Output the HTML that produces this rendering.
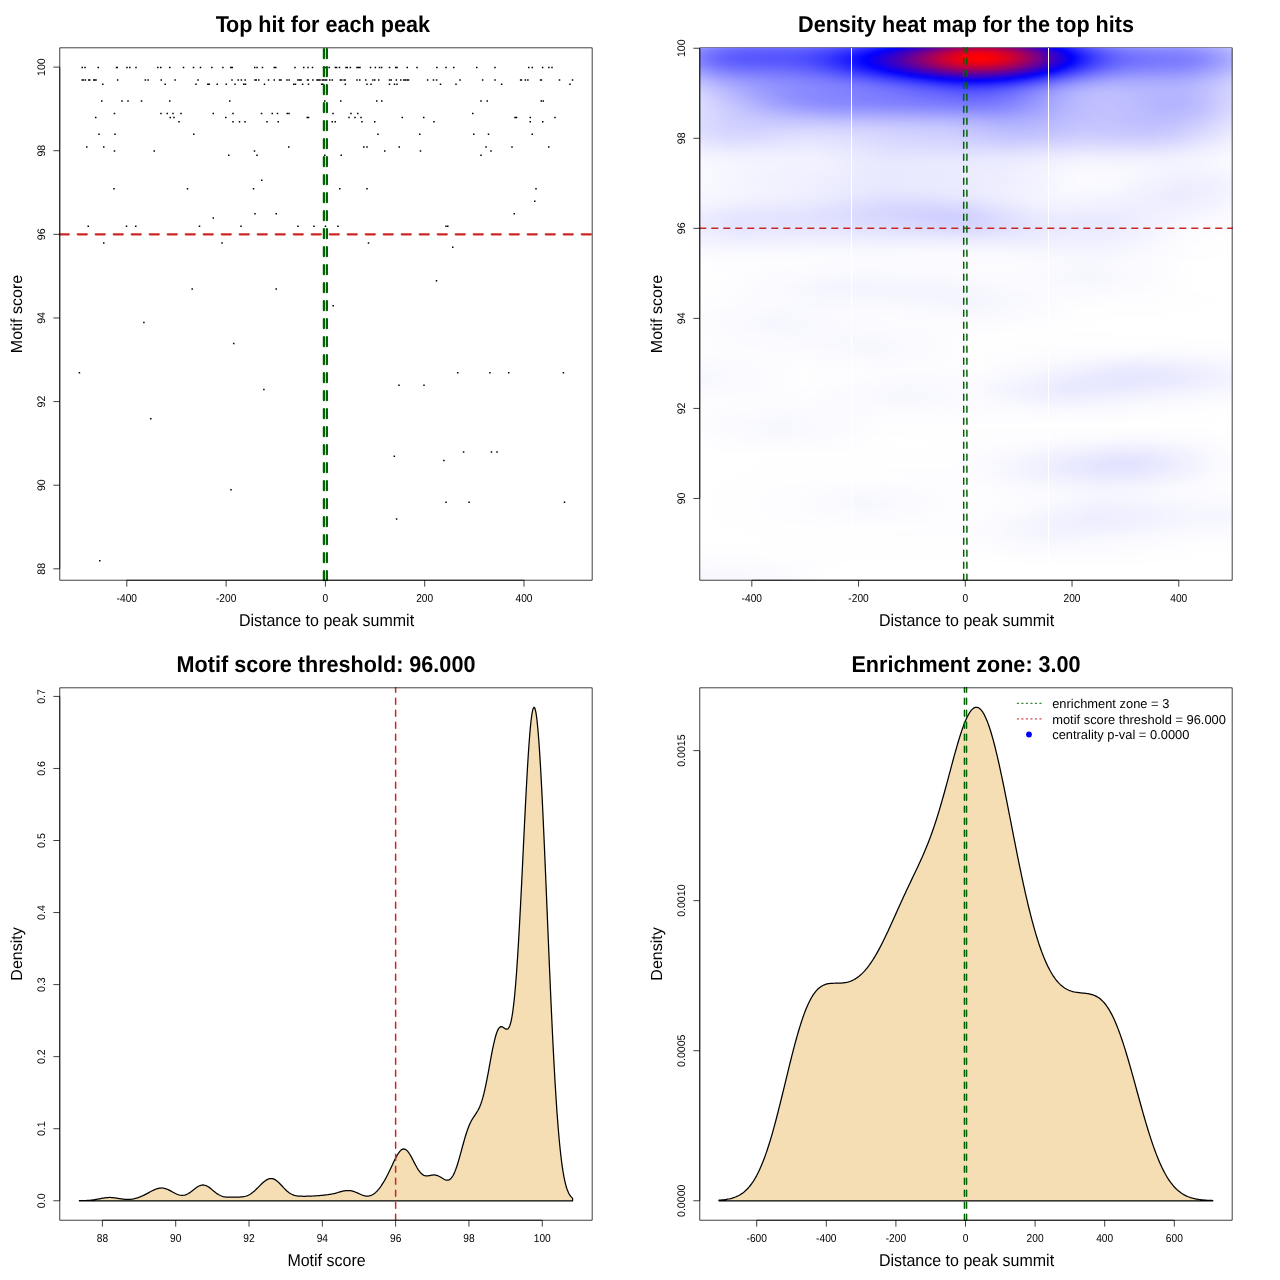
<!DOCTYPE html>
<html><head><meta charset="utf-8"><title>plot</title>
<style>html,body{margin:0;padding:0;background:#fff}svg{display:block}text{font-family:"Liberation Sans",sans-serif;fill:#000;font-kerning:normal;text-rendering:geometricPrecision;opacity:0.999}</style></head><body>
<svg width="1280" height="1280" viewBox="0 0 1280 1280">
<rect width="1280" height="1280" fill="#fff"/>
<!-- panel 1 -->
<g id="p1"><path d="M81.50 66.70h1.5v1.5h-1.5zM84.25 66.70h1.5v1.5h-1.5zM97.50 66.70h1.5v1.5h-1.5zM115.75 66.70h1.5v1.5h-1.5zM116.50 66.70h1.5v1.5h-1.5zM126.25 66.70h1.5v1.5h-1.5zM129.00 66.70h1.5v1.5h-1.5zM135.25 66.70h1.5v1.5h-1.5zM157.12 66.70h1.5v1.5h-1.5zM160.00 66.70h1.5v1.5h-1.5zM169.00 66.70h1.5v1.5h-1.5zM182.75 66.70h1.5v1.5h-1.5zM192.75 66.70h1.5v1.5h-1.5zM199.75 66.70h1.5v1.5h-1.5zM211.12 66.70h1.5v1.5h-1.5zM81.50 79.24h1.5v1.5h-1.5zM82.50 79.24h1.5v1.5h-1.5zM84.62 79.24h1.5v1.5h-1.5zM88.00 79.24h1.5v1.5h-1.5zM89.00 79.24h1.5v1.5h-1.5zM93.00 79.24h1.5v1.5h-1.5zM94.25 79.24h1.5v1.5h-1.5zM95.25 79.24h1.5v1.5h-1.5zM116.88 79.24h1.5v1.5h-1.5zM144.62 79.24h1.5v1.5h-1.5zM147.38 79.24h1.5v1.5h-1.5zM160.50 79.24h1.5v1.5h-1.5zM174.38 79.24h1.5v1.5h-1.5zM197.25 79.24h1.5v1.5h-1.5zM102.00 83.42h1.5v1.5h-1.5zM164.38 83.42h1.5v1.5h-1.5zM195.25 83.42h1.5v1.5h-1.5zM207.12 83.42h1.5v1.5h-1.5zM208.38 83.42h1.5v1.5h-1.5zM222.12 66.70h1.5v1.5h-1.5zM230.00 66.70h1.5v1.5h-1.5zM231.50 66.70h1.5v1.5h-1.5zM254.00 66.70h1.5v1.5h-1.5zM256.25 66.70h1.5v1.5h-1.5zM261.75 66.70h1.5v1.5h-1.5zM273.50 66.70h1.5v1.5h-1.5zM275.00 66.70h1.5v1.5h-1.5zM294.25 66.70h1.5v1.5h-1.5zM303.00 66.70h1.5v1.5h-1.5zM307.25 66.70h1.5v1.5h-1.5zM311.75 66.70h1.5v1.5h-1.5zM322.75 66.70h1.5v1.5h-1.5zM324.62 66.70h1.5v1.5h-1.5zM328.38 66.70h1.5v1.5h-1.5zM334.62 66.70h1.5v1.5h-1.5zM335.88 66.70h1.5v1.5h-1.5zM338.75 66.70h1.5v1.5h-1.5zM345.25 66.70h1.5v1.5h-1.5zM346.50 66.70h1.5v1.5h-1.5zM349.62 66.70h1.5v1.5h-1.5zM356.25 66.70h1.5v1.5h-1.5zM357.75 66.70h1.5v1.5h-1.5zM359.25 66.70h1.5v1.5h-1.5zM369.75 66.70h1.5v1.5h-1.5zM374.62 66.70h1.5v1.5h-1.5zM231.25 79.24h1.5v1.5h-1.5zM237.50 79.24h1.5v1.5h-1.5zM240.62 79.24h1.5v1.5h-1.5zM244.38 79.24h1.5v1.5h-1.5zM254.25 79.24h1.5v1.5h-1.5zM255.50 79.24h1.5v1.5h-1.5zM258.00 79.24h1.5v1.5h-1.5zM267.75 79.24h1.5v1.5h-1.5zM273.50 79.24h1.5v1.5h-1.5zM278.75 79.24h1.5v1.5h-1.5zM280.25 79.24h1.5v1.5h-1.5zM286.25 79.24h1.5v1.5h-1.5zM288.38 79.24h1.5v1.5h-1.5zM297.12 79.24h1.5v1.5h-1.5zM298.75 79.24h1.5v1.5h-1.5zM300.25 79.24h1.5v1.5h-1.5zM306.75 79.24h1.5v1.5h-1.5zM307.50 79.24h1.5v1.5h-1.5zM312.12 79.24h1.5v1.5h-1.5zM316.25 79.24h1.5v1.5h-1.5zM317.75 79.24h1.5v1.5h-1.5zM319.25 79.24h1.5v1.5h-1.5zM321.50 79.24h1.5v1.5h-1.5zM323.00 79.24h1.5v1.5h-1.5zM324.62 79.24h1.5v1.5h-1.5zM325.88 79.24h1.5v1.5h-1.5zM329.00 79.24h1.5v1.5h-1.5zM331.50 79.24h1.5v1.5h-1.5zM339.62 79.24h1.5v1.5h-1.5zM340.88 79.24h1.5v1.5h-1.5zM343.38 79.24h1.5v1.5h-1.5zM344.38 79.24h1.5v1.5h-1.5zM356.25 79.24h1.5v1.5h-1.5zM359.00 79.24h1.5v1.5h-1.5zM365.00 79.24h1.5v1.5h-1.5zM372.12 79.24h1.5v1.5h-1.5zM374.00 79.24h1.5v1.5h-1.5zM216.50 83.42h1.5v1.5h-1.5zM225.50 83.42h1.5v1.5h-1.5zM234.25 83.42h1.5v1.5h-1.5zM243.00 83.42h1.5v1.5h-1.5zM244.75 83.42h1.5v1.5h-1.5zM263.75 83.42h1.5v1.5h-1.5zM293.00 83.42h1.5v1.5h-1.5zM294.75 83.42h1.5v1.5h-1.5zM301.88 83.42h1.5v1.5h-1.5zM307.75 83.42h1.5v1.5h-1.5zM320.88 83.42h1.5v1.5h-1.5zM322.12 83.42h1.5v1.5h-1.5zM344.62 83.42h1.5v1.5h-1.5zM366.25 83.42h1.5v1.5h-1.5zM370.25 83.42h1.5v1.5h-1.5zM378.75 66.70h1.5v1.5h-1.5zM380.88 66.70h1.5v1.5h-1.5zM388.75 66.70h1.5v1.5h-1.5zM395.00 66.70h1.5v1.5h-1.5zM396.25 66.70h1.5v1.5h-1.5zM406.50 66.70h1.5v1.5h-1.5zM416.25 66.70h1.5v1.5h-1.5zM436.12 66.70h1.5v1.5h-1.5zM445.25 66.70h1.5v1.5h-1.5zM453.00 66.70h1.5v1.5h-1.5zM476.00 66.70h1.5v1.5h-1.5zM494.25 66.70h1.5v1.5h-1.5zM528.00 66.70h1.5v1.5h-1.5zM531.50 66.70h1.5v1.5h-1.5zM378.00 79.24h1.5v1.5h-1.5zM388.75 79.24h1.5v1.5h-1.5zM390.50 79.24h1.5v1.5h-1.5zM395.62 79.24h1.5v1.5h-1.5zM400.00 79.24h1.5v1.5h-1.5zM403.00 79.24h1.5v1.5h-1.5zM404.62 79.24h1.5v1.5h-1.5zM406.25 79.24h1.5v1.5h-1.5zM407.75 79.24h1.5v1.5h-1.5zM426.88 79.24h1.5v1.5h-1.5zM432.75 79.24h1.5v1.5h-1.5zM435.88 79.24h1.5v1.5h-1.5zM459.25 79.24h1.5v1.5h-1.5zM481.88 79.24h1.5v1.5h-1.5zM494.25 79.24h1.5v1.5h-1.5zM519.88 79.24h1.5v1.5h-1.5zM520.62 79.24h1.5v1.5h-1.5zM524.62 79.24h1.5v1.5h-1.5zM527.12 79.24h1.5v1.5h-1.5zM388.75 83.42h1.5v1.5h-1.5zM393.75 83.42h1.5v1.5h-1.5zM396.25 83.42h1.5v1.5h-1.5zM439.75 83.42h1.5v1.5h-1.5zM455.25 83.42h1.5v1.5h-1.5zM500.88 83.42h1.5v1.5h-1.5zM541.88 66.70h1.5v1.5h-1.5zM548.12 66.70h1.5v1.5h-1.5zM551.25 66.70h1.5v1.5h-1.5zM539.88 79.24h1.5v1.5h-1.5zM540.62 79.24h1.5v1.5h-1.5zM558.75 79.24h1.5v1.5h-1.5zM571.75 79.24h1.5v1.5h-1.5zM569.25 83.42h1.5v1.5h-1.5zM101.00 100.15h1.5v1.5h-1.5zM121.25 100.15h1.5v1.5h-1.5zM127.25 100.15h1.5v1.5h-1.5zM140.75 100.15h1.5v1.5h-1.5zM169.00 100.15h1.5v1.5h-1.5zM229.00 100.15h1.5v1.5h-1.5zM324.00 100.15h1.5v1.5h-1.5zM340.00 100.15h1.5v1.5h-1.5zM113.75 112.69h1.5v1.5h-1.5zM160.25 112.69h1.5v1.5h-1.5zM166.50 112.69h1.5v1.5h-1.5zM172.25 112.69h1.5v1.5h-1.5zM180.25 112.69h1.5v1.5h-1.5zM212.50 112.69h1.5v1.5h-1.5zM232.25 112.69h1.5v1.5h-1.5zM260.75 112.69h1.5v1.5h-1.5zM271.50 112.69h1.5v1.5h-1.5zM276.75 112.69h1.5v1.5h-1.5zM286.50 112.69h1.5v1.5h-1.5zM288.25 112.69h1.5v1.5h-1.5zM332.25 112.69h1.5v1.5h-1.5zM350.25 112.69h1.5v1.5h-1.5zM357.00 112.69h1.5v1.5h-1.5zM95.00 116.87h1.5v1.5h-1.5zM169.50 116.87h1.5v1.5h-1.5zM173.25 116.87h1.5v1.5h-1.5zM225.00 116.87h1.5v1.5h-1.5zM306.50 116.87h1.5v1.5h-1.5zM307.75 116.87h1.5v1.5h-1.5zM348.25 116.87h1.5v1.5h-1.5zM354.25 116.87h1.5v1.5h-1.5zM360.25 116.87h1.5v1.5h-1.5zM178.25 121.05h1.5v1.5h-1.5zM232.25 121.05h1.5v1.5h-1.5zM238.75 121.05h1.5v1.5h-1.5zM244.25 121.05h1.5v1.5h-1.5zM266.25 121.05h1.5v1.5h-1.5zM277.50 121.05h1.5v1.5h-1.5zM331.50 121.05h1.5v1.5h-1.5zM334.50 121.05h1.5v1.5h-1.5zM361.25 121.05h1.5v1.5h-1.5zM374.00 121.05h1.5v1.5h-1.5zM98.25 133.60h1.5v1.5h-1.5zM114.25 133.60h1.5v1.5h-1.5zM193.00 133.60h1.5v1.5h-1.5zM86.00 146.14h1.5v1.5h-1.5zM103.00 146.14h1.5v1.5h-1.5zM288.00 146.14h1.5v1.5h-1.5zM363.00 146.14h1.5v1.5h-1.5zM366.25 146.14h1.5v1.5h-1.5zM113.75 150.32h1.5v1.5h-1.5zM153.50 150.32h1.5v1.5h-1.5zM253.75 150.32h1.5v1.5h-1.5zM228.00 154.50h1.5v1.5h-1.5zM256.25 154.50h1.5v1.5h-1.5zM324.00 154.50h1.5v1.5h-1.5zM340.50 154.50h1.5v1.5h-1.5zM261.00 179.59h1.5v1.5h-1.5zM113.25 187.95h1.5v1.5h-1.5zM186.75 187.95h1.5v1.5h-1.5zM252.75 187.95h1.5v1.5h-1.5zM339.00 187.95h1.5v1.5h-1.5zM366.25 187.95h1.5v1.5h-1.5zM254.25 213.03h1.5v1.5h-1.5zM275.50 213.03h1.5v1.5h-1.5zM212.50 217.22h1.5v1.5h-1.5zM87.50 225.58h1.5v1.5h-1.5zM125.75 225.58h1.5v1.5h-1.5zM135.00 225.58h1.5v1.5h-1.5zM198.75 225.58h1.5v1.5h-1.5zM240.25 225.58h1.5v1.5h-1.5zM297.25 225.58h1.5v1.5h-1.5zM313.25 225.58h1.5v1.5h-1.5zM324.75 225.58h1.5v1.5h-1.5zM337.25 225.58h1.5v1.5h-1.5zM103.00 242.30h1.5v1.5h-1.5zM221.25 242.30h1.5v1.5h-1.5zM367.75 242.30h1.5v1.5h-1.5zM376.00 100.15h1.5v1.5h-1.5zM381.00 100.15h1.5v1.5h-1.5zM480.25 100.15h1.5v1.5h-1.5zM486.50 100.15h1.5v1.5h-1.5zM540.50 100.15h1.5v1.5h-1.5zM542.50 100.15h1.5v1.5h-1.5zM472.00 112.69h1.5v1.5h-1.5zM401.50 116.87h1.5v1.5h-1.5zM423.00 116.87h1.5v1.5h-1.5zM514.25 116.87h1.5v1.5h-1.5zM515.75 116.87h1.5v1.5h-1.5zM529.50 116.87h1.5v1.5h-1.5zM554.25 116.87h1.5v1.5h-1.5zM433.25 121.05h1.5v1.5h-1.5zM529.50 121.05h1.5v1.5h-1.5zM542.00 121.05h1.5v1.5h-1.5zM377.25 133.60h1.5v1.5h-1.5zM419.00 133.60h1.5v1.5h-1.5zM473.00 133.60h1.5v1.5h-1.5zM487.75 133.60h1.5v1.5h-1.5zM531.50 133.60h1.5v1.5h-1.5zM398.50 146.14h1.5v1.5h-1.5zM485.25 146.14h1.5v1.5h-1.5zM511.25 146.14h1.5v1.5h-1.5zM548.00 146.14h1.5v1.5h-1.5zM384.00 150.32h1.5v1.5h-1.5zM419.75 150.32h1.5v1.5h-1.5zM490.25 150.32h1.5v1.5h-1.5zM480.25 154.50h1.5v1.5h-1.5zM535.25 187.95h1.5v1.5h-1.5zM534.00 200.49h1.5v1.5h-1.5zM513.50 213.03h1.5v1.5h-1.5zM445.25 225.58h1.5v1.5h-1.5zM447.00 225.58h1.5v1.5h-1.5zM452.00 246.48h1.5v1.5h-1.5zM191.45 288.29h1.5v1.5h-1.5zM275.45 288.29h1.5v1.5h-1.5zM332.45 305.02h1.5v1.5h-1.5zM143.15 321.74h1.5v1.5h-1.5zM232.95 342.65h1.5v1.5h-1.5zM78.65 371.91h1.5v1.5h-1.5zM263.15 388.64h1.5v1.5h-1.5zM150.05 417.90h1.5v1.5h-1.5zM230.25 488.98h1.5v1.5h-1.5zM99.05 560.06h1.5v1.5h-1.5zM435.75 279.93h1.5v1.5h-1.5zM456.95 371.91h1.5v1.5h-1.5zM489.15 371.91h1.5v1.5h-1.5zM507.95 371.91h1.5v1.5h-1.5zM562.65 371.91h1.5v1.5h-1.5zM398.25 384.46h1.5v1.5h-1.5zM423.25 384.46h1.5v1.5h-1.5zM462.85 451.35h1.5v1.5h-1.5zM490.75 451.35h1.5v1.5h-1.5zM496.25 451.35h1.5v1.5h-1.5zM393.55 455.53h1.5v1.5h-1.5zM443.15 459.71h1.5v1.5h-1.5zM445.25 501.52h1.5v1.5h-1.5zM468.35 501.52h1.5v1.5h-1.5zM563.75 501.52h1.5v1.5h-1.5zM395.85 518.25h1.5v1.5h-1.5z" fill="#000"/><line x1="59.76" y1="234.34" x2="592.19" y2="234.34" stroke="#cd2626" stroke-width="2.25" stroke-dasharray="9 9" stroke-linecap="round"/><line x1="323.91" y1="580.24" x2="323.91" y2="47.81" stroke="#006400" stroke-width="2.25" stroke-dasharray="9 9" stroke-linecap="round"/><line x1="326.89" y1="580.24" x2="326.89" y2="47.81" stroke="#006400" stroke-width="2.25" stroke-dasharray="9 9" stroke-linecap="round"/><rect x="59.76" y="47.81" width="532.4300000000001" height="532.4300000000001" fill="none" stroke="#000" stroke-width="0.75" stroke-linejoin="round"/><line x1="126.80" y1="580.24" x2="524.00" y2="580.24" stroke="#000" stroke-width="0.75"/><line x1="126.80" y1="580.24" x2="126.80" y2="586.64" stroke="#000" stroke-width="0.75"/><text transform="translate(126.80,601.9) scale(1.02,1.14)" font-size="10" text-anchor="middle">-400</text><line x1="226.10" y1="580.24" x2="226.10" y2="586.64" stroke="#000" stroke-width="0.75"/><text transform="translate(226.10,601.9) scale(1.02,1.14)" font-size="10" text-anchor="middle">-200</text><line x1="325.40" y1="580.24" x2="325.40" y2="586.64" stroke="#000" stroke-width="0.75"/><text transform="translate(325.40,601.9) scale(1.02,1.14)" font-size="10" text-anchor="middle">0</text><line x1="424.70" y1="580.24" x2="424.70" y2="586.64" stroke="#000" stroke-width="0.75"/><text transform="translate(424.70,601.9) scale(1.02,1.14)" font-size="10" text-anchor="middle">200</text><line x1="524.00" y1="580.24" x2="524.00" y2="586.64" stroke="#000" stroke-width="0.75"/><text transform="translate(524.00,601.9) scale(1.02,1.14)" font-size="10" text-anchor="middle">400</text><line x1="59.76" y1="568.82" x2="59.76" y2="67.10" stroke="#000" stroke-width="0.75"/><line x1="53.36" y1="568.82" x2="59.76" y2="568.82" stroke="#000" stroke-width="0.75"/><text transform="translate(45.26,568.82) rotate(-90) scale(1.06,1.1)" font-size="10" text-anchor="middle">88</text><line x1="53.36" y1="485.20" x2="59.76" y2="485.20" stroke="#000" stroke-width="0.75"/><text transform="translate(45.26,485.20) rotate(-90) scale(1.06,1.1)" font-size="10" text-anchor="middle">90</text><line x1="53.36" y1="401.58" x2="59.76" y2="401.58" stroke="#000" stroke-width="0.75"/><text transform="translate(45.26,401.58) rotate(-90) scale(1.06,1.1)" font-size="10" text-anchor="middle">92</text><line x1="53.36" y1="317.96" x2="59.76" y2="317.96" stroke="#000" stroke-width="0.75"/><text transform="translate(45.26,317.96) rotate(-90) scale(1.06,1.1)" font-size="10" text-anchor="middle">94</text><line x1="53.36" y1="234.34" x2="59.76" y2="234.34" stroke="#000" stroke-width="0.75"/><text transform="translate(45.26,234.34) rotate(-90) scale(1.06,1.1)" font-size="10" text-anchor="middle">96</text><line x1="53.36" y1="150.72" x2="59.76" y2="150.72" stroke="#000" stroke-width="0.75"/><text transform="translate(45.26,150.72) rotate(-90) scale(1.06,1.1)" font-size="10" text-anchor="middle">98</text><line x1="53.36" y1="67.10" x2="59.76" y2="67.10" stroke="#000" stroke-width="0.75"/><text transform="translate(45.26,67.10) rotate(-90) scale(1.06,1.1)" font-size="10" text-anchor="middle">100</text><text transform="translate(322.8,32.0) scale(1,1.06)" font-size="21.6" font-weight="bold" text-anchor="middle">T<tspan dx="-1.3">op hit for each peak</tspan></text><text transform="translate(326.5,626.1) scale(1,1.06)" font-size="16" text-anchor="middle">Distance to peak summit</text><text transform="translate(22.10,314.0) rotate(-90)" font-size="16" text-anchor="middle">Motif score</text></g>
<!-- panel 2 -->
<g id="p2"><line x1="699.76" y1="47.81" x2="1232.19" y2="47.81" stroke="#000" stroke-width="0.75"/><defs><linearGradient id="h0" gradientUnits="userSpaceOnUse" x1="699.76" x2="1232.19" y1="0" y2="0"><stop offset="0.0000" stop-color="#9f9fff"/><stop offset="0.0338" stop-color="#8c8cff"/><stop offset="0.0639" stop-color="#8181ff"/><stop offset="0.0977" stop-color="#7c7cff"/><stop offset="0.1842" stop-color="#7979ff"/><stop offset="0.2256" stop-color="#7272ff"/><stop offset="0.2669" stop-color="#6464ff"/><stop offset="0.3045" stop-color="#5151ff"/><stop offset="0.3383" stop-color="#3939ff"/><stop offset="0.3684" stop-color="#1f1fff"/><stop offset="0.3947" stop-color="#0202ff"/><stop offset="0.3985" stop-color="#0300fc"/><stop offset="0.4662" stop-color="#5900a6"/><stop offset="0.4887" stop-color="#71008e"/><stop offset="0.5075" stop-color="#7e0081"/><stop offset="0.5226" stop-color="#83007c"/><stop offset="0.5376" stop-color="#84007b"/><stop offset="0.5526" stop-color="#7f0080"/><stop offset="0.5714" stop-color="#72008d"/><stop offset="0.5902" stop-color="#5e00a1"/><stop offset="0.6128" stop-color="#4000bf"/><stop offset="0.6504" stop-color="#0500fa"/><stop offset="0.6541" stop-color="#0101ff"/><stop offset="0.6880" stop-color="#3434ff"/><stop offset="0.7143" stop-color="#5656ff"/><stop offset="0.7406" stop-color="#7272ff"/><stop offset="0.7669" stop-color="#8686ff"/><stop offset="0.7932" stop-color="#9393ff"/><stop offset="0.8233" stop-color="#9b9bff"/><stop offset="0.9098" stop-color="#a2a2ff"/><stop offset="0.9436" stop-color="#ababff"/><stop offset="0.9812" stop-color="#bbbbff"/><stop offset="1.0000" stop-color="#c5c5ff"/></linearGradient><linearGradient id="h1" gradientUnits="userSpaceOnUse" x1="699.76" x2="1232.19" y1="0" y2="0"><stop offset="0.0000" stop-color="#9797ff"/><stop offset="0.0301" stop-color="#8585ff"/><stop offset="0.0602" stop-color="#7878ff"/><stop offset="0.0940" stop-color="#7272ff"/><stop offset="0.1805" stop-color="#7070ff"/><stop offset="0.2180" stop-color="#6969ff"/><stop offset="0.2556" stop-color="#5b5bff"/><stop offset="0.2932" stop-color="#4848ff"/><stop offset="0.3271" stop-color="#3030ff"/><stop offset="0.3571" stop-color="#1515ff"/><stop offset="0.3759" stop-color="#0101ff"/><stop offset="0.3835" stop-color="#0800f7"/><stop offset="0.4173" stop-color="#3400cb"/><stop offset="0.4624" stop-color="#73008c"/><stop offset="0.4850" stop-color="#8d0072"/><stop offset="0.5038" stop-color="#9c0063"/><stop offset="0.5188" stop-color="#a3005c"/><stop offset="0.5338" stop-color="#a4005b"/><stop offset="0.5489" stop-color="#a0005f"/><stop offset="0.5639" stop-color="#960069"/><stop offset="0.5827" stop-color="#84007b"/><stop offset="0.6015" stop-color="#6b0094"/><stop offset="0.6316" stop-color="#3b00c4"/><stop offset="0.6654" stop-color="#0200fd"/><stop offset="0.6692" stop-color="#0505ff"/><stop offset="0.6992" stop-color="#3333ff"/><stop offset="0.7256" stop-color="#5555ff"/><stop offset="0.7481" stop-color="#6c6cff"/><stop offset="0.7707" stop-color="#7e7eff"/><stop offset="0.7970" stop-color="#8b8bff"/><stop offset="0.8271" stop-color="#9393ff"/><stop offset="0.9098" stop-color="#9a9aff"/><stop offset="0.9436" stop-color="#a3a3ff"/><stop offset="0.9812" stop-color="#b5b5ff"/><stop offset="1.0000" stop-color="#c0c0ff"/></linearGradient><linearGradient id="h2" gradientUnits="userSpaceOnUse" x1="699.76" x2="1232.19" y1="0" y2="0"><stop offset="0.0000" stop-color="#9090ff"/><stop offset="0.0301" stop-color="#7c7cff"/><stop offset="0.0564" stop-color="#7171ff"/><stop offset="0.0865" stop-color="#6a6aff"/><stop offset="0.1805" stop-color="#6767ff"/><stop offset="0.2180" stop-color="#5f5fff"/><stop offset="0.2519" stop-color="#5151ff"/><stop offset="0.2895" stop-color="#3c3cff"/><stop offset="0.3233" stop-color="#2222ff"/><stop offset="0.3534" stop-color="#0606ff"/><stop offset="0.3571" stop-color="#0202ff"/><stop offset="0.3609" stop-color="#0200fd"/><stop offset="0.3910" stop-color="#2700d8"/><stop offset="0.4323" stop-color="#63009c"/><stop offset="0.4662" stop-color="#93006c"/><stop offset="0.4850" stop-color="#a90056"/><stop offset="0.5038" stop-color="#b90046"/><stop offset="0.5188" stop-color="#bf0040"/><stop offset="0.5338" stop-color="#c0003f"/><stop offset="0.5489" stop-color="#bc0043"/><stop offset="0.5639" stop-color="#b2004d"/><stop offset="0.5827" stop-color="#9e0061"/><stop offset="0.6015" stop-color="#83007c"/><stop offset="0.6278" stop-color="#5700a8"/><stop offset="0.6767" stop-color="#0000ff"/><stop offset="0.7030" stop-color="#2a2aff"/><stop offset="0.7256" stop-color="#4949ff"/><stop offset="0.7481" stop-color="#6161ff"/><stop offset="0.7707" stop-color="#7474ff"/><stop offset="0.7932" stop-color="#8181ff"/><stop offset="0.8195" stop-color="#8989ff"/><stop offset="0.8609" stop-color="#8e8eff"/><stop offset="0.9098" stop-color="#9292ff"/><stop offset="0.9398" stop-color="#9b9bff"/><stop offset="0.9737" stop-color="#ababff"/><stop offset="1.0000" stop-color="#bbbbff"/></linearGradient><linearGradient id="h3" gradientUnits="userSpaceOnUse" x1="699.76" x2="1232.19" y1="0" y2="0"><stop offset="0.0000" stop-color="#8a8aff"/><stop offset="0.0301" stop-color="#7676ff"/><stop offset="0.0564" stop-color="#6a6aff"/><stop offset="0.0865" stop-color="#6363ff"/><stop offset="0.1767" stop-color="#5f5fff"/><stop offset="0.2105" stop-color="#5858ff"/><stop offset="0.2444" stop-color="#4b4bff"/><stop offset="0.2782" stop-color="#3737ff"/><stop offset="0.3120" stop-color="#1e1eff"/><stop offset="0.3421" stop-color="#0101ff"/><stop offset="0.3459" stop-color="#0300fc"/><stop offset="0.3759" stop-color="#2600d9"/><stop offset="0.4060" stop-color="#5000af"/><stop offset="0.4586" stop-color="#a0005f"/><stop offset="0.4812" stop-color="#bd0042"/><stop offset="0.5000" stop-color="#ce0031"/><stop offset="0.5150" stop-color="#d60029"/><stop offset="0.5301" stop-color="#d90026"/><stop offset="0.5451" stop-color="#d5002a"/><stop offset="0.5602" stop-color="#cc0033"/><stop offset="0.5752" stop-color="#bd0042"/><stop offset="0.5940" stop-color="#a3005c"/><stop offset="0.6165" stop-color="#7e0081"/><stop offset="0.6805" stop-color="#0800f7"/><stop offset="0.6842" stop-color="#0100fe"/><stop offset="0.6880" stop-color="#0505ff"/><stop offset="0.7143" stop-color="#2e2eff"/><stop offset="0.7368" stop-color="#4c4cff"/><stop offset="0.7594" stop-color="#6363ff"/><stop offset="0.7820" stop-color="#7373ff"/><stop offset="0.8083" stop-color="#7f7fff"/><stop offset="0.8383" stop-color="#8585ff"/><stop offset="0.9060" stop-color="#8b8bff"/><stop offset="0.9361" stop-color="#9393ff"/><stop offset="0.9699" stop-color="#a4a4ff"/><stop offset="1.0000" stop-color="#b7b7ff"/></linearGradient><linearGradient id="h4" gradientUnits="userSpaceOnUse" x1="699.76" x2="1232.19" y1="0" y2="0"><stop offset="0.0000" stop-color="#8686ff"/><stop offset="0.0263" stop-color="#7373ff"/><stop offset="0.0526" stop-color="#6666ff"/><stop offset="0.0827" stop-color="#5e5eff"/><stop offset="0.1353" stop-color="#5c5cff"/><stop offset="0.1767" stop-color="#5a5aff"/><stop offset="0.2105" stop-color="#5252ff"/><stop offset="0.2444" stop-color="#4343ff"/><stop offset="0.2782" stop-color="#2e2eff"/><stop offset="0.3120" stop-color="#1212ff"/><stop offset="0.3308" stop-color="#0000ff"/><stop offset="0.3609" stop-color="#2200dd"/><stop offset="0.3910" stop-color="#4b00b4"/><stop offset="0.4586" stop-color="#b3004c"/><stop offset="0.4774" stop-color="#cc0033"/><stop offset="0.4962" stop-color="#df0020"/><stop offset="0.5113" stop-color="#e80017"/><stop offset="0.5263" stop-color="#ec0013"/><stop offset="0.5414" stop-color="#e90016"/><stop offset="0.5564" stop-color="#e0001f"/><stop offset="0.5714" stop-color="#d2002d"/><stop offset="0.5902" stop-color="#b90046"/><stop offset="0.6128" stop-color="#94006b"/><stop offset="0.6579" stop-color="#3e00c1"/><stop offset="0.6880" stop-color="#0600f9"/><stop offset="0.6917" stop-color="#0101ff"/><stop offset="0.7143" stop-color="#2525ff"/><stop offset="0.7368" stop-color="#4343ff"/><stop offset="0.7594" stop-color="#5b5bff"/><stop offset="0.7820" stop-color="#6c6cff"/><stop offset="0.8045" stop-color="#7777ff"/><stop offset="0.8346" stop-color="#7f7fff"/><stop offset="0.9060" stop-color="#8686ff"/><stop offset="0.9361" stop-color="#8e8eff"/><stop offset="0.9662" stop-color="#9d9dff"/><stop offset="1.0000" stop-color="#b3b3ff"/></linearGradient><linearGradient id="h5" gradientUnits="userSpaceOnUse" x1="699.76" x2="1232.19" y1="0" y2="0"><stop offset="0.0000" stop-color="#8282ff"/><stop offset="0.0263" stop-color="#6f6fff"/><stop offset="0.0526" stop-color="#6262ff"/><stop offset="0.0789" stop-color="#5b5bff"/><stop offset="0.1241" stop-color="#5959ff"/><stop offset="0.1692" stop-color="#5757ff"/><stop offset="0.2030" stop-color="#4f4fff"/><stop offset="0.2368" stop-color="#4141ff"/><stop offset="0.2707" stop-color="#2c2cff"/><stop offset="0.3045" stop-color="#1010ff"/><stop offset="0.3195" stop-color="#0101ff"/><stop offset="0.3233" stop-color="#0200fd"/><stop offset="0.3534" stop-color="#2400db"/><stop offset="0.3835" stop-color="#4c00b3"/><stop offset="0.4211" stop-color="#870078"/><stop offset="0.4586" stop-color="#c1003e"/><stop offset="0.4774" stop-color="#da0025"/><stop offset="0.4962" stop-color="#ec0013"/><stop offset="0.5113" stop-color="#f5000a"/><stop offset="0.5263" stop-color="#f90006"/><stop offset="0.5414" stop-color="#f60009"/><stop offset="0.5564" stop-color="#ec0013"/><stop offset="0.5714" stop-color="#de0021"/><stop offset="0.5902" stop-color="#c5003a"/><stop offset="0.6128" stop-color="#9f0060"/><stop offset="0.6541" stop-color="#4e00b1"/><stop offset="0.6880" stop-color="#0e00f1"/><stop offset="0.6955" stop-color="#0000ff"/><stop offset="0.7218" stop-color="#2929ff"/><stop offset="0.7444" stop-color="#4646ff"/><stop offset="0.7669" stop-color="#5c5cff"/><stop offset="0.7895" stop-color="#6c6cff"/><stop offset="0.8158" stop-color="#7676ff"/><stop offset="0.8496" stop-color="#7c7cff"/><stop offset="0.9023" stop-color="#8181ff"/><stop offset="0.9323" stop-color="#8989ff"/><stop offset="0.9624" stop-color="#9797ff"/><stop offset="1.0000" stop-color="#b1b1ff"/></linearGradient><linearGradient id="h6" gradientUnits="userSpaceOnUse" x1="699.76" x2="1232.19" y1="0" y2="0"><stop offset="0.0000" stop-color="#8181ff"/><stop offset="0.0263" stop-color="#6d6dff"/><stop offset="0.0526" stop-color="#6060ff"/><stop offset="0.0789" stop-color="#5959ff"/><stop offset="0.1241" stop-color="#5757ff"/><stop offset="0.1692" stop-color="#5555ff"/><stop offset="0.2030" stop-color="#4d4dff"/><stop offset="0.2331" stop-color="#3f3fff"/><stop offset="0.2669" stop-color="#2929ff"/><stop offset="0.3008" stop-color="#0d0dff"/><stop offset="0.3120" stop-color="#0202ff"/><stop offset="0.3158" stop-color="#0100fe"/><stop offset="0.3459" stop-color="#2200dd"/><stop offset="0.3759" stop-color="#4a00b5"/><stop offset="0.4098" stop-color="#7d0082"/><stop offset="0.4549" stop-color="#c4003b"/><stop offset="0.4774" stop-color="#e2001d"/><stop offset="0.4962" stop-color="#f4000b"/><stop offset="0.5113" stop-color="#fc0003"/><stop offset="0.5263" stop-color="#ff0000"/><stop offset="0.5414" stop-color="#fc0003"/><stop offset="0.5564" stop-color="#f2000d"/><stop offset="0.5714" stop-color="#e3001c"/><stop offset="0.5902" stop-color="#ca0035"/><stop offset="0.6128" stop-color="#a4005b"/><stop offset="0.6541" stop-color="#5300ac"/><stop offset="0.6880" stop-color="#1200ed"/><stop offset="0.6955" stop-color="#0500fa"/><stop offset="0.6992" stop-color="#0202ff"/><stop offset="0.7218" stop-color="#2525ff"/><stop offset="0.7444" stop-color="#4343ff"/><stop offset="0.7669" stop-color="#5959ff"/><stop offset="0.7895" stop-color="#6969ff"/><stop offset="0.8158" stop-color="#7373ff"/><stop offset="0.8496" stop-color="#7979ff"/><stop offset="0.9023" stop-color="#7e7eff"/><stop offset="0.9323" stop-color="#8686ff"/><stop offset="0.9624" stop-color="#9595ff"/><stop offset="1.0000" stop-color="#afafff"/></linearGradient><linearGradient id="h7" gradientUnits="userSpaceOnUse" x1="699.76" x2="1232.19" y1="0" y2="0"><stop offset="0.0000" stop-color="#8181ff"/><stop offset="0.0263" stop-color="#6d6dff"/><stop offset="0.0526" stop-color="#6060ff"/><stop offset="0.0789" stop-color="#5959ff"/><stop offset="0.1241" stop-color="#5757ff"/><stop offset="0.1692" stop-color="#5454ff"/><stop offset="0.2030" stop-color="#4c4cff"/><stop offset="0.2331" stop-color="#3e3eff"/><stop offset="0.2669" stop-color="#2727ff"/><stop offset="0.3008" stop-color="#0a0aff"/><stop offset="0.3083" stop-color="#0303ff"/><stop offset="0.3120" stop-color="#0100fe"/><stop offset="0.3459" stop-color="#2600d9"/><stop offset="0.3759" stop-color="#4e00b1"/><stop offset="0.4135" stop-color="#860079"/><stop offset="0.4549" stop-color="#c60039"/><stop offset="0.4737" stop-color="#df0020"/><stop offset="0.4925" stop-color="#f2000d"/><stop offset="0.5075" stop-color="#fb0004"/><stop offset="0.5226" stop-color="#ff0000"/><stop offset="0.5376" stop-color="#fd0002"/><stop offset="0.5526" stop-color="#f5000a"/><stop offset="0.5677" stop-color="#e70018"/><stop offset="0.5865" stop-color="#cf0030"/><stop offset="0.6053" stop-color="#b1004e"/><stop offset="0.6353" stop-color="#790086"/><stop offset="0.6842" stop-color="#1a00e5"/><stop offset="0.6955" stop-color="#0600f9"/><stop offset="0.6992" stop-color="#0101ff"/><stop offset="0.7218" stop-color="#2424ff"/><stop offset="0.7444" stop-color="#4242ff"/><stop offset="0.7669" stop-color="#5858ff"/><stop offset="0.7895" stop-color="#6767ff"/><stop offset="0.8158" stop-color="#7272ff"/><stop offset="0.8496" stop-color="#7878ff"/><stop offset="0.9023" stop-color="#7d7dff"/><stop offset="0.9323" stop-color="#8585ff"/><stop offset="0.9624" stop-color="#9494ff"/><stop offset="1.0000" stop-color="#aeaeff"/></linearGradient><linearGradient id="h8" gradientUnits="userSpaceOnUse" x1="699.76" x2="1232.19" y1="0" y2="0"><stop offset="0.0000" stop-color="#8282ff"/><stop offset="0.0263" stop-color="#6f6fff"/><stop offset="0.0526" stop-color="#6262ff"/><stop offset="0.0827" stop-color="#5b5bff"/><stop offset="0.1654" stop-color="#5656ff"/><stop offset="0.1992" stop-color="#4e4eff"/><stop offset="0.2293" stop-color="#4040ff"/><stop offset="0.2632" stop-color="#2a2aff"/><stop offset="0.2970" stop-color="#0e0eff"/><stop offset="0.3083" stop-color="#0303ff"/><stop offset="0.3120" stop-color="#0100fe"/><stop offset="0.3459" stop-color="#2600d9"/><stop offset="0.3797" stop-color="#5200ad"/><stop offset="0.4286" stop-color="#9c0063"/><stop offset="0.4586" stop-color="#c80037"/><stop offset="0.4774" stop-color="#df0020"/><stop offset="0.4962" stop-color="#ef0010"/><stop offset="0.5113" stop-color="#f60009"/><stop offset="0.5263" stop-color="#f80007"/><stop offset="0.5414" stop-color="#f5000a"/><stop offset="0.5564" stop-color="#eb0014"/><stop offset="0.5714" stop-color="#dc0023"/><stop offset="0.5902" stop-color="#c3003c"/><stop offset="0.6128" stop-color="#9e0061"/><stop offset="0.6541" stop-color="#5000af"/><stop offset="0.6880" stop-color="#1000ef"/><stop offset="0.6955" stop-color="#0300fc"/><stop offset="0.6992" stop-color="#0303ff"/><stop offset="0.7218" stop-color="#2626ff"/><stop offset="0.7444" stop-color="#4343ff"/><stop offset="0.7669" stop-color="#5959ff"/><stop offset="0.7895" stop-color="#6868ff"/><stop offset="0.8158" stop-color="#7272ff"/><stop offset="0.8496" stop-color="#7878ff"/><stop offset="0.9023" stop-color="#7d7dff"/><stop offset="0.9323" stop-color="#8585ff"/><stop offset="0.9624" stop-color="#9595ff"/><stop offset="1.0000" stop-color="#aeaeff"/></linearGradient><linearGradient id="h9" gradientUnits="userSpaceOnUse" x1="699.76" x2="1232.19" y1="0" y2="0"><stop offset="0.0000" stop-color="#8585ff"/><stop offset="0.0263" stop-color="#7272ff"/><stop offset="0.0526" stop-color="#6565ff"/><stop offset="0.0827" stop-color="#5e5eff"/><stop offset="0.1654" stop-color="#5959ff"/><stop offset="0.1992" stop-color="#5151ff"/><stop offset="0.2293" stop-color="#4343ff"/><stop offset="0.2632" stop-color="#2d2dff"/><stop offset="0.3008" stop-color="#0d0dff"/><stop offset="0.3120" stop-color="#0202ff"/><stop offset="0.3158" stop-color="#0200fd"/><stop offset="0.3496" stop-color="#2700d8"/><stop offset="0.3835" stop-color="#5300ac"/><stop offset="0.4511" stop-color="#b5004a"/><stop offset="0.4737" stop-color="#d0002f"/><stop offset="0.4925" stop-color="#e1001e"/><stop offset="0.5075" stop-color="#e90016"/><stop offset="0.5226" stop-color="#ec0013"/><stop offset="0.5376" stop-color="#e90016"/><stop offset="0.5526" stop-color="#e1001e"/><stop offset="0.5677" stop-color="#d4002b"/><stop offset="0.5865" stop-color="#bd0042"/><stop offset="0.6090" stop-color="#9a0065"/><stop offset="0.6429" stop-color="#5d00a2"/><stop offset="0.6842" stop-color="#1100ee"/><stop offset="0.6917" stop-color="#0400fb"/><stop offset="0.6955" stop-color="#0202ff"/><stop offset="0.7180" stop-color="#2525ff"/><stop offset="0.7406" stop-color="#4242ff"/><stop offset="0.7632" stop-color="#5858ff"/><stop offset="0.7857" stop-color="#6868ff"/><stop offset="0.8120" stop-color="#7373ff"/><stop offset="0.8459" stop-color="#7979ff"/><stop offset="0.9023" stop-color="#7f7fff"/><stop offset="0.9323" stop-color="#8787ff"/><stop offset="0.9624" stop-color="#9696ff"/><stop offset="1.0000" stop-color="#afafff"/></linearGradient><linearGradient id="h10" gradientUnits="userSpaceOnUse" x1="699.76" x2="1232.19" y1="0" y2="0"><stop offset="0.0000" stop-color="#8989ff"/><stop offset="0.0263" stop-color="#7676ff"/><stop offset="0.0526" stop-color="#6a6aff"/><stop offset="0.0827" stop-color="#6363ff"/><stop offset="0.1654" stop-color="#5d5dff"/><stop offset="0.1992" stop-color="#5555ff"/><stop offset="0.2293" stop-color="#4747ff"/><stop offset="0.2632" stop-color="#3131ff"/><stop offset="0.3008" stop-color="#1212ff"/><stop offset="0.3195" stop-color="#0000ff"/><stop offset="0.3496" stop-color="#2000df"/><stop offset="0.3835" stop-color="#4a00b5"/><stop offset="0.4511" stop-color="#a70058"/><stop offset="0.4737" stop-color="#c1003e"/><stop offset="0.4925" stop-color="#d0002f"/><stop offset="0.5075" stop-color="#d80027"/><stop offset="0.5226" stop-color="#da0025"/><stop offset="0.5376" stop-color="#d70028"/><stop offset="0.5526" stop-color="#cf0030"/><stop offset="0.5714" stop-color="#be0041"/><stop offset="0.5902" stop-color="#a70058"/><stop offset="0.6128" stop-color="#85007a"/><stop offset="0.6579" stop-color="#3500ca"/><stop offset="0.6880" stop-color="#0100fe"/><stop offset="0.6917" stop-color="#0505ff"/><stop offset="0.7180" stop-color="#2c2cff"/><stop offset="0.7406" stop-color="#4848ff"/><stop offset="0.7632" stop-color="#5d5dff"/><stop offset="0.7857" stop-color="#6c6cff"/><stop offset="0.8120" stop-color="#7676ff"/><stop offset="0.8459" stop-color="#7c7cff"/><stop offset="0.9023" stop-color="#8181ff"/><stop offset="0.9323" stop-color="#8a8aff"/><stop offset="0.9624" stop-color="#9898ff"/><stop offset="1.0000" stop-color="#b1b1ff"/></linearGradient><linearGradient id="h11" gradientUnits="userSpaceOnUse" x1="699.76" x2="1232.19" y1="0" y2="0"><stop offset="0.0000" stop-color="#8e8eff"/><stop offset="0.0301" stop-color="#7a7aff"/><stop offset="0.0564" stop-color="#6f6fff"/><stop offset="0.0865" stop-color="#6868ff"/><stop offset="0.1654" stop-color="#6262ff"/><stop offset="0.1992" stop-color="#5a5aff"/><stop offset="0.2331" stop-color="#4b4bff"/><stop offset="0.2669" stop-color="#3535ff"/><stop offset="0.3083" stop-color="#1313ff"/><stop offset="0.3271" stop-color="#0202ff"/><stop offset="0.3308" stop-color="#0200fd"/><stop offset="0.3684" stop-color="#2b00d4"/><stop offset="0.4135" stop-color="#64009b"/><stop offset="0.4511" stop-color="#94006b"/><stop offset="0.4737" stop-color="#ac0053"/><stop offset="0.4925" stop-color="#bb0044"/><stop offset="0.5113" stop-color="#c2003d"/><stop offset="0.5263" stop-color="#c3003c"/><stop offset="0.5414" stop-color="#bf0040"/><stop offset="0.5602" stop-color="#b3004c"/><stop offset="0.5789" stop-color="#a1005e"/><stop offset="0.6015" stop-color="#83007c"/><stop offset="0.6316" stop-color="#5400ab"/><stop offset="0.6805" stop-color="#0100fe"/><stop offset="0.6842" stop-color="#0505ff"/><stop offset="0.7105" stop-color="#2c2cff"/><stop offset="0.7331" stop-color="#4747ff"/><stop offset="0.7556" stop-color="#5d5dff"/><stop offset="0.7782" stop-color="#6d6dff"/><stop offset="0.8045" stop-color="#7979ff"/><stop offset="0.8383" stop-color="#7f7fff"/><stop offset="0.9023" stop-color="#8585ff"/><stop offset="0.9323" stop-color="#8e8eff"/><stop offset="0.9662" stop-color="#9e9eff"/><stop offset="1.0000" stop-color="#b4b4ff"/></linearGradient><linearGradient id="h12" gradientUnits="userSpaceOnUse" x1="699.76" x2="1232.19" y1="0" y2="0"><stop offset="0.0000" stop-color="#9494ff"/><stop offset="0.0301" stop-color="#8181ff"/><stop offset="0.0564" stop-color="#7575ff"/><stop offset="0.0902" stop-color="#6e6eff"/><stop offset="0.1654" stop-color="#6868ff"/><stop offset="0.1992" stop-color="#6060ff"/><stop offset="0.2331" stop-color="#5151ff"/><stop offset="0.2707" stop-color="#3a3aff"/><stop offset="0.3120" stop-color="#1a1aff"/><stop offset="0.3383" stop-color="#0202ff"/><stop offset="0.3421" stop-color="#0200fd"/><stop offset="0.3797" stop-color="#2a00d5"/><stop offset="0.4511" stop-color="#7f0080"/><stop offset="0.4737" stop-color="#95006a"/><stop offset="0.4925" stop-color="#a2005d"/><stop offset="0.5113" stop-color="#a90056"/><stop offset="0.5301" stop-color="#a80057"/><stop offset="0.5489" stop-color="#a1005e"/><stop offset="0.5677" stop-color="#93006c"/><stop offset="0.5865" stop-color="#80007f"/><stop offset="0.6090" stop-color="#62009d"/><stop offset="0.6504" stop-color="#2200dd"/><stop offset="0.6692" stop-color="#0400fb"/><stop offset="0.6729" stop-color="#0202ff"/><stop offset="0.7030" stop-color="#2d2dff"/><stop offset="0.7293" stop-color="#4d4dff"/><stop offset="0.7519" stop-color="#6363ff"/><stop offset="0.7744" stop-color="#7272ff"/><stop offset="0.8008" stop-color="#7e7eff"/><stop offset="0.8346" stop-color="#8484ff"/><stop offset="0.8985" stop-color="#8989ff"/><stop offset="0.9323" stop-color="#9292ff"/><stop offset="0.9662" stop-color="#a2a2ff"/><stop offset="1.0000" stop-color="#b7b7ff"/></linearGradient><linearGradient id="h13" gradientUnits="userSpaceOnUse" x1="699.76" x2="1232.19" y1="0" y2="0"><stop offset="0.0000" stop-color="#9b9bff"/><stop offset="0.0301" stop-color="#8888ff"/><stop offset="0.0602" stop-color="#7b7bff"/><stop offset="0.0940" stop-color="#7474ff"/><stop offset="0.1692" stop-color="#6d6dff"/><stop offset="0.2068" stop-color="#6464ff"/><stop offset="0.2444" stop-color="#5353ff"/><stop offset="0.2857" stop-color="#3939ff"/><stop offset="0.3308" stop-color="#1616ff"/><stop offset="0.3534" stop-color="#0202ff"/><stop offset="0.3571" stop-color="#0200fd"/><stop offset="0.4023" stop-color="#3100ce"/><stop offset="0.4511" stop-color="#660099"/><stop offset="0.4737" stop-color="#7a0085"/><stop offset="0.4925" stop-color="#860079"/><stop offset="0.5113" stop-color="#8c0073"/><stop offset="0.5301" stop-color="#8c0073"/><stop offset="0.5489" stop-color="#85007a"/><stop offset="0.5677" stop-color="#780087"/><stop offset="0.5902" stop-color="#61009e"/><stop offset="0.6165" stop-color="#4000bf"/><stop offset="0.6579" stop-color="#0300fc"/><stop offset="0.6617" stop-color="#0202ff"/><stop offset="0.6955" stop-color="#3232ff"/><stop offset="0.7218" stop-color="#5151ff"/><stop offset="0.7481" stop-color="#6969ff"/><stop offset="0.7744" stop-color="#7a7aff"/><stop offset="0.8008" stop-color="#8484ff"/><stop offset="0.8346" stop-color="#8a8aff"/><stop offset="0.8985" stop-color="#8f8fff"/><stop offset="0.9323" stop-color="#9797ff"/><stop offset="0.9662" stop-color="#a6a6ff"/><stop offset="1.0000" stop-color="#babaff"/></linearGradient><linearGradient id="h14" gradientUnits="userSpaceOnUse" x1="699.76" x2="1232.19" y1="0" y2="0"><stop offset="0.0000" stop-color="#a1a1ff"/><stop offset="0.0338" stop-color="#8d8dff"/><stop offset="0.0639" stop-color="#8181ff"/><stop offset="0.1015" stop-color="#7a7aff"/><stop offset="0.1729" stop-color="#7373ff"/><stop offset="0.2105" stop-color="#6969ff"/><stop offset="0.2481" stop-color="#5959ff"/><stop offset="0.2932" stop-color="#3f3fff"/><stop offset="0.3383" stop-color="#1e1eff"/><stop offset="0.3722" stop-color="#0101ff"/><stop offset="0.3759" stop-color="#0300fc"/><stop offset="0.4511" stop-color="#4c00b3"/><stop offset="0.4774" stop-color="#61009e"/><stop offset="0.4962" stop-color="#6b0094"/><stop offset="0.5150" stop-color="#6f0090"/><stop offset="0.5338" stop-color="#6d0092"/><stop offset="0.5526" stop-color="#660099"/><stop offset="0.5714" stop-color="#5800a7"/><stop offset="0.5940" stop-color="#4200bd"/><stop offset="0.6241" stop-color="#1d00e2"/><stop offset="0.6429" stop-color="#0400fb"/><stop offset="0.6466" stop-color="#0101ff"/><stop offset="0.6880" stop-color="#3838ff"/><stop offset="0.7143" stop-color="#5656ff"/><stop offset="0.7406" stop-color="#6e6eff"/><stop offset="0.7669" stop-color="#7f7fff"/><stop offset="0.7932" stop-color="#8989ff"/><stop offset="0.8271" stop-color="#8f8fff"/><stop offset="0.8985" stop-color="#9494ff"/><stop offset="0.9323" stop-color="#9c9cff"/><stop offset="0.9662" stop-color="#ababff"/><stop offset="1.0000" stop-color="#bebeff"/></linearGradient><linearGradient id="h15" gradientUnits="userSpaceOnUse" x1="699.76" x2="1232.19" y1="0" y2="0"><stop offset="0.0000" stop-color="#a8a8ff"/><stop offset="0.0376" stop-color="#9393ff"/><stop offset="0.0714" stop-color="#8787ff"/><stop offset="0.1165" stop-color="#7f7fff"/><stop offset="0.1805" stop-color="#7777ff"/><stop offset="0.2218" stop-color="#6c6cff"/><stop offset="0.2632" stop-color="#5a5aff"/><stop offset="0.3120" stop-color="#3f3fff"/><stop offset="0.3571" stop-color="#1f1fff"/><stop offset="0.3947" stop-color="#0000ff"/><stop offset="0.4549" stop-color="#3500ca"/><stop offset="0.4812" stop-color="#4700b8"/><stop offset="0.5038" stop-color="#4f00b0"/><stop offset="0.5226" stop-color="#5100ae"/><stop offset="0.5414" stop-color="#4d00b2"/><stop offset="0.5602" stop-color="#4400bb"/><stop offset="0.5827" stop-color="#3200cd"/><stop offset="0.6090" stop-color="#1700e8"/><stop offset="0.6278" stop-color="#0100fe"/><stop offset="0.6316" stop-color="#0404ff"/><stop offset="0.6842" stop-color="#4444ff"/><stop offset="0.7143" stop-color="#6464ff"/><stop offset="0.7406" stop-color="#7979ff"/><stop offset="0.7669" stop-color="#8888ff"/><stop offset="0.7970" stop-color="#9292ff"/><stop offset="0.8346" stop-color="#9696ff"/><stop offset="0.8947" stop-color="#9999ff"/><stop offset="0.9286" stop-color="#a1a1ff"/><stop offset="0.9662" stop-color="#b0b0ff"/><stop offset="1.0000" stop-color="#c2c2ff"/></linearGradient><linearGradient id="h16" gradientUnits="userSpaceOnUse" x1="699.76" x2="1232.19" y1="0" y2="0"><stop offset="0.0000" stop-color="#afafff"/><stop offset="0.0376" stop-color="#9a9aff"/><stop offset="0.0714" stop-color="#8d8dff"/><stop offset="0.1165" stop-color="#8585ff"/><stop offset="0.1917" stop-color="#7a7aff"/><stop offset="0.2368" stop-color="#6e6eff"/><stop offset="0.2857" stop-color="#5959ff"/><stop offset="0.3383" stop-color="#3b3bff"/><stop offset="0.3872" stop-color="#1919ff"/><stop offset="0.4173" stop-color="#0101ff"/><stop offset="0.4211" stop-color="#0200fd"/><stop offset="0.4624" stop-color="#2000df"/><stop offset="0.4887" stop-color="#2e00d1"/><stop offset="0.5113" stop-color="#3400cb"/><stop offset="0.5338" stop-color="#3200cd"/><stop offset="0.5564" stop-color="#2a00d5"/><stop offset="0.5789" stop-color="#1b00e4"/><stop offset="0.6053" stop-color="#0300fc"/><stop offset="0.6090" stop-color="#0101ff"/><stop offset="0.6880" stop-color="#5959ff"/><stop offset="0.7180" stop-color="#7474ff"/><stop offset="0.7444" stop-color="#8686ff"/><stop offset="0.7707" stop-color="#9292ff"/><stop offset="0.8008" stop-color="#9a9aff"/><stop offset="0.8496" stop-color="#9c9cff"/><stop offset="0.8985" stop-color="#9f9fff"/><stop offset="0.9323" stop-color="#a7a7ff"/><stop offset="0.9699" stop-color="#b6b6ff"/><stop offset="1.0000" stop-color="#c6c6ff"/></linearGradient><linearGradient id="h17" gradientUnits="userSpaceOnUse" x1="699.76" x2="1232.19" y1="0" y2="0"><stop offset="0.0000" stop-color="#b5b5ff"/><stop offset="0.0414" stop-color="#9f9fff"/><stop offset="0.0789" stop-color="#9292ff"/><stop offset="0.1278" stop-color="#8888ff"/><stop offset="0.2030" stop-color="#7d7dff"/><stop offset="0.2519" stop-color="#6f6fff"/><stop offset="0.3045" stop-color="#5a5aff"/><stop offset="0.3571" stop-color="#3e3eff"/><stop offset="0.4135" stop-color="#1919ff"/><stop offset="0.4474" stop-color="#0202ff"/><stop offset="0.4511" stop-color="#0100fe"/><stop offset="0.4812" stop-color="#1100ee"/><stop offset="0.5038" stop-color="#1700e8"/><stop offset="0.5263" stop-color="#1800e7"/><stop offset="0.5489" stop-color="#1200ed"/><stop offset="0.5714" stop-color="#0700f8"/><stop offset="0.5789" stop-color="#0100fe"/><stop offset="0.5827" stop-color="#0202ff"/><stop offset="0.6128" stop-color="#1c1cff"/><stop offset="0.6842" stop-color="#6565ff"/><stop offset="0.7143" stop-color="#7e7eff"/><stop offset="0.7406" stop-color="#8f8fff"/><stop offset="0.7707" stop-color="#9b9bff"/><stop offset="0.8045" stop-color="#a1a1ff"/><stop offset="0.8947" stop-color="#a4a4ff"/><stop offset="0.9323" stop-color="#ababff"/><stop offset="0.9699" stop-color="#babaff"/><stop offset="1.0000" stop-color="#c9c9ff"/></linearGradient><linearGradient id="h18" gradientUnits="userSpaceOnUse" x1="699.76" x2="1232.19" y1="0" y2="0"><stop offset="0.0000" stop-color="#bbbbff"/><stop offset="0.0451" stop-color="#a4a4ff"/><stop offset="0.0865" stop-color="#9595ff"/><stop offset="0.1429" stop-color="#8a8aff"/><stop offset="0.2256" stop-color="#7c7cff"/><stop offset="0.2820" stop-color="#6c6cff"/><stop offset="0.3383" stop-color="#5555ff"/><stop offset="0.3910" stop-color="#3939ff"/><stop offset="0.4586" stop-color="#1111ff"/><stop offset="0.4887" stop-color="#0505ff"/><stop offset="0.5150" stop-color="#0000ff"/><stop offset="0.5376" stop-color="#0303ff"/><stop offset="0.5602" stop-color="#0b0bff"/><stop offset="0.5865" stop-color="#1b1bff"/><stop offset="0.6203" stop-color="#3838ff"/><stop offset="0.6842" stop-color="#7373ff"/><stop offset="0.7143" stop-color="#8a8aff"/><stop offset="0.7444" stop-color="#9a9aff"/><stop offset="0.7744" stop-color="#a3a3ff"/><stop offset="0.8120" stop-color="#a7a7ff"/><stop offset="0.8872" stop-color="#a7a7ff"/><stop offset="0.9248" stop-color="#adadff"/><stop offset="0.9624" stop-color="#babaff"/><stop offset="1.0000" stop-color="#ccccff"/></linearGradient><linearGradient id="h19" gradientUnits="userSpaceOnUse" x1="699.76" x2="1232.19" y1="0" y2="0"><stop offset="0.0000" stop-color="#c0c0ff"/><stop offset="0.0526" stop-color="#a6a6ff"/><stop offset="0.0940" stop-color="#9898ff"/><stop offset="0.1504" stop-color="#8c8cff"/><stop offset="0.2444" stop-color="#7c7cff"/><stop offset="0.3045" stop-color="#6c6cff"/><stop offset="0.3609" stop-color="#5656ff"/><stop offset="0.4662" stop-color="#2222ff"/><stop offset="0.4962" stop-color="#1818ff"/><stop offset="0.5226" stop-color="#1616ff"/><stop offset="0.5451" stop-color="#1b1bff"/><stop offset="0.5714" stop-color="#2626ff"/><stop offset="0.6015" stop-color="#3b3bff"/><stop offset="0.6842" stop-color="#8080ff"/><stop offset="0.7143" stop-color="#9494ff"/><stop offset="0.7444" stop-color="#a2a2ff"/><stop offset="0.7744" stop-color="#aaaaff"/><stop offset="0.8158" stop-color="#acacff"/><stop offset="0.8872" stop-color="#ababff"/><stop offset="0.9248" stop-color="#b1b1ff"/><stop offset="0.9624" stop-color="#bdbdff"/><stop offset="1.0000" stop-color="#ceceff"/></linearGradient><linearGradient id="h20" gradientUnits="userSpaceOnUse" x1="699.76" x2="1232.19" y1="0" y2="0"><stop offset="0.0000" stop-color="#c5c5ff"/><stop offset="0.0564" stop-color="#a9a9ff"/><stop offset="0.1015" stop-color="#9999ff"/><stop offset="0.1579" stop-color="#8d8dff"/><stop offset="0.2707" stop-color="#7b7bff"/><stop offset="0.3308" stop-color="#6b6bff"/><stop offset="0.3910" stop-color="#5454ff"/><stop offset="0.4662" stop-color="#3333ff"/><stop offset="0.4962" stop-color="#2b2bff"/><stop offset="0.5226" stop-color="#2929ff"/><stop offset="0.5489" stop-color="#2e2eff"/><stop offset="0.5752" stop-color="#3a3aff"/><stop offset="0.6090" stop-color="#5151ff"/><stop offset="0.6805" stop-color="#8989ff"/><stop offset="0.7143" stop-color="#9e9eff"/><stop offset="0.7444" stop-color="#a9a9ff"/><stop offset="0.7782" stop-color="#b0b0ff"/><stop offset="0.8271" stop-color="#afafff"/><stop offset="0.8835" stop-color="#aeaeff"/><stop offset="0.9211" stop-color="#b3b3ff"/><stop offset="0.9586" stop-color="#bebeff"/><stop offset="1.0000" stop-color="#d0d0ff"/></linearGradient><linearGradient id="h21" gradientUnits="userSpaceOnUse" x1="699.76" x2="1232.19" y1="0" y2="0"><stop offset="0.0000" stop-color="#c9c9ff"/><stop offset="0.0639" stop-color="#aaaaff"/><stop offset="0.1128" stop-color="#9999ff"/><stop offset="0.1692" stop-color="#8d8dff"/><stop offset="0.2895" stop-color="#7b7bff"/><stop offset="0.3534" stop-color="#6b6bff"/><stop offset="0.4248" stop-color="#5151ff"/><stop offset="0.4774" stop-color="#3e3eff"/><stop offset="0.5075" stop-color="#3939ff"/><stop offset="0.5338" stop-color="#3b3bff"/><stop offset="0.5602" stop-color="#4242ff"/><stop offset="0.5902" stop-color="#5252ff"/><stop offset="0.6391" stop-color="#7575ff"/><stop offset="0.6842" stop-color="#9595ff"/><stop offset="0.7180" stop-color="#a7a7ff"/><stop offset="0.7481" stop-color="#b0b0ff"/><stop offset="0.7820" stop-color="#b4b4ff"/><stop offset="0.8496" stop-color="#b1b1ff"/><stop offset="0.8947" stop-color="#b1b1ff"/><stop offset="0.9323" stop-color="#b7b7ff"/><stop offset="0.9737" stop-color="#c6c6ff"/><stop offset="1.0000" stop-color="#d2d2ff"/></linearGradient><linearGradient id="h22" gradientUnits="userSpaceOnUse" x1="699.76" x2="1232.19" y1="0" y2="0"><stop offset="0.0000" stop-color="#cdcdff"/><stop offset="0.0714" stop-color="#ababff"/><stop offset="0.1241" stop-color="#9898ff"/><stop offset="0.1805" stop-color="#8c8cff"/><stop offset="0.3045" stop-color="#7b7bff"/><stop offset="0.3722" stop-color="#6b6bff"/><stop offset="0.4737" stop-color="#4b4bff"/><stop offset="0.5075" stop-color="#4646ff"/><stop offset="0.5338" stop-color="#4848ff"/><stop offset="0.5602" stop-color="#4f4fff"/><stop offset="0.5902" stop-color="#5e5eff"/><stop offset="0.6466" stop-color="#8484ff"/><stop offset="0.6880" stop-color="#9f9fff"/><stop offset="0.7218" stop-color="#aeaeff"/><stop offset="0.7556" stop-color="#b6b6ff"/><stop offset="0.7932" stop-color="#b7b7ff"/><stop offset="0.8797" stop-color="#b2b2ff"/><stop offset="0.9173" stop-color="#b5b5ff"/><stop offset="0.9549" stop-color="#c0c0ff"/><stop offset="1.0000" stop-color="#d3d3ff"/></linearGradient><linearGradient id="h23" gradientUnits="userSpaceOnUse" x1="699.76" x2="1232.19" y1="0" y2="0"><stop offset="0.0000" stop-color="#d0d0ff"/><stop offset="0.0827" stop-color="#a9a9ff"/><stop offset="0.1353" stop-color="#9797ff"/><stop offset="0.1880" stop-color="#8b8bff"/><stop offset="0.3195" stop-color="#7b7bff"/><stop offset="0.3910" stop-color="#6b6bff"/><stop offset="0.4774" stop-color="#5454ff"/><stop offset="0.5113" stop-color="#5050ff"/><stop offset="0.5414" stop-color="#5353ff"/><stop offset="0.5714" stop-color="#5e5eff"/><stop offset="0.6053" stop-color="#7070ff"/><stop offset="0.6767" stop-color="#9f9fff"/><stop offset="0.7105" stop-color="#afafff"/><stop offset="0.7444" stop-color="#b8b8ff"/><stop offset="0.7820" stop-color="#babaff"/><stop offset="0.8759" stop-color="#b3b3ff"/><stop offset="0.9135" stop-color="#b6b6ff"/><stop offset="0.9511" stop-color="#c0c0ff"/><stop offset="1.0000" stop-color="#d4d4ff"/></linearGradient><linearGradient id="h24" gradientUnits="userSpaceOnUse" x1="699.76" x2="1232.19" y1="0" y2="0"><stop offset="0.0000" stop-color="#d3d3ff"/><stop offset="0.0902" stop-color="#a9a9ff"/><stop offset="0.1429" stop-color="#9696ff"/><stop offset="0.1917" stop-color="#8b8bff"/><stop offset="0.3308" stop-color="#7b7bff"/><stop offset="0.4135" stop-color="#6b6bff"/><stop offset="0.4850" stop-color="#5b5bff"/><stop offset="0.5188" stop-color="#5959ff"/><stop offset="0.5489" stop-color="#5e5eff"/><stop offset="0.5789" stop-color="#6969ff"/><stop offset="0.6203" stop-color="#8181ff"/><stop offset="0.6767" stop-color="#a4a4ff"/><stop offset="0.7105" stop-color="#b3b3ff"/><stop offset="0.7444" stop-color="#bbbbff"/><stop offset="0.7820" stop-color="#bcbcff"/><stop offset="0.8759" stop-color="#b3b3ff"/><stop offset="0.9135" stop-color="#b6b6ff"/><stop offset="0.9511" stop-color="#c0c0ff"/><stop offset="1.0000" stop-color="#d5d5ff"/></linearGradient><linearGradient id="h25" gradientUnits="userSpaceOnUse" x1="699.76" x2="1232.19" y1="0" y2="0"><stop offset="0.0000" stop-color="#d5d5ff"/><stop offset="0.1015" stop-color="#a6a6ff"/><stop offset="0.1541" stop-color="#9494ff"/><stop offset="0.2030" stop-color="#8a8aff"/><stop offset="0.3421" stop-color="#7b7bff"/><stop offset="0.4398" stop-color="#6969ff"/><stop offset="0.4925" stop-color="#6060ff"/><stop offset="0.5263" stop-color="#6060ff"/><stop offset="0.5564" stop-color="#6666ff"/><stop offset="0.5902" stop-color="#7575ff"/><stop offset="0.6767" stop-color="#a7a7ff"/><stop offset="0.7105" stop-color="#b5b5ff"/><stop offset="0.7444" stop-color="#bdbdff"/><stop offset="0.7820" stop-color="#bebeff"/><stop offset="0.8759" stop-color="#b4b4ff"/><stop offset="0.9098" stop-color="#b6b6ff"/><stop offset="0.9436" stop-color="#bebeff"/><stop offset="0.9962" stop-color="#d3d3ff"/><stop offset="1.0000" stop-color="#d5d5ff"/></linearGradient><linearGradient id="h26" gradientUnits="userSpaceOnUse" x1="699.76" x2="1232.19" y1="0" y2="0"><stop offset="0.0000" stop-color="#d7d7ff"/><stop offset="0.1128" stop-color="#a4a4ff"/><stop offset="0.1654" stop-color="#9292ff"/><stop offset="0.2143" stop-color="#8989ff"/><stop offset="0.3496" stop-color="#7c7cff"/><stop offset="0.4925" stop-color="#6666ff"/><stop offset="0.5263" stop-color="#6666ff"/><stop offset="0.5564" stop-color="#6c6cff"/><stop offset="0.5902" stop-color="#7979ff"/><stop offset="0.6767" stop-color="#aaaaff"/><stop offset="0.7105" stop-color="#b7b7ff"/><stop offset="0.7444" stop-color="#bebeff"/><stop offset="0.7820" stop-color="#bfbfff"/><stop offset="0.8722" stop-color="#b4b4ff"/><stop offset="0.9060" stop-color="#b5b5ff"/><stop offset="0.9398" stop-color="#bcbcff"/><stop offset="0.9850" stop-color="#ceceff"/><stop offset="1.0000" stop-color="#d5d5ff"/></linearGradient><linearGradient id="h27" gradientUnits="userSpaceOnUse" x1="699.76" x2="1232.19" y1="0" y2="0"><stop offset="0.0000" stop-color="#d8d8ff"/><stop offset="0.1241" stop-color="#a2a2ff"/><stop offset="0.1729" stop-color="#9292ff"/><stop offset="0.2218" stop-color="#8989ff"/><stop offset="0.3684" stop-color="#7c7cff"/><stop offset="0.4962" stop-color="#6b6bff"/><stop offset="0.5301" stop-color="#6b6bff"/><stop offset="0.5602" stop-color="#7272ff"/><stop offset="0.5940" stop-color="#7f7fff"/><stop offset="0.6767" stop-color="#acacff"/><stop offset="0.7105" stop-color="#b9b9ff"/><stop offset="0.7444" stop-color="#bfbfff"/><stop offset="0.7820" stop-color="#bfbfff"/><stop offset="0.8722" stop-color="#b4b4ff"/><stop offset="0.9060" stop-color="#b5b5ff"/><stop offset="0.9398" stop-color="#bdbdff"/><stop offset="0.9850" stop-color="#cfcfff"/><stop offset="1.0000" stop-color="#d5d5ff"/></linearGradient><linearGradient id="h28" gradientUnits="userSpaceOnUse" x1="699.76" x2="1232.19" y1="0" y2="0"><stop offset="0.0000" stop-color="#dadaff"/><stop offset="0.1316" stop-color="#a2a2ff"/><stop offset="0.1805" stop-color="#9292ff"/><stop offset="0.2293" stop-color="#8a8aff"/><stop offset="0.3910" stop-color="#7c7cff"/><stop offset="0.5000" stop-color="#7070ff"/><stop offset="0.5376" stop-color="#7171ff"/><stop offset="0.5714" stop-color="#7a7aff"/><stop offset="0.6090" stop-color="#8a8aff"/><stop offset="0.6767" stop-color="#adadff"/><stop offset="0.7143" stop-color="#babaff"/><stop offset="0.7481" stop-color="#c0c0ff"/><stop offset="0.7857" stop-color="#bfbfff"/><stop offset="0.8722" stop-color="#b4b4ff"/><stop offset="0.9060" stop-color="#b5b5ff"/><stop offset="0.9398" stop-color="#bdbdff"/><stop offset="0.9850" stop-color="#cfcfff"/><stop offset="1.0000" stop-color="#d6d6ff"/></linearGradient><linearGradient id="h29" gradientUnits="userSpaceOnUse" x1="699.76" x2="1232.19" y1="0" y2="0"><stop offset="0.0000" stop-color="#dbdbff"/><stop offset="0.1353" stop-color="#a3a3ff"/><stop offset="0.1842" stop-color="#9494ff"/><stop offset="0.2331" stop-color="#8c8cff"/><stop offset="0.4248" stop-color="#7d7dff"/><stop offset="0.5038" stop-color="#7575ff"/><stop offset="0.5414" stop-color="#7777ff"/><stop offset="0.5752" stop-color="#7f7fff"/><stop offset="0.6165" stop-color="#9191ff"/><stop offset="0.6805" stop-color="#b0b0ff"/><stop offset="0.7180" stop-color="#bcbcff"/><stop offset="0.7519" stop-color="#c0c0ff"/><stop offset="0.7932" stop-color="#bfbfff"/><stop offset="0.8722" stop-color="#b4b4ff"/><stop offset="0.9060" stop-color="#b5b5ff"/><stop offset="0.9398" stop-color="#bdbdff"/><stop offset="0.9887" stop-color="#d1d1ff"/><stop offset="1.0000" stop-color="#d6d6ff"/></linearGradient><linearGradient id="h30" gradientUnits="userSpaceOnUse" x1="699.76" x2="1232.19" y1="0" y2="0"><stop offset="0.0000" stop-color="#dcdcff"/><stop offset="0.1429" stop-color="#a4a4ff"/><stop offset="0.1955" stop-color="#9595ff"/><stop offset="0.2519" stop-color="#8e8eff"/><stop offset="0.4474" stop-color="#7f7fff"/><stop offset="0.5113" stop-color="#7a7aff"/><stop offset="0.5489" stop-color="#7d7dff"/><stop offset="0.5827" stop-color="#8686ff"/><stop offset="0.6316" stop-color="#9b9bff"/><stop offset="0.6842" stop-color="#b2b2ff"/><stop offset="0.7218" stop-color="#bdbdff"/><stop offset="0.7594" stop-color="#c1c1ff"/><stop offset="0.8045" stop-color="#bdbdff"/><stop offset="0.8722" stop-color="#b4b4ff"/><stop offset="0.9060" stop-color="#b6b6ff"/><stop offset="0.9398" stop-color="#bebeff"/><stop offset="0.9887" stop-color="#d2d2ff"/><stop offset="1.0000" stop-color="#d7d7ff"/></linearGradient><linearGradient id="h31" gradientUnits="userSpaceOnUse" x1="699.76" x2="1232.19" y1="0" y2="0"><stop offset="0.0000" stop-color="#dcdcff"/><stop offset="0.1429" stop-color="#a8a8ff"/><stop offset="0.1955" stop-color="#9a9aff"/><stop offset="0.2519" stop-color="#9292ff"/><stop offset="0.4549" stop-color="#8585ff"/><stop offset="0.5188" stop-color="#8080ff"/><stop offset="0.5564" stop-color="#8383ff"/><stop offset="0.5940" stop-color="#8e8eff"/><stop offset="0.6842" stop-color="#b3b3ff"/><stop offset="0.7218" stop-color="#bdbdff"/><stop offset="0.7594" stop-color="#c1c1ff"/><stop offset="0.8045" stop-color="#bdbdff"/><stop offset="0.8684" stop-color="#b5b5ff"/><stop offset="0.9023" stop-color="#b6b6ff"/><stop offset="0.9361" stop-color="#bdbdff"/><stop offset="0.9812" stop-color="#cfcfff"/><stop offset="1.0000" stop-color="#d7d7ff"/></linearGradient><linearGradient id="h32" gradientUnits="userSpaceOnUse" x1="699.76" x2="1232.19" y1="0" y2="0"><stop offset="0.0000" stop-color="#ddddff"/><stop offset="0.1316" stop-color="#b0b0ff"/><stop offset="0.1917" stop-color="#a0a0ff"/><stop offset="0.2481" stop-color="#9898ff"/><stop offset="0.4624" stop-color="#8b8bff"/><stop offset="0.5263" stop-color="#8787ff"/><stop offset="0.5639" stop-color="#8a8aff"/><stop offset="0.6015" stop-color="#9595ff"/><stop offset="0.6880" stop-color="#b6b6ff"/><stop offset="0.7256" stop-color="#bfbfff"/><stop offset="0.7632" stop-color="#c1c1ff"/><stop offset="0.8158" stop-color="#bcbcff"/><stop offset="0.8722" stop-color="#b6b6ff"/><stop offset="0.9060" stop-color="#b8b8ff"/><stop offset="0.9398" stop-color="#c0c0ff"/><stop offset="0.9925" stop-color="#d5d5ff"/><stop offset="1.0000" stop-color="#d8d8ff"/></linearGradient><linearGradient id="h33" gradientUnits="userSpaceOnUse" x1="699.76" x2="1232.19" y1="0" y2="0"><stop offset="0.0000" stop-color="#ddddff"/><stop offset="0.1090" stop-color="#babaff"/><stop offset="0.1842" stop-color="#a7a7ff"/><stop offset="0.2444" stop-color="#9e9eff"/><stop offset="0.3985" stop-color="#9696ff"/><stop offset="0.5301" stop-color="#8d8dff"/><stop offset="0.5677" stop-color="#9090ff"/><stop offset="0.6090" stop-color="#9b9bff"/><stop offset="0.6917" stop-color="#b8b8ff"/><stop offset="0.7331" stop-color="#c0c0ff"/><stop offset="0.7744" stop-color="#c1c1ff"/><stop offset="0.8684" stop-color="#b7b7ff"/><stop offset="0.9060" stop-color="#b9b9ff"/><stop offset="0.9436" stop-color="#c2c2ff"/><stop offset="1.0000" stop-color="#dadaff"/></linearGradient><linearGradient id="h34" gradientUnits="userSpaceOnUse" x1="699.76" x2="1232.19" y1="0" y2="0"><stop offset="0.0000" stop-color="#ddddff"/><stop offset="0.0902" stop-color="#c2c2ff"/><stop offset="0.1842" stop-color="#adadff"/><stop offset="0.2481" stop-color="#a4a4ff"/><stop offset="0.3872" stop-color="#9e9eff"/><stop offset="0.4737" stop-color="#9898ff"/><stop offset="0.5376" stop-color="#9494ff"/><stop offset="0.5752" stop-color="#9797ff"/><stop offset="0.6203" stop-color="#a2a2ff"/><stop offset="0.6955" stop-color="#babaff"/><stop offset="0.7368" stop-color="#c1c1ff"/><stop offset="0.7782" stop-color="#c1c1ff"/><stop offset="0.8684" stop-color="#b8b8ff"/><stop offset="0.9060" stop-color="#babaff"/><stop offset="0.9436" stop-color="#c4c4ff"/><stop offset="1.0000" stop-color="#dbdbff"/></linearGradient><linearGradient id="h35" gradientUnits="userSpaceOnUse" x1="699.76" x2="1232.19" y1="0" y2="0"><stop offset="0.0000" stop-color="#ddddff"/><stop offset="0.0752" stop-color="#c8c8ff"/><stop offset="0.1842" stop-color="#b2b2ff"/><stop offset="0.2594" stop-color="#aaaaff"/><stop offset="0.4586" stop-color="#a1a1ff"/><stop offset="0.5376" stop-color="#9a9aff"/><stop offset="0.5789" stop-color="#9d9dff"/><stop offset="0.6241" stop-color="#a7a7ff"/><stop offset="0.6992" stop-color="#bcbcff"/><stop offset="0.7406" stop-color="#c1c1ff"/><stop offset="0.7857" stop-color="#c1c1ff"/><stop offset="0.8647" stop-color="#b9b9ff"/><stop offset="0.9023" stop-color="#bcbcff"/><stop offset="0.9398" stop-color="#c5c5ff"/><stop offset="1.0000" stop-color="#dcdcff"/></linearGradient><linearGradient id="h36" gradientUnits="userSpaceOnUse" x1="699.76" x2="1232.19" y1="0" y2="0"><stop offset="0.0000" stop-color="#ddddff"/><stop offset="0.0677" stop-color="#cbcbff"/><stop offset="0.1767" stop-color="#b9b9ff"/><stop offset="0.2669" stop-color="#b0b0ff"/><stop offset="0.4549" stop-color="#a9a9ff"/><stop offset="0.5451" stop-color="#a0a0ff"/><stop offset="0.5865" stop-color="#a3a3ff"/><stop offset="0.6353" stop-color="#adadff"/><stop offset="0.7030" stop-color="#bebeff"/><stop offset="0.7444" stop-color="#c2c2ff"/><stop offset="0.7932" stop-color="#c0c0ff"/><stop offset="0.8609" stop-color="#babaff"/><stop offset="0.8985" stop-color="#bdbdff"/><stop offset="0.9361" stop-color="#c6c6ff"/><stop offset="1.0000" stop-color="#dedeff"/></linearGradient><linearGradient id="h37" gradientUnits="userSpaceOnUse" x1="699.76" x2="1232.19" y1="0" y2="0"><stop offset="0.0000" stop-color="#ddddff"/><stop offset="0.0602" stop-color="#ceceff"/><stop offset="0.1429" stop-color="#c2c2ff"/><stop offset="0.2669" stop-color="#b7b7ff"/><stop offset="0.4023" stop-color="#b2b2ff"/><stop offset="0.4737" stop-color="#aeaeff"/><stop offset="0.5489" stop-color="#a6a6ff"/><stop offset="0.5902" stop-color="#a8a8ff"/><stop offset="0.6429" stop-color="#b1b1ff"/><stop offset="0.7068" stop-color="#bfbfff"/><stop offset="0.7519" stop-color="#c3c3ff"/><stop offset="0.8158" stop-color="#bebeff"/><stop offset="0.8684" stop-color="#bcbcff"/><stop offset="0.9060" stop-color="#c0c0ff"/><stop offset="0.9474" stop-color="#cbcbff"/><stop offset="1.0000" stop-color="#dfdfff"/></linearGradient><linearGradient id="h38" gradientUnits="userSpaceOnUse" x1="699.76" x2="1232.19" y1="0" y2="0"><stop offset="0.0000" stop-color="#ddddff"/><stop offset="0.0564" stop-color="#cfcfff"/><stop offset="0.1203" stop-color="#c8c8ff"/><stop offset="0.3308" stop-color="#babaff"/><stop offset="0.4511" stop-color="#b6b6ff"/><stop offset="0.5564" stop-color="#ababff"/><stop offset="0.5977" stop-color="#acacff"/><stop offset="0.6541" stop-color="#b6b6ff"/><stop offset="0.7143" stop-color="#c1c1ff"/><stop offset="0.7594" stop-color="#c3c3ff"/><stop offset="0.8571" stop-color="#bdbdff"/><stop offset="0.8985" stop-color="#c1c1ff"/><stop offset="0.9398" stop-color="#cbcbff"/><stop offset="1.0000" stop-color="#e1e1ff"/></linearGradient><linearGradient id="h39" gradientUnits="userSpaceOnUse" x1="699.76" x2="1232.19" y1="0" y2="0"><stop offset="0.0000" stop-color="#ddddff"/><stop offset="0.0526" stop-color="#d1d1ff"/><stop offset="0.1090" stop-color="#cbcbff"/><stop offset="0.2970" stop-color="#c2c2ff"/><stop offset="0.4549" stop-color="#bcbcff"/><stop offset="0.5602" stop-color="#afafff"/><stop offset="0.6053" stop-color="#b1b1ff"/><stop offset="0.7180" stop-color="#c3c3ff"/><stop offset="0.7669" stop-color="#c4c4ff"/><stop offset="0.8534" stop-color="#bebeff"/><stop offset="0.8947" stop-color="#c2c2ff"/><stop offset="0.9398" stop-color="#cdcdff"/><stop offset="1.0000" stop-color="#e3e3ff"/></linearGradient><linearGradient id="h40" gradientUnits="userSpaceOnUse" x1="699.76" x2="1232.19" y1="0" y2="0"><stop offset="0.0000" stop-color="#ddddff"/><stop offset="0.0526" stop-color="#d1d1ff"/><stop offset="0.1053" stop-color="#cdcdff"/><stop offset="0.2293" stop-color="#cbcbff"/><stop offset="0.3759" stop-color="#c4c4ff"/><stop offset="0.4586" stop-color="#c0c0ff"/><stop offset="0.5639" stop-color="#b3b3ff"/><stop offset="0.6090" stop-color="#b4b4ff"/><stop offset="0.7180" stop-color="#c4c4ff"/><stop offset="0.7669" stop-color="#c5c5ff"/><stop offset="0.8496" stop-color="#c0c0ff"/><stop offset="0.8910" stop-color="#c3c3ff"/><stop offset="0.9361" stop-color="#ceceff"/><stop offset="1.0000" stop-color="#e4e4ff"/></linearGradient><linearGradient id="h41" gradientUnits="userSpaceOnUse" x1="699.76" x2="1232.19" y1="0" y2="0"><stop offset="0.0000" stop-color="#ddddff"/><stop offset="0.0489" stop-color="#d3d3ff"/><stop offset="0.0977" stop-color="#cfcfff"/><stop offset="0.2180" stop-color="#d0d0ff"/><stop offset="0.3797" stop-color="#c8c8ff"/><stop offset="0.4586" stop-color="#c5c5ff"/><stop offset="0.5677" stop-color="#b7b7ff"/><stop offset="0.6128" stop-color="#b7b7ff"/><stop offset="0.7218" stop-color="#c6c6ff"/><stop offset="0.7744" stop-color="#c5c5ff"/><stop offset="0.8459" stop-color="#c1c1ff"/><stop offset="0.8872" stop-color="#c5c5ff"/><stop offset="0.9323" stop-color="#cfcfff"/><stop offset="1.0000" stop-color="#e6e6ff"/></linearGradient><linearGradient id="h42" gradientUnits="userSpaceOnUse" x1="699.76" x2="1232.19" y1="0" y2="0"><stop offset="0.0000" stop-color="#dedeff"/><stop offset="0.0489" stop-color="#d4d4ff"/><stop offset="0.0977" stop-color="#d1d1ff"/><stop offset="0.2105" stop-color="#d5d5ff"/><stop offset="0.3835" stop-color="#ccccff"/><stop offset="0.4624" stop-color="#c8c8ff"/><stop offset="0.5714" stop-color="#b9b9ff"/><stop offset="0.6165" stop-color="#babaff"/><stop offset="0.7218" stop-color="#c7c7ff"/><stop offset="0.7744" stop-color="#c6c6ff"/><stop offset="0.8459" stop-color="#c3c3ff"/><stop offset="0.8872" stop-color="#c7c7ff"/><stop offset="0.9361" stop-color="#d3d3ff"/><stop offset="1.0000" stop-color="#e7e7ff"/></linearGradient><linearGradient id="h43" gradientUnits="userSpaceOnUse" x1="699.76" x2="1232.19" y1="0" y2="0"><stop offset="0.0000" stop-color="#dedeff"/><stop offset="0.0489" stop-color="#d5d5ff"/><stop offset="0.0940" stop-color="#d3d3ff"/><stop offset="0.2068" stop-color="#d8d8ff"/><stop offset="0.2895" stop-color="#d4d4ff"/><stop offset="0.3835" stop-color="#ceceff"/><stop offset="0.4624" stop-color="#cbcbff"/><stop offset="0.5714" stop-color="#bcbcff"/><stop offset="0.6165" stop-color="#bcbcff"/><stop offset="0.7218" stop-color="#c9c9ff"/><stop offset="0.7782" stop-color="#c8c8ff"/><stop offset="0.8421" stop-color="#c5c5ff"/><stop offset="0.8872" stop-color="#c9c9ff"/><stop offset="0.9398" stop-color="#d6d6ff"/><stop offset="1.0000" stop-color="#e9e9ff"/></linearGradient><linearGradient id="h44" gradientUnits="userSpaceOnUse" x1="699.76" x2="1232.19" y1="0" y2="0"><stop offset="0.0000" stop-color="#dfdfff"/><stop offset="0.0489" stop-color="#d6d6ff"/><stop offset="0.0940" stop-color="#d5d5ff"/><stop offset="0.2030" stop-color="#dbdbff"/><stop offset="0.2707" stop-color="#d8d8ff"/><stop offset="0.3722" stop-color="#d1d1ff"/><stop offset="0.4624" stop-color="#cdcdff"/><stop offset="0.5714" stop-color="#bfbfff"/><stop offset="0.6203" stop-color="#bfbfff"/><stop offset="0.7218" stop-color="#cacaff"/><stop offset="0.7782" stop-color="#c9c9ff"/><stop offset="0.8421" stop-color="#c7c7ff"/><stop offset="0.8872" stop-color="#cbcbff"/><stop offset="0.9436" stop-color="#dadaff"/><stop offset="1.0000" stop-color="#eaeaff"/></linearGradient><linearGradient id="h45" gradientUnits="userSpaceOnUse" x1="699.76" x2="1232.19" y1="0" y2="0"><stop offset="0.0000" stop-color="#e0e0ff"/><stop offset="0.0489" stop-color="#d8d8ff"/><stop offset="0.0940" stop-color="#d7d7ff"/><stop offset="0.2030" stop-color="#dedeff"/><stop offset="0.2669" stop-color="#dbdbff"/><stop offset="0.3684" stop-color="#d3d3ff"/><stop offset="0.4624" stop-color="#cfcfff"/><stop offset="0.5752" stop-color="#c2c2ff"/><stop offset="0.6241" stop-color="#c2c2ff"/><stop offset="0.7218" stop-color="#cdcdff"/><stop offset="0.7820" stop-color="#cbcbff"/><stop offset="0.8421" stop-color="#c9c9ff"/><stop offset="0.8872" stop-color="#ceceff"/><stop offset="0.9511" stop-color="#dedeff"/><stop offset="1.0000" stop-color="#ececff"/></linearGradient><linearGradient id="h46" gradientUnits="userSpaceOnUse" x1="699.76" x2="1232.19" y1="0" y2="0"><stop offset="0.0000" stop-color="#e2e2ff"/><stop offset="0.0489" stop-color="#dadaff"/><stop offset="0.0940" stop-color="#d9d9ff"/><stop offset="0.2030" stop-color="#e1e1ff"/><stop offset="0.2669" stop-color="#dedeff"/><stop offset="0.3647" stop-color="#d5d5ff"/><stop offset="0.4662" stop-color="#d1d1ff"/><stop offset="0.5752" stop-color="#c4c4ff"/><stop offset="0.6241" stop-color="#c5c5ff"/><stop offset="0.7218" stop-color="#cfcfff"/><stop offset="0.7857" stop-color="#cdcdff"/><stop offset="0.8459" stop-color="#ccccff"/><stop offset="0.8910" stop-color="#d1d1ff"/><stop offset="0.9774" stop-color="#e7e7ff"/><stop offset="1.0000" stop-color="#ededff"/></linearGradient><linearGradient id="h47" gradientUnits="userSpaceOnUse" x1="699.76" x2="1232.19" y1="0" y2="0"><stop offset="0.0000" stop-color="#e4e4ff"/><stop offset="0.0489" stop-color="#dcdcff"/><stop offset="0.0977" stop-color="#dbdbff"/><stop offset="0.1992" stop-color="#e3e3ff"/><stop offset="0.2594" stop-color="#e0e0ff"/><stop offset="0.3609" stop-color="#d7d7ff"/><stop offset="0.4699" stop-color="#d2d2ff"/><stop offset="0.5752" stop-color="#c7c7ff"/><stop offset="0.6278" stop-color="#c9c9ff"/><stop offset="0.7218" stop-color="#d2d2ff"/><stop offset="0.7895" stop-color="#d0d0ff"/><stop offset="0.8459" stop-color="#cfcfff"/><stop offset="0.8947" stop-color="#d5d5ff"/><stop offset="1.0000" stop-color="#efefff"/></linearGradient><linearGradient id="h48" gradientUnits="userSpaceOnUse" x1="699.76" x2="1232.19" y1="0" y2="0"><stop offset="0.0000" stop-color="#e6e6ff"/><stop offset="0.0526" stop-color="#dedeff"/><stop offset="0.1015" stop-color="#dedeff"/><stop offset="0.1992" stop-color="#e5e5ff"/><stop offset="0.2594" stop-color="#e2e2ff"/><stop offset="0.3609" stop-color="#d8d8ff"/><stop offset="0.4737" stop-color="#d4d4ff"/><stop offset="0.5752" stop-color="#cacaff"/><stop offset="0.6278" stop-color="#ccccff"/><stop offset="0.7218" stop-color="#d5d5ff"/><stop offset="0.8008" stop-color="#d2d2ff"/><stop offset="0.8534" stop-color="#d3d3ff"/><stop offset="0.9060" stop-color="#dadaff"/><stop offset="1.0000" stop-color="#f0f0ff"/></linearGradient><linearGradient id="h49" gradientUnits="userSpaceOnUse" x1="699.76" x2="1232.19" y1="0" y2="0"><stop offset="0.0000" stop-color="#e8e8ff"/><stop offset="0.0526" stop-color="#e1e1ff"/><stop offset="0.1053" stop-color="#e1e1ff"/><stop offset="0.1992" stop-color="#e7e7ff"/><stop offset="0.2594" stop-color="#e4e4ff"/><stop offset="0.3571" stop-color="#dadaff"/><stop offset="0.4774" stop-color="#d6d6ff"/><stop offset="0.5752" stop-color="#ceceff"/><stop offset="0.6316" stop-color="#d0d0ff"/><stop offset="0.7218" stop-color="#d8d8ff"/><stop offset="0.8421" stop-color="#d5d5ff"/><stop offset="0.8947" stop-color="#dbdbff"/><stop offset="1.0000" stop-color="#f1f1ff"/></linearGradient><linearGradient id="h50" gradientUnits="userSpaceOnUse" x1="699.76" x2="1232.19" y1="0" y2="0"><stop offset="0.0000" stop-color="#eaeaff"/><stop offset="0.0564" stop-color="#e3e3ff"/><stop offset="0.1128" stop-color="#e4e4ff"/><stop offset="0.2030" stop-color="#e9e9ff"/><stop offset="0.2669" stop-color="#e4e4ff"/><stop offset="0.3571" stop-color="#dbdbff"/><stop offset="0.4812" stop-color="#d8d8ff"/><stop offset="0.5752" stop-color="#d1d1ff"/><stop offset="0.6353" stop-color="#d4d4ff"/><stop offset="0.7218" stop-color="#dbdbff"/><stop offset="0.8421" stop-color="#d9d9ff"/><stop offset="0.8947" stop-color="#dfdfff"/><stop offset="1.0000" stop-color="#f3f3ff"/></linearGradient><linearGradient id="h51" gradientUnits="userSpaceOnUse" x1="699.76" x2="1232.19" y1="0" y2="0"><stop offset="0.0000" stop-color="#ececff"/><stop offset="0.0602" stop-color="#e6e6ff"/><stop offset="0.1241" stop-color="#e7e7ff"/><stop offset="0.2030" stop-color="#eaeaff"/><stop offset="0.2669" stop-color="#e6e6ff"/><stop offset="0.3571" stop-color="#ddddff"/><stop offset="0.4887" stop-color="#dadaff"/><stop offset="0.5789" stop-color="#d5d5ff"/><stop offset="0.6466" stop-color="#d9d9ff"/><stop offset="0.7256" stop-color="#dfdfff"/><stop offset="0.8421" stop-color="#ddddff"/><stop offset="0.8985" stop-color="#e2e2ff"/><stop offset="1.0000" stop-color="#f4f4ff"/></linearGradient><linearGradient id="h52" gradientUnits="userSpaceOnUse" x1="699.76" x2="1232.19" y1="0" y2="0"><stop offset="0.0000" stop-color="#eeeeff"/><stop offset="0.0639" stop-color="#e8e8ff"/><stop offset="0.1391" stop-color="#eaeaff"/><stop offset="0.2105" stop-color="#ececff"/><stop offset="0.2820" stop-color="#e6e6ff"/><stop offset="0.3609" stop-color="#dedeff"/><stop offset="0.4925" stop-color="#dcdcff"/><stop offset="0.5789" stop-color="#d9d9ff"/><stop offset="0.6579" stop-color="#dedeff"/><stop offset="0.7293" stop-color="#e2e2ff"/><stop offset="0.8421" stop-color="#e0e0ff"/><stop offset="0.9023" stop-color="#e6e6ff"/><stop offset="1.0000" stop-color="#f5f5ff"/></linearGradient><linearGradient id="h53" gradientUnits="userSpaceOnUse" x1="699.76" x2="1232.19" y1="0" y2="0"><stop offset="0.0000" stop-color="#f0f0ff"/><stop offset="0.0677" stop-color="#ebebff"/><stop offset="0.2105" stop-color="#ededff"/><stop offset="0.2895" stop-color="#e6e6ff"/><stop offset="0.3647" stop-color="#e0e0ff"/><stop offset="0.5000" stop-color="#dedeff"/><stop offset="0.5827" stop-color="#dcdcff"/><stop offset="0.7256" stop-color="#e5e5ff"/><stop offset="0.8459" stop-color="#e4e4ff"/><stop offset="0.9135" stop-color="#eaeaff"/><stop offset="1.0000" stop-color="#f6f6ff"/></linearGradient><linearGradient id="h54" gradientUnits="userSpaceOnUse" x1="699.76" x2="1232.19" y1="0" y2="0"><stop offset="0.0000" stop-color="#f2f2ff"/><stop offset="0.0714" stop-color="#ededff"/><stop offset="0.2105" stop-color="#eeeeff"/><stop offset="0.2970" stop-color="#e7e7ff"/><stop offset="0.3684" stop-color="#e1e1ff"/><stop offset="0.5075" stop-color="#e0e0ff"/><stop offset="0.5902" stop-color="#e0e0ff"/><stop offset="0.7218" stop-color="#e9e9ff"/><stop offset="0.8534" stop-color="#e7e7ff"/><stop offset="0.9323" stop-color="#efefff"/><stop offset="1.0000" stop-color="#f7f7ff"/></linearGradient><linearGradient id="h55" gradientUnits="userSpaceOnUse" x1="699.76" x2="1232.19" y1="0" y2="0"><stop offset="0.0000" stop-color="#f3f3ff"/><stop offset="0.0752" stop-color="#efefff"/><stop offset="0.2105" stop-color="#efefff"/><stop offset="0.3571" stop-color="#e3e3ff"/><stop offset="0.5263" stop-color="#e2e2ff"/><stop offset="0.6053" stop-color="#e4e4ff"/><stop offset="0.7180" stop-color="#ececff"/><stop offset="0.8571" stop-color="#eaeaff"/><stop offset="0.9474" stop-color="#f2f2ff"/><stop offset="1.0000" stop-color="#f8f8ff"/></linearGradient><linearGradient id="h56" gradientUnits="userSpaceOnUse" x1="699.76" x2="1232.19" y1="0" y2="0"><stop offset="0.0000" stop-color="#f5f5ff"/><stop offset="0.0827" stop-color="#f0f0ff"/><stop offset="0.2105" stop-color="#f0f0ff"/><stop offset="0.3571" stop-color="#e4e4ff"/><stop offset="0.5865" stop-color="#e6e6ff"/><stop offset="0.7218" stop-color="#eeeeff"/><stop offset="0.8647" stop-color="#ededff"/><stop offset="0.9737" stop-color="#f6f6ff"/><stop offset="1.0000" stop-color="#f9f9ff"/></linearGradient><linearGradient id="h57" gradientUnits="userSpaceOnUse" x1="699.76" x2="1232.19" y1="0" y2="0"><stop offset="0.0000" stop-color="#f6f6ff"/><stop offset="0.0902" stop-color="#f2f2ff"/><stop offset="0.2105" stop-color="#f1f1ff"/><stop offset="0.3534" stop-color="#e6e6ff"/><stop offset="0.5865" stop-color="#e8e8ff"/><stop offset="0.7180" stop-color="#f1f1ff"/><stop offset="0.8759" stop-color="#f0f0ff"/><stop offset="1.0000" stop-color="#f9f9ff"/></linearGradient><linearGradient id="h58" gradientUnits="userSpaceOnUse" x1="699.76" x2="1232.19" y1="0" y2="0"><stop offset="0.0000" stop-color="#f7f7ff"/><stop offset="0.0940" stop-color="#f3f3ff"/><stop offset="0.2143" stop-color="#f1f1ff"/><stop offset="0.3534" stop-color="#e6e6ff"/><stop offset="0.5827" stop-color="#eaeaff"/><stop offset="0.7180" stop-color="#f3f3ff"/><stop offset="0.8872" stop-color="#f1f1ff"/><stop offset="1.0000" stop-color="#f9f9ff"/></linearGradient><linearGradient id="h59" gradientUnits="userSpaceOnUse" x1="699.76" x2="1232.19" y1="0" y2="0"><stop offset="0.0000" stop-color="#f8f8ff"/><stop offset="0.1015" stop-color="#f3f3ff"/><stop offset="0.2180" stop-color="#f1f1ff"/><stop offset="0.3534" stop-color="#e7e7ff"/><stop offset="0.5827" stop-color="#ebebff"/><stop offset="0.7180" stop-color="#f5f5ff"/><stop offset="0.8985" stop-color="#f3f3ff"/><stop offset="1.0000" stop-color="#f9f9ff"/></linearGradient><linearGradient id="h60" gradientUnits="userSpaceOnUse" x1="699.76" x2="1232.19" y1="0" y2="0"><stop offset="0.0000" stop-color="#f8f8ff"/><stop offset="0.1053" stop-color="#f4f4ff"/><stop offset="0.2218" stop-color="#f1f1ff"/><stop offset="0.3496" stop-color="#e8e8ff"/><stop offset="0.5827" stop-color="#ececff"/><stop offset="0.7180" stop-color="#f6f6ff"/><stop offset="0.8158" stop-color="#f5f5ff"/><stop offset="0.9098" stop-color="#f3f3ff"/><stop offset="1.0000" stop-color="#f9f9ff"/></linearGradient><linearGradient id="h61" gradientUnits="userSpaceOnUse" x1="699.76" x2="1232.19" y1="0" y2="0"><stop offset="0.0000" stop-color="#f8f8ff"/><stop offset="0.1090" stop-color="#f4f4ff"/><stop offset="0.2256" stop-color="#f1f1ff"/><stop offset="0.3496" stop-color="#e8e8ff"/><stop offset="0.5827" stop-color="#ededff"/><stop offset="0.7143" stop-color="#f7f7ff"/><stop offset="0.8008" stop-color="#f6f6ff"/><stop offset="0.9060" stop-color="#f3f3ff"/><stop offset="1.0000" stop-color="#f9f9ff"/></linearGradient><linearGradient id="h62" gradientUnits="userSpaceOnUse" x1="699.76" x2="1232.19" y1="0" y2="0"><stop offset="0.0000" stop-color="#f9f9ff"/><stop offset="0.1128" stop-color="#f4f4ff"/><stop offset="0.2293" stop-color="#f0f0ff"/><stop offset="0.3496" stop-color="#e8e8ff"/><stop offset="0.5789" stop-color="#ededff"/><stop offset="0.7143" stop-color="#f8f8ff"/><stop offset="0.7970" stop-color="#f7f7ff"/><stop offset="0.9060" stop-color="#f3f3ff"/><stop offset="0.9925" stop-color="#f8f8ff"/><stop offset="1.0000" stop-color="#f8f8ff"/></linearGradient><linearGradient id="h63" gradientUnits="userSpaceOnUse" x1="699.76" x2="1232.19" y1="0" y2="0"><stop offset="0.0000" stop-color="#f9f9ff"/><stop offset="0.1128" stop-color="#f4f4ff"/><stop offset="0.2331" stop-color="#f0f0ff"/><stop offset="0.3496" stop-color="#e8e8ff"/><stop offset="0.5789" stop-color="#ededff"/><stop offset="0.7143" stop-color="#f9f9ff"/><stop offset="0.7932" stop-color="#f8f8ff"/><stop offset="0.9060" stop-color="#f3f3ff"/><stop offset="0.9850" stop-color="#f6f6ff"/><stop offset="1.0000" stop-color="#f8f8ff"/></linearGradient><linearGradient id="h64" gradientUnits="userSpaceOnUse" x1="699.76" x2="1232.19" y1="0" y2="0"><stop offset="0.0000" stop-color="#f9f9ff"/><stop offset="0.1128" stop-color="#f3f3ff"/><stop offset="0.2368" stop-color="#efefff"/><stop offset="0.3496" stop-color="#e8e8ff"/><stop offset="0.5789" stop-color="#eeeeff"/><stop offset="0.7143" stop-color="#f9f9ff"/><stop offset="0.7895" stop-color="#f9f9ff"/><stop offset="0.9060" stop-color="#f2f2ff"/><stop offset="0.9774" stop-color="#f5f5ff"/><stop offset="1.0000" stop-color="#f7f7ff"/></linearGradient><linearGradient id="h65" gradientUnits="userSpaceOnUse" x1="699.76" x2="1232.19" y1="0" y2="0"><stop offset="0.0000" stop-color="#f9f9ff"/><stop offset="0.1165" stop-color="#f3f3ff"/><stop offset="0.2406" stop-color="#efefff"/><stop offset="0.3496" stop-color="#e8e8ff"/><stop offset="0.5789" stop-color="#eeeeff"/><stop offset="0.7105" stop-color="#fafaff"/><stop offset="0.7820" stop-color="#f9f9ff"/><stop offset="0.9060" stop-color="#f1f1ff"/><stop offset="0.9737" stop-color="#f4f4ff"/><stop offset="1.0000" stop-color="#f7f7ff"/></linearGradient><linearGradient id="h66" gradientUnits="userSpaceOnUse" x1="699.76" x2="1232.19" y1="0" y2="0"><stop offset="0.0000" stop-color="#f9f9ff"/><stop offset="0.1165" stop-color="#f3f3ff"/><stop offset="0.2444" stop-color="#eeeeff"/><stop offset="0.3534" stop-color="#e8e8ff"/><stop offset="0.5789" stop-color="#eeeeff"/><stop offset="0.7105" stop-color="#fafaff"/><stop offset="0.7820" stop-color="#f9f9ff"/><stop offset="0.9060" stop-color="#f1f1ff"/><stop offset="0.9699" stop-color="#f3f3ff"/><stop offset="1.0000" stop-color="#f6f6ff"/></linearGradient><linearGradient id="h67" gradientUnits="userSpaceOnUse" x1="699.76" x2="1232.19" y1="0" y2="0"><stop offset="0.0000" stop-color="#f9f9ff"/><stop offset="0.1165" stop-color="#f3f3ff"/><stop offset="0.2444" stop-color="#eeeeff"/><stop offset="0.3534" stop-color="#e8e8ff"/><stop offset="0.5752" stop-color="#eeeeff"/><stop offset="0.7105" stop-color="#fafaff"/><stop offset="0.7782" stop-color="#f9f9ff"/><stop offset="0.9060" stop-color="#f0f0ff"/><stop offset="0.9662" stop-color="#f2f2ff"/><stop offset="1.0000" stop-color="#f6f6ff"/></linearGradient><linearGradient id="h68" gradientUnits="userSpaceOnUse" x1="699.76" x2="1232.19" y1="0" y2="0"><stop offset="0.0000" stop-color="#f9f9ff"/><stop offset="0.1165" stop-color="#f3f3ff"/><stop offset="0.2444" stop-color="#eeeeff"/><stop offset="0.3534" stop-color="#e8e8ff"/><stop offset="0.5752" stop-color="#eeeeff"/><stop offset="0.7105" stop-color="#fafaff"/><stop offset="0.7782" stop-color="#f9f9ff"/><stop offset="0.9023" stop-color="#efefff"/><stop offset="0.9624" stop-color="#f1f1ff"/><stop offset="1.0000" stop-color="#f5f5ff"/></linearGradient><linearGradient id="h69" gradientUnits="userSpaceOnUse" x1="699.76" x2="1232.19" y1="0" y2="0"><stop offset="0.0000" stop-color="#f9f9ff"/><stop offset="0.1203" stop-color="#f3f3ff"/><stop offset="0.2481" stop-color="#ededff"/><stop offset="0.3534" stop-color="#e8e8ff"/><stop offset="0.5752" stop-color="#eeeeff"/><stop offset="0.7068" stop-color="#fafaff"/><stop offset="0.7744" stop-color="#f9f9ff"/><stop offset="0.9023" stop-color="#eeeeff"/><stop offset="0.9586" stop-color="#f0f0ff"/><stop offset="1.0000" stop-color="#f5f5ff"/></linearGradient><linearGradient id="h70" gradientUnits="userSpaceOnUse" x1="699.76" x2="1232.19" y1="0" y2="0"><stop offset="0.0000" stop-color="#f9f9ff"/><stop offset="0.1203" stop-color="#f3f3ff"/><stop offset="0.2444" stop-color="#ededff"/><stop offset="0.3496" stop-color="#e7e7ff"/><stop offset="0.5714" stop-color="#eeeeff"/><stop offset="0.7030" stop-color="#f9f9ff"/><stop offset="0.7707" stop-color="#f9f9ff"/><stop offset="0.9023" stop-color="#eeeeff"/><stop offset="0.9586" stop-color="#f0f0ff"/><stop offset="1.0000" stop-color="#f4f4ff"/></linearGradient><linearGradient id="h71" gradientUnits="userSpaceOnUse" x1="699.76" x2="1232.19" y1="0" y2="0"><stop offset="0.0000" stop-color="#f9f9ff"/><stop offset="0.1241" stop-color="#f3f3ff"/><stop offset="0.2444" stop-color="#ededff"/><stop offset="0.3496" stop-color="#e7e7ff"/><stop offset="0.5451" stop-color="#ededff"/><stop offset="0.7068" stop-color="#f9f9ff"/><stop offset="0.7744" stop-color="#f8f8ff"/><stop offset="0.8985" stop-color="#ededff"/><stop offset="0.9549" stop-color="#efefff"/><stop offset="1.0000" stop-color="#f4f4ff"/></linearGradient><linearGradient id="h72" gradientUnits="userSpaceOnUse" x1="699.76" x2="1232.19" y1="0" y2="0"><stop offset="0.0000" stop-color="#f8f8ff"/><stop offset="0.1241" stop-color="#f3f3ff"/><stop offset="0.2406" stop-color="#ededff"/><stop offset="0.3496" stop-color="#e6e6ff"/><stop offset="0.4586" stop-color="#e9e9ff"/><stop offset="0.5827" stop-color="#efefff"/><stop offset="0.6955" stop-color="#f9f9ff"/><stop offset="0.7669" stop-color="#f8f8ff"/><stop offset="0.8985" stop-color="#ededff"/><stop offset="0.9549" stop-color="#efefff"/><stop offset="1.0000" stop-color="#f4f4ff"/></linearGradient><linearGradient id="h73" gradientUnits="userSpaceOnUse" x1="699.76" x2="1232.19" y1="0" y2="0"><stop offset="0.0000" stop-color="#f8f8ff"/><stop offset="0.1241" stop-color="#f3f3ff"/><stop offset="0.2331" stop-color="#ededff"/><stop offset="0.3459" stop-color="#e5e5ff"/><stop offset="0.4361" stop-color="#e7e7ff"/><stop offset="0.5789" stop-color="#efefff"/><stop offset="0.6917" stop-color="#f8f8ff"/><stop offset="0.7632" stop-color="#f8f8ff"/><stop offset="0.8947" stop-color="#ededff"/><stop offset="0.9511" stop-color="#efefff"/><stop offset="1.0000" stop-color="#f4f4ff"/></linearGradient><linearGradient id="h74" gradientUnits="userSpaceOnUse" x1="699.76" x2="1232.19" y1="0" y2="0"><stop offset="0.0000" stop-color="#f8f8ff"/><stop offset="0.1241" stop-color="#f2f2ff"/><stop offset="0.2293" stop-color="#ededff"/><stop offset="0.3459" stop-color="#e4e4ff"/><stop offset="0.4323" stop-color="#e6e6ff"/><stop offset="0.5714" stop-color="#eeeeff"/><stop offset="0.6805" stop-color="#f7f7ff"/><stop offset="0.7556" stop-color="#f7f7ff"/><stop offset="0.8947" stop-color="#ececff"/><stop offset="0.9511" stop-color="#efefff"/><stop offset="1.0000" stop-color="#f4f4ff"/></linearGradient><linearGradient id="h75" gradientUnits="userSpaceOnUse" x1="699.76" x2="1232.19" y1="0" y2="0"><stop offset="0.0000" stop-color="#f8f8ff"/><stop offset="0.1203" stop-color="#f2f2ff"/><stop offset="0.2218" stop-color="#ededff"/><stop offset="0.3421" stop-color="#e3e3ff"/><stop offset="0.4211" stop-color="#e3e3ff"/><stop offset="0.5564" stop-color="#ededff"/><stop offset="0.6692" stop-color="#f7f7ff"/><stop offset="0.7481" stop-color="#f7f7ff"/><stop offset="0.8947" stop-color="#ececff"/><stop offset="0.9511" stop-color="#efefff"/><stop offset="1.0000" stop-color="#f5f5ff"/></linearGradient><linearGradient id="h76" gradientUnits="userSpaceOnUse" x1="699.76" x2="1232.19" y1="0" y2="0"><stop offset="0.0000" stop-color="#f7f7ff"/><stop offset="0.1128" stop-color="#f1f1ff"/><stop offset="0.2143" stop-color="#ededff"/><stop offset="0.3421" stop-color="#e1e1ff"/><stop offset="0.4211" stop-color="#e2e2ff"/><stop offset="0.5376" stop-color="#eaeaff"/><stop offset="0.6541" stop-color="#f5f5ff"/><stop offset="0.7331" stop-color="#f6f6ff"/><stop offset="0.8947" stop-color="#ececff"/><stop offset="0.9549" stop-color="#f0f0ff"/><stop offset="1.0000" stop-color="#f5f5ff"/></linearGradient><linearGradient id="h77" gradientUnits="userSpaceOnUse" x1="699.76" x2="1232.19" y1="0" y2="0"><stop offset="0.0000" stop-color="#f7f7ff"/><stop offset="0.1090" stop-color="#f1f1ff"/><stop offset="0.2105" stop-color="#ececff"/><stop offset="0.3421" stop-color="#e0e0ff"/><stop offset="0.4211" stop-color="#e0e0ff"/><stop offset="0.5188" stop-color="#e6e6ff"/><stop offset="0.6466" stop-color="#f4f4ff"/><stop offset="0.7256" stop-color="#f5f5ff"/><stop offset="0.8947" stop-color="#ededff"/><stop offset="0.9586" stop-color="#f1f1ff"/><stop offset="1.0000" stop-color="#f6f6ff"/></linearGradient><linearGradient id="h78" gradientUnits="userSpaceOnUse" x1="699.76" x2="1232.19" y1="0" y2="0"><stop offset="0.0000" stop-color="#f6f6ff"/><stop offset="0.1015" stop-color="#f0f0ff"/><stop offset="0.2068" stop-color="#ebebff"/><stop offset="0.3421" stop-color="#dedeff"/><stop offset="0.4211" stop-color="#ddddff"/><stop offset="0.5075" stop-color="#e3e3ff"/><stop offset="0.6391" stop-color="#f3f3ff"/><stop offset="0.7105" stop-color="#f5f5ff"/><stop offset="0.8910" stop-color="#ededff"/><stop offset="0.9586" stop-color="#f1f1ff"/><stop offset="1.0000" stop-color="#f6f6ff"/></linearGradient><linearGradient id="h79" gradientUnits="userSpaceOnUse" x1="699.76" x2="1232.19" y1="0" y2="0"><stop offset="0.0000" stop-color="#f5f5ff"/><stop offset="0.0977" stop-color="#eeeeff"/><stop offset="0.2030" stop-color="#eaeaff"/><stop offset="0.3459" stop-color="#dcdcff"/><stop offset="0.4286" stop-color="#dbdbff"/><stop offset="0.5038" stop-color="#e0e0ff"/><stop offset="0.6316" stop-color="#f2f2ff"/><stop offset="0.6992" stop-color="#f4f4ff"/><stop offset="0.8872" stop-color="#ededff"/><stop offset="0.9586" stop-color="#f2f2ff"/><stop offset="1.0000" stop-color="#f7f7ff"/></linearGradient><linearGradient id="h80" gradientUnits="userSpaceOnUse" x1="699.76" x2="1232.19" y1="0" y2="0"><stop offset="0.0000" stop-color="#f4f4ff"/><stop offset="0.0902" stop-color="#ededff"/><stop offset="0.2030" stop-color="#e9e9ff"/><stop offset="0.3459" stop-color="#dadaff"/><stop offset="0.4323" stop-color="#d9d9ff"/><stop offset="0.5038" stop-color="#dedeff"/><stop offset="0.6278" stop-color="#f0f0ff"/><stop offset="0.6917" stop-color="#f2f2ff"/><stop offset="0.8797" stop-color="#eeeeff"/><stop offset="0.9549" stop-color="#f2f2ff"/><stop offset="1.0000" stop-color="#f7f7ff"/></linearGradient><linearGradient id="h81" gradientUnits="userSpaceOnUse" x1="699.76" x2="1232.19" y1="0" y2="0"><stop offset="0.0000" stop-color="#f3f3ff"/><stop offset="0.0865" stop-color="#ececff"/><stop offset="0.1992" stop-color="#e8e8ff"/><stop offset="0.3496" stop-color="#d9d9ff"/><stop offset="0.4398" stop-color="#d7d7ff"/><stop offset="0.5038" stop-color="#dbdbff"/><stop offset="0.6241" stop-color="#efefff"/><stop offset="0.6842" stop-color="#f1f1ff"/><stop offset="0.8609" stop-color="#eeeeff"/><stop offset="0.9398" stop-color="#f2f2ff"/><stop offset="1.0000" stop-color="#f8f8ff"/></linearGradient><linearGradient id="h82" gradientUnits="userSpaceOnUse" x1="699.76" x2="1232.19" y1="0" y2="0"><stop offset="0.0000" stop-color="#f1f1ff"/><stop offset="0.0827" stop-color="#eaeaff"/><stop offset="0.2030" stop-color="#e6e6ff"/><stop offset="0.3496" stop-color="#d7d7ff"/><stop offset="0.4436" stop-color="#d5d5ff"/><stop offset="0.5038" stop-color="#d9d9ff"/><stop offset="0.6241" stop-color="#ededff"/><stop offset="0.6805" stop-color="#f0f0ff"/><stop offset="0.8271" stop-color="#eeeeff"/><stop offset="0.9248" stop-color="#f2f2ff"/><stop offset="1.0000" stop-color="#f9f9ff"/></linearGradient><linearGradient id="h83" gradientUnits="userSpaceOnUse" x1="699.76" x2="1232.19" y1="0" y2="0"><stop offset="0.0000" stop-color="#f0f0ff"/><stop offset="0.0789" stop-color="#e9e9ff"/><stop offset="0.2030" stop-color="#e5e5ff"/><stop offset="0.3534" stop-color="#d6d6ff"/><stop offset="0.4511" stop-color="#d3d3ff"/><stop offset="0.5075" stop-color="#d7d7ff"/><stop offset="0.6241" stop-color="#ececff"/><stop offset="0.6767" stop-color="#efefff"/><stop offset="0.8045" stop-color="#ededff"/><stop offset="0.9211" stop-color="#f2f2ff"/><stop offset="1.0000" stop-color="#f9f9ff"/></linearGradient><linearGradient id="h84" gradientUnits="userSpaceOnUse" x1="699.76" x2="1232.19" y1="0" y2="0"><stop offset="0.0000" stop-color="#efefff"/><stop offset="0.0752" stop-color="#e7e7ff"/><stop offset="0.2030" stop-color="#e4e4ff"/><stop offset="0.3609" stop-color="#d5d5ff"/><stop offset="0.4549" stop-color="#d1d1ff"/><stop offset="0.5075" stop-color="#d5d5ff"/><stop offset="0.6241" stop-color="#ebebff"/><stop offset="0.6767" stop-color="#eeeeff"/><stop offset="0.7932" stop-color="#ececff"/><stop offset="0.9286" stop-color="#f4f4ff"/><stop offset="1.0000" stop-color="#fafaff"/></linearGradient><linearGradient id="h85" gradientUnits="userSpaceOnUse" x1="699.76" x2="1232.19" y1="0" y2="0"><stop offset="0.0000" stop-color="#eeeeff"/><stop offset="0.0714" stop-color="#e6e6ff"/><stop offset="0.2068" stop-color="#e3e3ff"/><stop offset="0.3684" stop-color="#d5d5ff"/><stop offset="0.4624" stop-color="#d0d0ff"/><stop offset="0.5113" stop-color="#d4d4ff"/><stop offset="0.6241" stop-color="#e9e9ff"/><stop offset="0.6767" stop-color="#ececff"/><stop offset="0.7857" stop-color="#ebebff"/><stop offset="0.9624" stop-color="#f8f8ff"/><stop offset="1.0000" stop-color="#fbfbff"/></linearGradient><linearGradient id="h86" gradientUnits="userSpaceOnUse" x1="699.76" x2="1232.19" y1="0" y2="0"><stop offset="0.0000" stop-color="#ededff"/><stop offset="0.0677" stop-color="#e5e5ff"/><stop offset="0.2068" stop-color="#e3e3ff"/><stop offset="0.3835" stop-color="#d4d4ff"/><stop offset="0.4662" stop-color="#d0d0ff"/><stop offset="0.5150" stop-color="#d4d4ff"/><stop offset="0.6241" stop-color="#e9e9ff"/><stop offset="0.6767" stop-color="#ececff"/><stop offset="0.7782" stop-color="#ebebff"/><stop offset="1.0000" stop-color="#fbfbff"/></linearGradient><linearGradient id="h87" gradientUnits="userSpaceOnUse" x1="699.76" x2="1232.19" y1="0" y2="0"><stop offset="0.0000" stop-color="#ededff"/><stop offset="0.0677" stop-color="#e5e5ff"/><stop offset="0.2105" stop-color="#e2e2ff"/><stop offset="0.4398" stop-color="#d1d1ff"/><stop offset="0.4925" stop-color="#d1d1ff"/><stop offset="0.5414" stop-color="#d8d8ff"/><stop offset="0.6241" stop-color="#e8e8ff"/><stop offset="0.6767" stop-color="#ebebff"/><stop offset="0.7744" stop-color="#eaeaff"/><stop offset="1.0000" stop-color="#fcfcff"/></linearGradient><linearGradient id="h88" gradientUnits="userSpaceOnUse" x1="699.76" x2="1232.19" y1="0" y2="0"><stop offset="0.0000" stop-color="#ececff"/><stop offset="0.0677" stop-color="#e4e4ff"/><stop offset="0.1579" stop-color="#e4e4ff"/><stop offset="0.2331" stop-color="#e1e1ff"/><stop offset="0.4699" stop-color="#d1d1ff"/><stop offset="0.5188" stop-color="#d4d4ff"/><stop offset="0.6278" stop-color="#e8e8ff"/><stop offset="0.6805" stop-color="#eaeaff"/><stop offset="0.7707" stop-color="#eaeaff"/><stop offset="0.9774" stop-color="#fbfbff"/><stop offset="1.0000" stop-color="#fcfcff"/></linearGradient><linearGradient id="h89" gradientUnits="userSpaceOnUse" x1="699.76" x2="1232.19" y1="0" y2="0"><stop offset="0.0000" stop-color="#ececff"/><stop offset="0.0639" stop-color="#e4e4ff"/><stop offset="0.1391" stop-color="#e4e4ff"/><stop offset="0.2143" stop-color="#e3e3ff"/><stop offset="0.4737" stop-color="#d2d2ff"/><stop offset="0.5226" stop-color="#d5d5ff"/><stop offset="0.6278" stop-color="#e7e7ff"/><stop offset="0.6805" stop-color="#eaeaff"/><stop offset="0.7707" stop-color="#eaeaff"/><stop offset="0.9549" stop-color="#fafaff"/><stop offset="1.0000" stop-color="#fdfdff"/></linearGradient><linearGradient id="h90" gradientUnits="userSpaceOnUse" x1="699.76" x2="1232.19" y1="0" y2="0"><stop offset="0.0000" stop-color="#ececff"/><stop offset="0.0639" stop-color="#e5e5ff"/><stop offset="0.1391" stop-color="#e4e4ff"/><stop offset="0.2143" stop-color="#e4e4ff"/><stop offset="0.4323" stop-color="#d6d6ff"/><stop offset="0.4925" stop-color="#d4d4ff"/><stop offset="0.5414" stop-color="#d9d9ff"/><stop offset="0.6278" stop-color="#e7e7ff"/><stop offset="0.6842" stop-color="#eaeaff"/><stop offset="0.7707" stop-color="#eaeaff"/><stop offset="0.9398" stop-color="#fafaff"/><stop offset="1.0000" stop-color="#fdfdff"/></linearGradient><linearGradient id="h91" gradientUnits="userSpaceOnUse" x1="699.76" x2="1232.19" y1="0" y2="0"><stop offset="0.0000" stop-color="#ececff"/><stop offset="0.0639" stop-color="#e5e5ff"/><stop offset="0.1391" stop-color="#e5e5ff"/><stop offset="0.2143" stop-color="#e5e5ff"/><stop offset="0.4248" stop-color="#dadaff"/><stop offset="0.4887" stop-color="#d6d6ff"/><stop offset="0.5414" stop-color="#dadaff"/><stop offset="0.6316" stop-color="#e8e8ff"/><stop offset="0.6917" stop-color="#eaeaff"/><stop offset="0.7707" stop-color="#ebebff"/><stop offset="0.9323" stop-color="#fafaff"/><stop offset="1.0000" stop-color="#fdfdff"/></linearGradient><linearGradient id="h92" gradientUnits="userSpaceOnUse" x1="699.76" x2="1232.19" y1="0" y2="0"><stop offset="0.0000" stop-color="#ededff"/><stop offset="0.0639" stop-color="#e6e6ff"/><stop offset="0.1429" stop-color="#e7e7ff"/><stop offset="0.2180" stop-color="#e6e6ff"/><stop offset="0.4211" stop-color="#ddddff"/><stop offset="0.4925" stop-color="#d9d9ff"/><stop offset="0.5451" stop-color="#ddddff"/><stop offset="0.6353" stop-color="#e9e9ff"/><stop offset="0.7068" stop-color="#eaeaff"/><stop offset="0.7782" stop-color="#ececff"/><stop offset="0.9248" stop-color="#fafaff"/><stop offset="1.0000" stop-color="#fefeff"/></linearGradient><linearGradient id="h93" gradientUnits="userSpaceOnUse" x1="699.76" x2="1232.19" y1="0" y2="0"><stop offset="0.0000" stop-color="#eeeeff"/><stop offset="0.0639" stop-color="#e7e7ff"/><stop offset="0.1466" stop-color="#e8e8ff"/><stop offset="0.2256" stop-color="#e8e8ff"/><stop offset="0.3534" stop-color="#e3e3ff"/><stop offset="0.4962" stop-color="#dcdcff"/><stop offset="0.5526" stop-color="#e0e0ff"/><stop offset="0.6391" stop-color="#eaeaff"/><stop offset="0.7707" stop-color="#ececff"/><stop offset="0.9248" stop-color="#fbfbff"/><stop offset="1.0000" stop-color="#fefeff"/></linearGradient><linearGradient id="h94" gradientUnits="userSpaceOnUse" x1="699.76" x2="1232.19" y1="0" y2="0"><stop offset="0.0000" stop-color="#efefff"/><stop offset="0.0639" stop-color="#e9e9ff"/><stop offset="0.2105" stop-color="#eaeaff"/><stop offset="0.3383" stop-color="#e6e6ff"/><stop offset="0.4323" stop-color="#e2e2ff"/><stop offset="0.5075" stop-color="#dfdfff"/><stop offset="0.5752" stop-color="#e5e5ff"/><stop offset="0.6504" stop-color="#ebebff"/><stop offset="0.7707" stop-color="#ededff"/><stop offset="0.9211" stop-color="#fbfbff"/><stop offset="1.0000" stop-color="#fefeff"/></linearGradient><linearGradient id="h95" gradientUnits="userSpaceOnUse" x1="699.76" x2="1232.19" y1="0" y2="0"><stop offset="0.0000" stop-color="#f0f0ff"/><stop offset="0.0677" stop-color="#eaeaff"/><stop offset="0.2068" stop-color="#ececff"/><stop offset="0.3346" stop-color="#e8e8ff"/><stop offset="0.4286" stop-color="#e6e6ff"/><stop offset="0.5113" stop-color="#e3e3ff"/><stop offset="0.5865" stop-color="#e8e8ff"/><stop offset="0.6617" stop-color="#ececff"/><stop offset="0.7669" stop-color="#ededff"/><stop offset="0.9211" stop-color="#fcfcff"/><stop offset="1.0000" stop-color="#fefeff"/></linearGradient><linearGradient id="h96" gradientUnits="userSpaceOnUse" x1="699.76" x2="1232.19" y1="0" y2="0"><stop offset="0.0000" stop-color="#f1f1ff"/><stop offset="0.0677" stop-color="#ececff"/><stop offset="0.2068" stop-color="#eeeeff"/><stop offset="0.3308" stop-color="#ebebff"/><stop offset="0.4286" stop-color="#e9e9ff"/><stop offset="0.5188" stop-color="#e6e6ff"/><stop offset="0.6654" stop-color="#ededff"/><stop offset="0.7669" stop-color="#eeeeff"/><stop offset="0.9211" stop-color="#fcfcff"/><stop offset="1.0000" stop-color="#fefeff"/></linearGradient><linearGradient id="h97" gradientUnits="userSpaceOnUse" x1="699.76" x2="1232.19" y1="0" y2="0"><stop offset="0.0000" stop-color="#f2f2ff"/><stop offset="0.0677" stop-color="#eeeeff"/><stop offset="0.2068" stop-color="#f0f0ff"/><stop offset="0.3271" stop-color="#ededff"/><stop offset="0.4286" stop-color="#ececff"/><stop offset="0.5263" stop-color="#e9e9ff"/><stop offset="0.6729" stop-color="#eeeeff"/><stop offset="0.7669" stop-color="#efefff"/><stop offset="0.9211" stop-color="#fcfcff"/><stop offset="1.0000" stop-color="#ffffff"/></linearGradient><linearGradient id="h98" gradientUnits="userSpaceOnUse" x1="699.76" x2="1232.19" y1="0" y2="0"><stop offset="0.0000" stop-color="#f3f3ff"/><stop offset="0.0714" stop-color="#efefff"/><stop offset="0.2068" stop-color="#f1f1ff"/><stop offset="0.3271" stop-color="#efefff"/><stop offset="0.4323" stop-color="#efefff"/><stop offset="0.5376" stop-color="#ececff"/><stop offset="0.6767" stop-color="#f0f0ff"/><stop offset="0.7707" stop-color="#f0f0ff"/><stop offset="0.9211" stop-color="#fdfdff"/><stop offset="1.0000" stop-color="#ffffff"/></linearGradient><linearGradient id="h99" gradientUnits="userSpaceOnUse" x1="699.76" x2="1232.19" y1="0" y2="0"><stop offset="0.0000" stop-color="#f4f4ff"/><stop offset="0.0752" stop-color="#f1f1ff"/><stop offset="0.2068" stop-color="#f3f3ff"/><stop offset="0.3271" stop-color="#f1f1ff"/><stop offset="0.4361" stop-color="#f1f1ff"/><stop offset="0.5489" stop-color="#eeeeff"/><stop offset="0.6880" stop-color="#f1f1ff"/><stop offset="0.7744" stop-color="#f2f2ff"/><stop offset="0.9211" stop-color="#fdfdff"/><stop offset="1.0000" stop-color="#ffffff"/></linearGradient><linearGradient id="h100" gradientUnits="userSpaceOnUse" x1="699.76" x2="1232.19" y1="0" y2="0"><stop offset="0.0000" stop-color="#f6f6ff"/><stop offset="0.0789" stop-color="#f3f3ff"/><stop offset="0.2068" stop-color="#f4f4ff"/><stop offset="0.3271" stop-color="#f3f3ff"/><stop offset="0.4398" stop-color="#f3f3ff"/><stop offset="0.5639" stop-color="#f1f1ff"/><stop offset="0.7143" stop-color="#f1f1ff"/><stop offset="0.7932" stop-color="#f4f4ff"/><stop offset="0.9211" stop-color="#fdfdff"/><stop offset="1.0000" stop-color="#ffffff"/></linearGradient><linearGradient id="h101" gradientUnits="userSpaceOnUse" x1="699.76" x2="1232.19" y1="0" y2="0"><stop offset="0.0000" stop-color="#f7f7ff"/><stop offset="0.0827" stop-color="#f4f4ff"/><stop offset="0.2105" stop-color="#f6f6ff"/><stop offset="0.3308" stop-color="#f5f5ff"/><stop offset="0.4474" stop-color="#f5f5ff"/><stop offset="0.5827" stop-color="#f3f3ff"/><stop offset="0.7707" stop-color="#f3f3ff"/><stop offset="0.9286" stop-color="#fefeff"/><stop offset="1.0000" stop-color="#ffffff"/></linearGradient><linearGradient id="h102" gradientUnits="userSpaceOnUse" x1="699.76" x2="1232.19" y1="0" y2="0"><stop offset="0.0000" stop-color="#f8f8ff"/><stop offset="0.0902" stop-color="#f6f6ff"/><stop offset="0.2180" stop-color="#f7f7ff"/><stop offset="0.3383" stop-color="#f6f6ff"/><stop offset="0.4586" stop-color="#f7f7ff"/><stop offset="0.6128" stop-color="#f4f4ff"/><stop offset="0.7669" stop-color="#f4f4ff"/><stop offset="0.9323" stop-color="#fefeff"/><stop offset="1.0000" stop-color="#ffffff"/></linearGradient><linearGradient id="h103" gradientUnits="userSpaceOnUse" x1="699.76" x2="1232.19" y1="0" y2="0"><stop offset="0.0000" stop-color="#f9f9ff"/><stop offset="0.0977" stop-color="#f7f7ff"/><stop offset="0.2256" stop-color="#f8f8ff"/><stop offset="0.3459" stop-color="#f8f8ff"/><stop offset="0.4699" stop-color="#f8f8ff"/><stop offset="0.7556" stop-color="#f4f4ff"/><stop offset="0.9361" stop-color="#fefeff"/><stop offset="1.0000" stop-color="#ffffff"/></linearGradient><linearGradient id="h104" gradientUnits="userSpaceOnUse" x1="699.76" x2="1232.19" y1="0" y2="0"><stop offset="0.0000" stop-color="#fafaff"/><stop offset="0.1090" stop-color="#f9f9ff"/><stop offset="0.2519" stop-color="#f8f8ff"/><stop offset="0.4774" stop-color="#f9f9ff"/><stop offset="0.7556" stop-color="#f5f5ff"/><stop offset="0.9361" stop-color="#fefeff"/><stop offset="1.0000" stop-color="#ffffff"/></linearGradient><linearGradient id="h105" gradientUnits="userSpaceOnUse" x1="699.76" x2="1232.19" y1="0" y2="0"><stop offset="0.0000" stop-color="#fbfbff"/><stop offset="0.1316" stop-color="#fafaff"/><stop offset="0.3496" stop-color="#f9f9ff"/><stop offset="0.4962" stop-color="#fafaff"/><stop offset="0.7519" stop-color="#f6f6ff"/><stop offset="0.9398" stop-color="#fefeff"/><stop offset="1.0000" stop-color="#ffffff"/></linearGradient><linearGradient id="h106" gradientUnits="userSpaceOnUse" x1="699.76" x2="1232.19" y1="0" y2="0"><stop offset="0.0000" stop-color="#fcfcff"/><stop offset="0.3496" stop-color="#fafaff"/><stop offset="0.5150" stop-color="#fafaff"/><stop offset="0.7519" stop-color="#f6f6ff"/><stop offset="0.9398" stop-color="#fefeff"/><stop offset="1.0000" stop-color="#ffffff"/></linearGradient><linearGradient id="h107" gradientUnits="userSpaceOnUse" x1="699.76" x2="1232.19" y1="0" y2="0"><stop offset="0.0000" stop-color="#fcfcff"/><stop offset="0.3496" stop-color="#fafaff"/><stop offset="0.5376" stop-color="#fbfbff"/><stop offset="0.7481" stop-color="#f7f7ff"/><stop offset="0.9398" stop-color="#fefeff"/><stop offset="1.0000" stop-color="#ffffff"/></linearGradient><linearGradient id="h108" gradientUnits="userSpaceOnUse" x1="699.76" x2="1232.19" y1="0" y2="0"><stop offset="0.0000" stop-color="#fdfdff"/><stop offset="0.3496" stop-color="#fbfbff"/><stop offset="0.5564" stop-color="#fbfbff"/><stop offset="0.7444" stop-color="#f7f7ff"/><stop offset="0.9398" stop-color="#ffffff"/><stop offset="1.0000" stop-color="#ffffff"/></linearGradient><linearGradient id="h109" gradientUnits="userSpaceOnUse" x1="699.76" x2="1232.19" y1="0" y2="0"><stop offset="0.0000" stop-color="#fdfdff"/><stop offset="0.3459" stop-color="#fbfbff"/><stop offset="0.5677" stop-color="#fbfbff"/><stop offset="0.7406" stop-color="#f7f7ff"/><stop offset="0.9398" stop-color="#ffffff"/><stop offset="1.0000" stop-color="#ffffff"/></linearGradient><linearGradient id="h110" gradientUnits="userSpaceOnUse" x1="699.76" x2="1232.19" y1="0" y2="0"><stop offset="0.0000" stop-color="#fefeff"/><stop offset="0.3383" stop-color="#fafaff"/><stop offset="0.5714" stop-color="#fcfcff"/><stop offset="0.7368" stop-color="#f7f7ff"/><stop offset="0.9361" stop-color="#ffffff"/><stop offset="1.0000" stop-color="#ffffff"/></linearGradient><linearGradient id="h111" gradientUnits="userSpaceOnUse" x1="699.76" x2="1232.19" y1="0" y2="0"><stop offset="0.0000" stop-color="#fefeff"/><stop offset="0.3271" stop-color="#fafaff"/><stop offset="0.5752" stop-color="#fcfcff"/><stop offset="0.7331" stop-color="#f7f7ff"/><stop offset="0.9361" stop-color="#ffffff"/><stop offset="1.0000" stop-color="#ffffff"/></linearGradient><linearGradient id="h112" gradientUnits="userSpaceOnUse" x1="699.76" x2="1232.19" y1="0" y2="0"><stop offset="0.0000" stop-color="#fefeff"/><stop offset="0.3158" stop-color="#f9f9ff"/><stop offset="0.5789" stop-color="#fcfcff"/><stop offset="0.7331" stop-color="#f7f7ff"/><stop offset="0.9323" stop-color="#ffffff"/><stop offset="1.0000" stop-color="#ffffff"/></linearGradient><linearGradient id="h113" gradientUnits="userSpaceOnUse" x1="699.76" x2="1232.19" y1="0" y2="0"><stop offset="0.0000" stop-color="#fefeff"/><stop offset="0.3008" stop-color="#f9f9ff"/><stop offset="0.5038" stop-color="#fcfcff"/><stop offset="0.6128" stop-color="#fbfbff"/><stop offset="0.7293" stop-color="#f7f7ff"/><stop offset="0.9323" stop-color="#ffffff"/><stop offset="1.0000" stop-color="#ffffff"/></linearGradient><linearGradient id="h114" gradientUnits="userSpaceOnUse" x1="699.76" x2="1232.19" y1="0" y2="0"><stop offset="0.0000" stop-color="#fefeff"/><stop offset="0.1767" stop-color="#fafaff"/><stop offset="0.3346" stop-color="#f8f8ff"/><stop offset="0.5827" stop-color="#fbfbff"/><stop offset="0.7293" stop-color="#f6f6ff"/><stop offset="0.9286" stop-color="#ffffff"/><stop offset="1.0000" stop-color="#ffffff"/></linearGradient><linearGradient id="h115" gradientUnits="userSpaceOnUse" x1="699.76" x2="1232.19" y1="0" y2="0"><stop offset="0.0000" stop-color="#ffffff"/><stop offset="0.1579" stop-color="#fbfbff"/><stop offset="0.2895" stop-color="#f8f8ff"/><stop offset="0.4586" stop-color="#f9f9ff"/><stop offset="0.5827" stop-color="#fbfbff"/><stop offset="0.7293" stop-color="#f6f6ff"/><stop offset="0.9248" stop-color="#fefeff"/><stop offset="1.0000" stop-color="#ffffff"/></linearGradient><linearGradient id="h116" gradientUnits="userSpaceOnUse" x1="699.76" x2="1232.19" y1="0" y2="0"><stop offset="0.0000" stop-color="#ffffff"/><stop offset="0.1466" stop-color="#fbfbff"/><stop offset="0.2744" stop-color="#f7f7ff"/><stop offset="0.4511" stop-color="#f8f8ff"/><stop offset="0.5789" stop-color="#fbfbff"/><stop offset="0.7331" stop-color="#f6f6ff"/><stop offset="0.9248" stop-color="#fefeff"/><stop offset="1.0000" stop-color="#ffffff"/></linearGradient><linearGradient id="h117" gradientUnits="userSpaceOnUse" x1="699.76" x2="1232.19" y1="0" y2="0"><stop offset="0.0000" stop-color="#ffffff"/><stop offset="0.1391" stop-color="#fbfbff"/><stop offset="0.2632" stop-color="#f7f7ff"/><stop offset="0.4474" stop-color="#f8f8ff"/><stop offset="0.5789" stop-color="#fbfbff"/><stop offset="0.7331" stop-color="#f7f7ff"/><stop offset="0.9248" stop-color="#ffffff"/><stop offset="1.0000" stop-color="#ffffff"/></linearGradient><linearGradient id="h118" gradientUnits="userSpaceOnUse" x1="699.76" x2="1232.19" y1="0" y2="0"><stop offset="0.0000" stop-color="#ffffff"/><stop offset="0.1353" stop-color="#fbfbff"/><stop offset="0.2594" stop-color="#f6f6ff"/><stop offset="0.4436" stop-color="#f7f7ff"/><stop offset="0.5827" stop-color="#fbfbff"/><stop offset="0.7368" stop-color="#f7f7ff"/><stop offset="0.9211" stop-color="#fefeff"/><stop offset="1.0000" stop-color="#ffffff"/></linearGradient><linearGradient id="h119" gradientUnits="userSpaceOnUse" x1="699.76" x2="1232.19" y1="0" y2="0"><stop offset="0.0000" stop-color="#ffffff"/><stop offset="0.1316" stop-color="#fbfbff"/><stop offset="0.2519" stop-color="#f6f6ff"/><stop offset="0.4474" stop-color="#f6f6ff"/><stop offset="0.5902" stop-color="#fafaff"/><stop offset="0.7406" stop-color="#f7f7ff"/><stop offset="0.9211" stop-color="#ffffff"/><stop offset="1.0000" stop-color="#ffffff"/></linearGradient><linearGradient id="h120" gradientUnits="userSpaceOnUse" x1="699.76" x2="1232.19" y1="0" y2="0"><stop offset="0.0000" stop-color="#ffffff"/><stop offset="0.1278" stop-color="#fbfbff"/><stop offset="0.2519" stop-color="#f5f5ff"/><stop offset="0.4474" stop-color="#f6f6ff"/><stop offset="0.5977" stop-color="#fafaff"/><stop offset="0.7444" stop-color="#f8f8ff"/><stop offset="0.9248" stop-color="#ffffff"/><stop offset="1.0000" stop-color="#ffffff"/></linearGradient><linearGradient id="h121" gradientUnits="userSpaceOnUse" x1="699.76" x2="1232.19" y1="0" y2="0"><stop offset="0.0000" stop-color="#ffffff"/><stop offset="0.1278" stop-color="#fbfbff"/><stop offset="0.2481" stop-color="#f5f5ff"/><stop offset="0.4511" stop-color="#f5f5ff"/><stop offset="0.6053" stop-color="#fafaff"/><stop offset="0.7519" stop-color="#f9f9ff"/><stop offset="0.9248" stop-color="#ffffff"/><stop offset="1.0000" stop-color="#ffffff"/></linearGradient><linearGradient id="h122" gradientUnits="userSpaceOnUse" x1="699.76" x2="1232.19" y1="0" y2="0"><stop offset="0.0000" stop-color="#ffffff"/><stop offset="0.1316" stop-color="#fafaff"/><stop offset="0.2519" stop-color="#f5f5ff"/><stop offset="0.4586" stop-color="#f5f5ff"/><stop offset="0.6165" stop-color="#fafaff"/><stop offset="0.7594" stop-color="#f9f9ff"/><stop offset="0.9286" stop-color="#ffffff"/><stop offset="1.0000" stop-color="#ffffff"/></linearGradient><linearGradient id="h123" gradientUnits="userSpaceOnUse" x1="699.76" x2="1232.19" y1="0" y2="0"><stop offset="0.0000" stop-color="#ffffff"/><stop offset="0.1353" stop-color="#fafaff"/><stop offset="0.2519" stop-color="#f6f6ff"/><stop offset="0.4662" stop-color="#f5f5ff"/><stop offset="0.6316" stop-color="#fafaff"/><stop offset="0.7707" stop-color="#fafaff"/><stop offset="0.9398" stop-color="#ffffff"/><stop offset="1.0000" stop-color="#ffffff"/></linearGradient><linearGradient id="h124" gradientUnits="userSpaceOnUse" x1="699.76" x2="1232.19" y1="0" y2="0"><stop offset="0.0000" stop-color="#ffffff"/><stop offset="0.1391" stop-color="#fafaff"/><stop offset="0.2556" stop-color="#f6f6ff"/><stop offset="0.4774" stop-color="#f5f5ff"/><stop offset="0.6429" stop-color="#fafaff"/><stop offset="0.7857" stop-color="#fbfbff"/><stop offset="0.9586" stop-color="#ffffff"/><stop offset="1.0000" stop-color="#ffffff"/></linearGradient><linearGradient id="h125" gradientUnits="userSpaceOnUse" x1="699.76" x2="1232.19" y1="0" y2="0"><stop offset="0.0000" stop-color="#fefeff"/><stop offset="0.1541" stop-color="#f9f9ff"/><stop offset="0.2744" stop-color="#f6f6ff"/><stop offset="0.4850" stop-color="#f5f5ff"/><stop offset="0.6541" stop-color="#fafaff"/><stop offset="0.8158" stop-color="#fdfdff"/><stop offset="1.0000" stop-color="#ffffff"/></linearGradient><linearGradient id="h126" gradientUnits="userSpaceOnUse" x1="699.76" x2="1232.19" y1="0" y2="0"><stop offset="0.0000" stop-color="#fefeff"/><stop offset="0.2444" stop-color="#f7f7ff"/><stop offset="0.4925" stop-color="#f5f5ff"/><stop offset="0.6654" stop-color="#fbfbff"/><stop offset="0.9962" stop-color="#ffffff"/><stop offset="1.0000" stop-color="#ffffff"/></linearGradient><linearGradient id="h127" gradientUnits="userSpaceOnUse" x1="699.76" x2="1232.19" y1="0" y2="0"><stop offset="0.0000" stop-color="#fefeff"/><stop offset="0.2368" stop-color="#f7f7ff"/><stop offset="0.3947" stop-color="#f6f6ff"/><stop offset="0.5075" stop-color="#f5f5ff"/><stop offset="0.6729" stop-color="#fbfbff"/><stop offset="1.0000" stop-color="#ffffff"/></linearGradient><linearGradient id="h128" gradientUnits="userSpaceOnUse" x1="699.76" x2="1232.19" y1="0" y2="0"><stop offset="0.0000" stop-color="#fefeff"/><stop offset="0.2256" stop-color="#f8f8ff"/><stop offset="0.3797" stop-color="#f7f7ff"/><stop offset="0.5000" stop-color="#f5f5ff"/><stop offset="0.6842" stop-color="#fcfcff"/><stop offset="1.0000" stop-color="#ffffff"/></linearGradient><linearGradient id="h129" gradientUnits="userSpaceOnUse" x1="699.76" x2="1232.19" y1="0" y2="0"><stop offset="0.0000" stop-color="#fefeff"/><stop offset="0.2105" stop-color="#f8f8ff"/><stop offset="0.3684" stop-color="#f8f8ff"/><stop offset="0.5000" stop-color="#f5f5ff"/><stop offset="0.6917" stop-color="#fcfcff"/><stop offset="1.0000" stop-color="#ffffff"/></linearGradient><linearGradient id="h130" gradientUnits="userSpaceOnUse" x1="699.76" x2="1232.19" y1="0" y2="0"><stop offset="0.0000" stop-color="#fefeff"/><stop offset="0.1917" stop-color="#f8f8ff"/><stop offset="0.3609" stop-color="#f9f9ff"/><stop offset="0.5038" stop-color="#f5f5ff"/><stop offset="0.6992" stop-color="#fdfdff"/><stop offset="1.0000" stop-color="#ffffff"/></linearGradient><linearGradient id="h131" gradientUnits="userSpaceOnUse" x1="699.76" x2="1232.19" y1="0" y2="0"><stop offset="0.0000" stop-color="#fefeff"/><stop offset="0.1767" stop-color="#f8f8ff"/><stop offset="0.3571" stop-color="#f9f9ff"/><stop offset="0.5075" stop-color="#f6f6ff"/><stop offset="0.7030" stop-color="#fdfdff"/><stop offset="1.0000" stop-color="#ffffff"/></linearGradient><linearGradient id="h132" gradientUnits="userSpaceOnUse" x1="699.76" x2="1232.19" y1="0" y2="0"><stop offset="0.0000" stop-color="#fdfdff"/><stop offset="0.1654" stop-color="#f8f8ff"/><stop offset="0.3496" stop-color="#fafaff"/><stop offset="0.5113" stop-color="#f6f6ff"/><stop offset="0.7068" stop-color="#fefeff"/><stop offset="1.0000" stop-color="#ffffff"/></linearGradient><linearGradient id="h133" gradientUnits="userSpaceOnUse" x1="699.76" x2="1232.19" y1="0" y2="0"><stop offset="0.0000" stop-color="#fdfdff"/><stop offset="0.1579" stop-color="#f8f8ff"/><stop offset="0.3459" stop-color="#fbfbff"/><stop offset="0.5150" stop-color="#f7f7ff"/><stop offset="0.7105" stop-color="#fefeff"/><stop offset="1.0000" stop-color="#ffffff"/></linearGradient><linearGradient id="h134" gradientUnits="userSpaceOnUse" x1="699.76" x2="1232.19" y1="0" y2="0"><stop offset="0.0000" stop-color="#fdfdff"/><stop offset="0.1504" stop-color="#f8f8ff"/><stop offset="0.3459" stop-color="#fbfbff"/><stop offset="0.5188" stop-color="#f7f7ff"/><stop offset="0.7143" stop-color="#fefeff"/><stop offset="1.0000" stop-color="#ffffff"/></linearGradient><linearGradient id="h135" gradientUnits="userSpaceOnUse" x1="699.76" x2="1232.19" y1="0" y2="0"><stop offset="0.0000" stop-color="#fdfdff"/><stop offset="0.1429" stop-color="#f7f7ff"/><stop offset="0.3459" stop-color="#fbfbff"/><stop offset="0.5263" stop-color="#f8f8ff"/><stop offset="0.7180" stop-color="#fefeff"/><stop offset="1.0000" stop-color="#ffffff"/></linearGradient><linearGradient id="h136" gradientUnits="userSpaceOnUse" x1="699.76" x2="1232.19" y1="0" y2="0"><stop offset="0.0000" stop-color="#fdfdff"/><stop offset="0.1391" stop-color="#f7f7ff"/><stop offset="0.3459" stop-color="#fcfcff"/><stop offset="0.5301" stop-color="#f9f9ff"/><stop offset="0.7256" stop-color="#fefeff"/><stop offset="1.0000" stop-color="#ffffff"/></linearGradient><linearGradient id="h137" gradientUnits="userSpaceOnUse" x1="699.76" x2="1232.19" y1="0" y2="0"><stop offset="0.0000" stop-color="#fdfdff"/><stop offset="0.1391" stop-color="#f7f7ff"/><stop offset="0.3496" stop-color="#fcfcff"/><stop offset="0.5414" stop-color="#fafaff"/><stop offset="0.7293" stop-color="#ffffff"/><stop offset="1.0000" stop-color="#ffffff"/></linearGradient><linearGradient id="h138" gradientUnits="userSpaceOnUse" x1="699.76" x2="1232.19" y1="0" y2="0"><stop offset="0.0000" stop-color="#fdfdff"/><stop offset="0.1353" stop-color="#f7f7ff"/><stop offset="0.3571" stop-color="#fcfcff"/><stop offset="0.5526" stop-color="#fbfbff"/><stop offset="0.7444" stop-color="#ffffff"/><stop offset="1.0000" stop-color="#ffffff"/></linearGradient><linearGradient id="h139" gradientUnits="userSpaceOnUse" x1="699.76" x2="1232.19" y1="0" y2="0"><stop offset="0.0000" stop-color="#fdfdff"/><stop offset="0.1353" stop-color="#f6f6ff"/><stop offset="0.3759" stop-color="#fbfbff"/><stop offset="0.5677" stop-color="#fcfcff"/><stop offset="0.7669" stop-color="#ffffff"/><stop offset="1.0000" stop-color="#ffffff"/></linearGradient><linearGradient id="h140" gradientUnits="userSpaceOnUse" x1="699.76" x2="1232.19" y1="0" y2="0"><stop offset="0.0000" stop-color="#fdfdff"/><stop offset="0.1391" stop-color="#f7f7ff"/><stop offset="0.4060" stop-color="#fcfcff"/><stop offset="0.5977" stop-color="#fdfdff"/><stop offset="0.8534" stop-color="#ffffff"/><stop offset="1.0000" stop-color="#ffffff"/></linearGradient><linearGradient id="h141" gradientUnits="userSpaceOnUse" x1="699.76" x2="1232.19" y1="0" y2="0"><stop offset="0.0000" stop-color="#fdfdff"/><stop offset="0.1391" stop-color="#f7f7ff"/><stop offset="0.4812" stop-color="#fcfcff"/><stop offset="0.8158" stop-color="#ffffff"/><stop offset="1.0000" stop-color="#ffffff"/></linearGradient><linearGradient id="h142" gradientUnits="userSpaceOnUse" x1="699.76" x2="1232.19" y1="0" y2="0"><stop offset="0.0000" stop-color="#fdfdff"/><stop offset="0.1429" stop-color="#f7f7ff"/><stop offset="0.6992" stop-color="#ffffff"/><stop offset="1.0000" stop-color="#ffffff"/></linearGradient><linearGradient id="h143" gradientUnits="userSpaceOnUse" x1="699.76" x2="1232.19" y1="0" y2="0"><stop offset="0.0000" stop-color="#fdfdff"/><stop offset="0.1466" stop-color="#f7f7ff"/><stop offset="0.4211" stop-color="#fcfcff"/><stop offset="0.8045" stop-color="#ffffff"/><stop offset="1.0000" stop-color="#ffffff"/></linearGradient><linearGradient id="h144" gradientUnits="userSpaceOnUse" x1="699.76" x2="1232.19" y1="0" y2="0"><stop offset="0.0000" stop-color="#fdfdff"/><stop offset="0.1541" stop-color="#f8f8ff"/><stop offset="0.3722" stop-color="#fafaff"/><stop offset="0.5789" stop-color="#fefeff"/><stop offset="1.0000" stop-color="#ffffff"/></linearGradient><linearGradient id="h145" gradientUnits="userSpaceOnUse" x1="699.76" x2="1232.19" y1="0" y2="0"><stop offset="0.0000" stop-color="#fdfdff"/><stop offset="0.1617" stop-color="#f8f8ff"/><stop offset="0.3534" stop-color="#f9f9ff"/><stop offset="0.5263" stop-color="#fefeff"/><stop offset="1.0000" stop-color="#ffffff"/></linearGradient><linearGradient id="h146" gradientUnits="userSpaceOnUse" x1="699.76" x2="1232.19" y1="0" y2="0"><stop offset="0.0000" stop-color="#fdfdff"/><stop offset="0.1767" stop-color="#f9f9ff"/><stop offset="0.3421" stop-color="#f8f8ff"/><stop offset="0.5150" stop-color="#fefeff"/><stop offset="1.0000" stop-color="#ffffff"/></linearGradient><linearGradient id="h147" gradientUnits="userSpaceOnUse" x1="699.76" x2="1232.19" y1="0" y2="0"><stop offset="0.0000" stop-color="#fdfdff"/><stop offset="0.2857" stop-color="#f7f7ff"/><stop offset="0.3910" stop-color="#fafaff"/><stop offset="0.5301" stop-color="#fefeff"/><stop offset="1.0000" stop-color="#ffffff"/></linearGradient><linearGradient id="h148" gradientUnits="userSpaceOnUse" x1="699.76" x2="1232.19" y1="0" y2="0"><stop offset="0.0000" stop-color="#fdfdff"/><stop offset="0.3233" stop-color="#f7f7ff"/><stop offset="0.5150" stop-color="#fefeff"/><stop offset="1.0000" stop-color="#fefeff"/></linearGradient><linearGradient id="h149" gradientUnits="userSpaceOnUse" x1="699.76" x2="1232.19" y1="0" y2="0"><stop offset="0.0000" stop-color="#fdfdff"/><stop offset="0.3271" stop-color="#f7f7ff"/><stop offset="0.5113" stop-color="#fefeff"/><stop offset="1.0000" stop-color="#fefeff"/></linearGradient><linearGradient id="h150" gradientUnits="userSpaceOnUse" x1="699.76" x2="1232.19" y1="0" y2="0"><stop offset="0.0000" stop-color="#fdfdff"/><stop offset="0.2481" stop-color="#f8f8ff"/><stop offset="0.3383" stop-color="#f7f7ff"/><stop offset="0.5075" stop-color="#fefeff"/><stop offset="0.9511" stop-color="#fdfdff"/><stop offset="1.0000" stop-color="#fefeff"/></linearGradient><linearGradient id="h151" gradientUnits="userSpaceOnUse" x1="699.76" x2="1232.19" y1="0" y2="0"><stop offset="0.0000" stop-color="#fdfdff"/><stop offset="0.2256" stop-color="#f9f9ff"/><stop offset="0.3271" stop-color="#f7f7ff"/><stop offset="0.5113" stop-color="#fefeff"/><stop offset="0.7594" stop-color="#fdfdff"/><stop offset="0.9812" stop-color="#fdfdff"/><stop offset="1.0000" stop-color="#fefeff"/></linearGradient><linearGradient id="h152" gradientUnits="userSpaceOnUse" x1="699.76" x2="1232.19" y1="0" y2="0"><stop offset="0.0000" stop-color="#fdfdff"/><stop offset="0.2105" stop-color="#fafaff"/><stop offset="0.3233" stop-color="#f7f7ff"/><stop offset="0.5113" stop-color="#fefeff"/><stop offset="0.7293" stop-color="#fdfdff"/><stop offset="0.9023" stop-color="#fcfcff"/><stop offset="1.0000" stop-color="#fdfdff"/></linearGradient><linearGradient id="h153" gradientUnits="userSpaceOnUse" x1="699.76" x2="1232.19" y1="0" y2="0"><stop offset="0.0000" stop-color="#fdfdff"/><stop offset="0.2030" stop-color="#fbfbff"/><stop offset="0.3233" stop-color="#f7f7ff"/><stop offset="0.5150" stop-color="#fefeff"/><stop offset="0.7143" stop-color="#fcfcff"/><stop offset="0.8722" stop-color="#fafaff"/><stop offset="1.0000" stop-color="#fdfdff"/></linearGradient><linearGradient id="h154" gradientUnits="userSpaceOnUse" x1="699.76" x2="1232.19" y1="0" y2="0"><stop offset="0.0000" stop-color="#fdfdff"/><stop offset="0.1955" stop-color="#fbfbff"/><stop offset="0.3233" stop-color="#f8f8ff"/><stop offset="0.5188" stop-color="#fefeff"/><stop offset="0.7030" stop-color="#fcfcff"/><stop offset="0.8571" stop-color="#f9f9ff"/><stop offset="1.0000" stop-color="#fcfcff"/></linearGradient><linearGradient id="h155" gradientUnits="userSpaceOnUse" x1="699.76" x2="1232.19" y1="0" y2="0"><stop offset="0.0000" stop-color="#fcfcff"/><stop offset="0.1955" stop-color="#fcfcff"/><stop offset="0.3271" stop-color="#f8f8ff"/><stop offset="0.5188" stop-color="#fefeff"/><stop offset="0.6880" stop-color="#fcfcff"/><stop offset="0.8421" stop-color="#f7f7ff"/><stop offset="1.0000" stop-color="#fbfbff"/></linearGradient><linearGradient id="h156" gradientUnits="userSpaceOnUse" x1="699.76" x2="1232.19" y1="0" y2="0"><stop offset="0.0000" stop-color="#fcfcff"/><stop offset="0.1917" stop-color="#fcfcff"/><stop offset="0.3308" stop-color="#f9f9ff"/><stop offset="0.5188" stop-color="#fefeff"/><stop offset="0.6767" stop-color="#fbfbff"/><stop offset="0.8308" stop-color="#f6f6ff"/><stop offset="1.0000" stop-color="#fafaff"/></linearGradient><linearGradient id="h157" gradientUnits="userSpaceOnUse" x1="699.76" x2="1232.19" y1="0" y2="0"><stop offset="0.0000" stop-color="#fbfbff"/><stop offset="0.1917" stop-color="#fcfcff"/><stop offset="0.3346" stop-color="#f9f9ff"/><stop offset="0.5226" stop-color="#fefeff"/><stop offset="0.6692" stop-color="#fbfbff"/><stop offset="0.8233" stop-color="#f4f4ff"/><stop offset="0.9511" stop-color="#f7f7ff"/><stop offset="1.0000" stop-color="#fafaff"/></linearGradient><linearGradient id="h158" gradientUnits="userSpaceOnUse" x1="699.76" x2="1232.19" y1="0" y2="0"><stop offset="0.0000" stop-color="#fafaff"/><stop offset="0.1917" stop-color="#fdfdff"/><stop offset="0.3421" stop-color="#fafaff"/><stop offset="0.5263" stop-color="#fefeff"/><stop offset="0.6654" stop-color="#fafaff"/><stop offset="0.8158" stop-color="#f2f2ff"/><stop offset="0.9211" stop-color="#f4f4ff"/><stop offset="1.0000" stop-color="#f9f9ff"/></linearGradient><linearGradient id="h159" gradientUnits="userSpaceOnUse" x1="699.76" x2="1232.19" y1="0" y2="0"><stop offset="0.0000" stop-color="#fafaff"/><stop offset="0.1917" stop-color="#fdfdff"/><stop offset="0.3496" stop-color="#fbfbff"/><stop offset="0.5263" stop-color="#fefeff"/><stop offset="0.6579" stop-color="#f9f9ff"/><stop offset="0.8120" stop-color="#f0f0ff"/><stop offset="0.9060" stop-color="#f2f2ff"/><stop offset="1.0000" stop-color="#f8f8ff"/></linearGradient><linearGradient id="h160" gradientUnits="userSpaceOnUse" x1="699.76" x2="1232.19" y1="0" y2="0"><stop offset="0.0000" stop-color="#f9f9ff"/><stop offset="0.1917" stop-color="#fdfdff"/><stop offset="0.3571" stop-color="#fbfbff"/><stop offset="0.5301" stop-color="#fefeff"/><stop offset="0.6541" stop-color="#f8f8ff"/><stop offset="0.8045" stop-color="#eeeeff"/><stop offset="0.8872" stop-color="#efefff"/><stop offset="1.0000" stop-color="#f7f7ff"/></linearGradient><linearGradient id="h161" gradientUnits="userSpaceOnUse" x1="699.76" x2="1232.19" y1="0" y2="0"><stop offset="0.0000" stop-color="#f9f9ff"/><stop offset="0.1917" stop-color="#fdfdff"/><stop offset="0.3684" stop-color="#fbfbff"/><stop offset="0.5301" stop-color="#fdfdff"/><stop offset="0.6504" stop-color="#f7f7ff"/><stop offset="0.8008" stop-color="#ececff"/><stop offset="0.8797" stop-color="#ededff"/><stop offset="1.0000" stop-color="#f6f6ff"/></linearGradient><linearGradient id="h162" gradientUnits="userSpaceOnUse" x1="699.76" x2="1232.19" y1="0" y2="0"><stop offset="0.0000" stop-color="#f8f8ff"/><stop offset="0.1917" stop-color="#fdfdff"/><stop offset="0.3797" stop-color="#fcfcff"/><stop offset="0.5301" stop-color="#fdfdff"/><stop offset="0.6466" stop-color="#f7f7ff"/><stop offset="0.7932" stop-color="#ebebff"/><stop offset="0.8684" stop-color="#ebebff"/><stop offset="1.0000" stop-color="#f5f5ff"/></linearGradient><linearGradient id="h163" gradientUnits="userSpaceOnUse" x1="699.76" x2="1232.19" y1="0" y2="0"><stop offset="0.0000" stop-color="#f8f8ff"/><stop offset="0.1917" stop-color="#fefeff"/><stop offset="0.3872" stop-color="#fcfcff"/><stop offset="0.5301" stop-color="#fdfdff"/><stop offset="0.6391" stop-color="#f6f6ff"/><stop offset="0.7895" stop-color="#e9e9ff"/><stop offset="0.8647" stop-color="#eaeaff"/><stop offset="1.0000" stop-color="#f5f5ff"/></linearGradient><linearGradient id="h164" gradientUnits="userSpaceOnUse" x1="699.76" x2="1232.19" y1="0" y2="0"><stop offset="0.0000" stop-color="#f7f7ff"/><stop offset="0.1917" stop-color="#fefeff"/><stop offset="0.3947" stop-color="#fbfbff"/><stop offset="0.5263" stop-color="#fcfcff"/><stop offset="0.6278" stop-color="#f6f6ff"/><stop offset="0.7820" stop-color="#e8e8ff"/><stop offset="0.8571" stop-color="#e8e8ff"/><stop offset="1.0000" stop-color="#f4f4ff"/></linearGradient><linearGradient id="h165" gradientUnits="userSpaceOnUse" x1="699.76" x2="1232.19" y1="0" y2="0"><stop offset="0.0000" stop-color="#f7f7ff"/><stop offset="0.1917" stop-color="#fefeff"/><stop offset="0.3947" stop-color="#fbfbff"/><stop offset="0.5263" stop-color="#fcfcff"/><stop offset="0.6241" stop-color="#f5f5ff"/><stop offset="0.7707" stop-color="#e8e8ff"/><stop offset="0.8459" stop-color="#e7e7ff"/><stop offset="0.9624" stop-color="#f0f0ff"/><stop offset="1.0000" stop-color="#f4f4ff"/></linearGradient><linearGradient id="h166" gradientUnits="userSpaceOnUse" x1="699.76" x2="1232.19" y1="0" y2="0"><stop offset="0.0000" stop-color="#f7f7ff"/><stop offset="0.1917" stop-color="#fefeff"/><stop offset="0.3947" stop-color="#fbfbff"/><stop offset="0.5226" stop-color="#fcfcff"/><stop offset="0.6165" stop-color="#f5f5ff"/><stop offset="0.7556" stop-color="#e8e8ff"/><stop offset="0.8346" stop-color="#e6e6ff"/><stop offset="0.9323" stop-color="#ededff"/><stop offset="1.0000" stop-color="#f4f4ff"/></linearGradient><linearGradient id="h167" gradientUnits="userSpaceOnUse" x1="699.76" x2="1232.19" y1="0" y2="0"><stop offset="0.0000" stop-color="#f7f7ff"/><stop offset="0.1917" stop-color="#fefeff"/><stop offset="0.3947" stop-color="#fafaff"/><stop offset="0.5188" stop-color="#fbfbff"/><stop offset="0.6053" stop-color="#f5f5ff"/><stop offset="0.7368" stop-color="#e8e8ff"/><stop offset="0.8233" stop-color="#e6e6ff"/><stop offset="0.9173" stop-color="#ececff"/><stop offset="1.0000" stop-color="#f4f4ff"/></linearGradient><linearGradient id="h168" gradientUnits="userSpaceOnUse" x1="699.76" x2="1232.19" y1="0" y2="0"><stop offset="0.0000" stop-color="#f7f7ff"/><stop offset="0.1917" stop-color="#fefeff"/><stop offset="0.3910" stop-color="#fafaff"/><stop offset="0.5188" stop-color="#fbfbff"/><stop offset="0.6015" stop-color="#f5f5ff"/><stop offset="0.7218" stop-color="#e9e9ff"/><stop offset="0.8120" stop-color="#e6e6ff"/><stop offset="0.9023" stop-color="#ebebff"/><stop offset="1.0000" stop-color="#f4f4ff"/></linearGradient><linearGradient id="h169" gradientUnits="userSpaceOnUse" x1="699.76" x2="1232.19" y1="0" y2="0"><stop offset="0.0000" stop-color="#f8f8ff"/><stop offset="0.1955" stop-color="#fefeff"/><stop offset="0.3910" stop-color="#f9f9ff"/><stop offset="0.5150" stop-color="#fbfbff"/><stop offset="0.5940" stop-color="#f5f5ff"/><stop offset="0.7068" stop-color="#e9e9ff"/><stop offset="0.8008" stop-color="#e7e7ff"/><stop offset="0.8947" stop-color="#ebebff"/><stop offset="1.0000" stop-color="#f5f5ff"/></linearGradient><linearGradient id="h170" gradientUnits="userSpaceOnUse" x1="699.76" x2="1232.19" y1="0" y2="0"><stop offset="0.0000" stop-color="#f8f8ff"/><stop offset="0.1955" stop-color="#fefeff"/><stop offset="0.3872" stop-color="#f8f8ff"/><stop offset="0.5150" stop-color="#fafaff"/><stop offset="0.5902" stop-color="#f5f5ff"/><stop offset="0.6992" stop-color="#e9e9ff"/><stop offset="0.7932" stop-color="#e7e7ff"/><stop offset="0.8985" stop-color="#ededff"/><stop offset="1.0000" stop-color="#f5f5ff"/></linearGradient><linearGradient id="h171" gradientUnits="userSpaceOnUse" x1="699.76" x2="1232.19" y1="0" y2="0"><stop offset="0.0000" stop-color="#f9f9ff"/><stop offset="0.1992" stop-color="#fefeff"/><stop offset="0.3835" stop-color="#f8f8ff"/><stop offset="0.5150" stop-color="#fafaff"/><stop offset="0.5902" stop-color="#f4f4ff"/><stop offset="0.6917" stop-color="#eaeaff"/><stop offset="0.7820" stop-color="#e8e8ff"/><stop offset="0.8985" stop-color="#eeeeff"/><stop offset="1.0000" stop-color="#f6f6ff"/></linearGradient><linearGradient id="h172" gradientUnits="userSpaceOnUse" x1="699.76" x2="1232.19" y1="0" y2="0"><stop offset="0.0000" stop-color="#f9f9ff"/><stop offset="0.1992" stop-color="#fdfdff"/><stop offset="0.3835" stop-color="#f8f8ff"/><stop offset="0.5150" stop-color="#fafaff"/><stop offset="0.5902" stop-color="#f4f4ff"/><stop offset="0.6880" stop-color="#eaeaff"/><stop offset="0.7782" stop-color="#eaeaff"/><stop offset="0.9211" stop-color="#f1f1ff"/><stop offset="1.0000" stop-color="#f7f7ff"/></linearGradient><linearGradient id="h173" gradientUnits="userSpaceOnUse" x1="699.76" x2="1232.19" y1="0" y2="0"><stop offset="0.0000" stop-color="#fafaff"/><stop offset="0.2030" stop-color="#fdfdff"/><stop offset="0.3835" stop-color="#f7f7ff"/><stop offset="0.5150" stop-color="#fafaff"/><stop offset="0.5902" stop-color="#f4f4ff"/><stop offset="0.6842" stop-color="#ebebff"/><stop offset="0.7707" stop-color="#ebebff"/><stop offset="0.9662" stop-color="#f6f6ff"/><stop offset="1.0000" stop-color="#f8f8ff"/></linearGradient><linearGradient id="h174" gradientUnits="userSpaceOnUse" x1="699.76" x2="1232.19" y1="0" y2="0"><stop offset="0.0000" stop-color="#fafaff"/><stop offset="0.2105" stop-color="#fdfdff"/><stop offset="0.3797" stop-color="#f7f7ff"/><stop offset="0.5150" stop-color="#fafaff"/><stop offset="0.5902" stop-color="#f4f4ff"/><stop offset="0.6805" stop-color="#ececff"/><stop offset="0.7632" stop-color="#ececff"/><stop offset="1.0000" stop-color="#f9f9ff"/></linearGradient><linearGradient id="h175" gradientUnits="userSpaceOnUse" x1="699.76" x2="1232.19" y1="0" y2="0"><stop offset="0.0000" stop-color="#fbfbff"/><stop offset="0.2180" stop-color="#fdfdff"/><stop offset="0.3797" stop-color="#f7f7ff"/><stop offset="0.5150" stop-color="#fafaff"/><stop offset="0.5940" stop-color="#f4f4ff"/><stop offset="0.6805" stop-color="#ededff"/><stop offset="0.7632" stop-color="#eeeeff"/><stop offset="1.0000" stop-color="#fafaff"/></linearGradient><linearGradient id="h176" gradientUnits="userSpaceOnUse" x1="699.76" x2="1232.19" y1="0" y2="0"><stop offset="0.0000" stop-color="#fcfcff"/><stop offset="0.2293" stop-color="#fcfcff"/><stop offset="0.3797" stop-color="#f7f7ff"/><stop offset="0.5188" stop-color="#fafaff"/><stop offset="0.6053" stop-color="#f4f4ff"/><stop offset="0.6880" stop-color="#eeeeff"/><stop offset="0.7857" stop-color="#f1f1ff"/><stop offset="1.0000" stop-color="#fafaff"/></linearGradient><linearGradient id="h177" gradientUnits="userSpaceOnUse" x1="699.76" x2="1232.19" y1="0" y2="0"><stop offset="0.0000" stop-color="#fcfcff"/><stop offset="0.2406" stop-color="#fcfcff"/><stop offset="0.3797" stop-color="#f7f7ff"/><stop offset="0.5188" stop-color="#fafaff"/><stop offset="0.6090" stop-color="#f4f4ff"/><stop offset="0.6880" stop-color="#efefff"/><stop offset="0.7932" stop-color="#f3f3ff"/><stop offset="1.0000" stop-color="#fbfbff"/></linearGradient><linearGradient id="h178" gradientUnits="userSpaceOnUse" x1="699.76" x2="1232.19" y1="0" y2="0"><stop offset="0.0000" stop-color="#fcfcff"/><stop offset="0.2556" stop-color="#fbfbff"/><stop offset="0.3835" stop-color="#f8f8ff"/><stop offset="0.5226" stop-color="#fbfbff"/><stop offset="0.6842" stop-color="#f1f1ff"/><stop offset="0.7932" stop-color="#f5f5ff"/><stop offset="1.0000" stop-color="#fcfcff"/></linearGradient><linearGradient id="h179" gradientUnits="userSpaceOnUse" x1="699.76" x2="1232.19" y1="0" y2="0"><stop offset="0.0000" stop-color="#fdfdff"/><stop offset="0.2744" stop-color="#fbfbff"/><stop offset="0.3910" stop-color="#f8f8ff"/><stop offset="0.5226" stop-color="#fbfbff"/><stop offset="0.6842" stop-color="#f3f3ff"/><stop offset="0.8158" stop-color="#f7f7ff"/><stop offset="1.0000" stop-color="#fdfdff"/></linearGradient><linearGradient id="h180" gradientUnits="userSpaceOnUse" x1="699.76" x2="1232.19" y1="0" y2="0"><stop offset="0.0000" stop-color="#fdfdff"/><stop offset="0.2932" stop-color="#fafaff"/><stop offset="0.4023" stop-color="#f9f9ff"/><stop offset="0.5263" stop-color="#fbfbff"/><stop offset="0.6842" stop-color="#f4f4ff"/><stop offset="0.9812" stop-color="#fdfdff"/><stop offset="1.0000" stop-color="#fdfdff"/></linearGradient><linearGradient id="h181" gradientUnits="userSpaceOnUse" x1="699.76" x2="1232.19" y1="0" y2="0"><stop offset="0.0000" stop-color="#fdfdff"/><stop offset="0.2030" stop-color="#fcfcff"/><stop offset="0.4060" stop-color="#f9f9ff"/><stop offset="0.5301" stop-color="#fcfcff"/><stop offset="0.6880" stop-color="#f6f6ff"/><stop offset="0.9662" stop-color="#fdfdff"/><stop offset="1.0000" stop-color="#fefeff"/></linearGradient><linearGradient id="h182" gradientUnits="userSpaceOnUse" x1="699.76" x2="1232.19" y1="0" y2="0"><stop offset="0.0000" stop-color="#fdfdff"/><stop offset="0.1805" stop-color="#fbfbff"/><stop offset="0.3308" stop-color="#fafaff"/><stop offset="0.4511" stop-color="#fbfbff"/><stop offset="0.5526" stop-color="#fcfcff"/><stop offset="0.6917" stop-color="#f7f7ff"/><stop offset="0.9586" stop-color="#fdfdff"/><stop offset="1.0000" stop-color="#fefeff"/></linearGradient><linearGradient id="h183" gradientUnits="userSpaceOnUse" x1="699.76" x2="1232.19" y1="0" y2="0"><stop offset="0.0000" stop-color="#fdfdff"/><stop offset="0.1692" stop-color="#fafaff"/><stop offset="0.3271" stop-color="#fbfbff"/><stop offset="0.4662" stop-color="#fcfcff"/><stop offset="0.5752" stop-color="#fbfbff"/><stop offset="0.6992" stop-color="#f9f9ff"/><stop offset="0.9624" stop-color="#fefeff"/><stop offset="1.0000" stop-color="#fefeff"/></linearGradient><linearGradient id="h184" gradientUnits="userSpaceOnUse" x1="699.76" x2="1232.19" y1="0" y2="0"><stop offset="0.0000" stop-color="#fdfdff"/><stop offset="0.1617" stop-color="#fafaff"/><stop offset="0.3308" stop-color="#fbfbff"/><stop offset="0.5602" stop-color="#fcfcff"/><stop offset="0.7068" stop-color="#fafaff"/><stop offset="0.9812" stop-color="#fefeff"/><stop offset="1.0000" stop-color="#fefeff"/></linearGradient><linearGradient id="h185" gradientUnits="userSpaceOnUse" x1="699.76" x2="1232.19" y1="0" y2="0"><stop offset="0.0000" stop-color="#fdfdff"/><stop offset="0.1579" stop-color="#f9f9ff"/><stop offset="0.3346" stop-color="#fcfcff"/><stop offset="0.5639" stop-color="#fdfdff"/><stop offset="0.7180" stop-color="#fbfbff"/><stop offset="1.0000" stop-color="#ffffff"/></linearGradient><linearGradient id="h186" gradientUnits="userSpaceOnUse" x1="699.76" x2="1232.19" y1="0" y2="0"><stop offset="0.0000" stop-color="#fdfdff"/><stop offset="0.1541" stop-color="#f8f8ff"/><stop offset="0.3383" stop-color="#fcfcff"/><stop offset="0.5752" stop-color="#fdfdff"/><stop offset="0.7368" stop-color="#fcfcff"/><stop offset="1.0000" stop-color="#ffffff"/></linearGradient><linearGradient id="h187" gradientUnits="userSpaceOnUse" x1="699.76" x2="1232.19" y1="0" y2="0"><stop offset="0.0000" stop-color="#fdfdff"/><stop offset="0.1504" stop-color="#f8f8ff"/><stop offset="0.3421" stop-color="#fdfdff"/><stop offset="0.5865" stop-color="#fdfdff"/><stop offset="0.7669" stop-color="#fdfdff"/><stop offset="1.0000" stop-color="#ffffff"/></linearGradient><linearGradient id="h188" gradientUnits="userSpaceOnUse" x1="699.76" x2="1232.19" y1="0" y2="0"><stop offset="0.0000" stop-color="#fdfdff"/><stop offset="0.1504" stop-color="#f7f7ff"/><stop offset="0.3421" stop-color="#fdfdff"/><stop offset="0.6015" stop-color="#fdfdff"/><stop offset="0.8647" stop-color="#fefeff"/><stop offset="1.0000" stop-color="#ffffff"/></linearGradient><linearGradient id="h189" gradientUnits="userSpaceOnUse" x1="699.76" x2="1232.19" y1="0" y2="0"><stop offset="0.0000" stop-color="#fdfdff"/><stop offset="0.1466" stop-color="#f7f7ff"/><stop offset="0.3459" stop-color="#fdfdff"/><stop offset="0.6241" stop-color="#fefeff"/><stop offset="1.0000" stop-color="#ffffff"/></linearGradient><linearGradient id="h190" gradientUnits="userSpaceOnUse" x1="699.76" x2="1232.19" y1="0" y2="0"><stop offset="0.0000" stop-color="#fdfdff"/><stop offset="0.1466" stop-color="#f7f7ff"/><stop offset="0.3459" stop-color="#fefeff"/><stop offset="0.6504" stop-color="#fefeff"/><stop offset="1.0000" stop-color="#ffffff"/></linearGradient><linearGradient id="h191" gradientUnits="userSpaceOnUse" x1="699.76" x2="1232.19" y1="0" y2="0"><stop offset="0.0000" stop-color="#fdfdff"/><stop offset="0.1466" stop-color="#f7f7ff"/><stop offset="0.3496" stop-color="#fefeff"/><stop offset="0.6917" stop-color="#fefeff"/><stop offset="1.0000" stop-color="#ffffff"/></linearGradient><linearGradient id="h192" gradientUnits="userSpaceOnUse" x1="699.76" x2="1232.19" y1="0" y2="0"><stop offset="0.0000" stop-color="#fdfdff"/><stop offset="0.1466" stop-color="#f7f7ff"/><stop offset="0.3496" stop-color="#fefeff"/><stop offset="0.6955" stop-color="#fdfdff"/><stop offset="0.9398" stop-color="#fefeff"/><stop offset="1.0000" stop-color="#ffffff"/></linearGradient><linearGradient id="h193" gradientUnits="userSpaceOnUse" x1="699.76" x2="1232.19" y1="0" y2="0"><stop offset="0.0000" stop-color="#fdfdff"/><stop offset="0.1466" stop-color="#f7f7ff"/><stop offset="0.3534" stop-color="#fefeff"/><stop offset="0.6917" stop-color="#fdfdff"/><stop offset="0.8910" stop-color="#fdfdff"/><stop offset="1.0000" stop-color="#ffffff"/></linearGradient><linearGradient id="h194" gradientUnits="userSpaceOnUse" x1="699.76" x2="1232.19" y1="0" y2="0"><stop offset="0.0000" stop-color="#fdfdff"/><stop offset="0.1504" stop-color="#f8f8ff"/><stop offset="0.3534" stop-color="#fefeff"/><stop offset="0.6729" stop-color="#fdfdff"/><stop offset="0.8609" stop-color="#fcfcff"/><stop offset="1.0000" stop-color="#ffffff"/></linearGradient><linearGradient id="h195" gradientUnits="userSpaceOnUse" x1="699.76" x2="1232.19" y1="0" y2="0"><stop offset="0.0000" stop-color="#fefeff"/><stop offset="0.1504" stop-color="#f8f8ff"/><stop offset="0.3571" stop-color="#fefeff"/><stop offset="0.6579" stop-color="#fdfdff"/><stop offset="0.8459" stop-color="#fbfbff"/><stop offset="1.0000" stop-color="#fefeff"/></linearGradient><linearGradient id="h196" gradientUnits="userSpaceOnUse" x1="699.76" x2="1232.19" y1="0" y2="0"><stop offset="0.0000" stop-color="#fefeff"/><stop offset="0.1541" stop-color="#f9f9ff"/><stop offset="0.3609" stop-color="#ffffff"/><stop offset="0.6391" stop-color="#fdfdff"/><stop offset="0.8308" stop-color="#fafaff"/><stop offset="1.0000" stop-color="#fefeff"/></linearGradient><linearGradient id="h197" gradientUnits="userSpaceOnUse" x1="699.76" x2="1232.19" y1="0" y2="0"><stop offset="0.0000" stop-color="#fefeff"/><stop offset="0.1579" stop-color="#f9f9ff"/><stop offset="0.3647" stop-color="#ffffff"/><stop offset="0.6203" stop-color="#fdfdff"/><stop offset="0.8233" stop-color="#f8f8ff"/><stop offset="1.0000" stop-color="#fefeff"/></linearGradient><linearGradient id="h198" gradientUnits="userSpaceOnUse" x1="699.76" x2="1232.19" y1="0" y2="0"><stop offset="0.0000" stop-color="#fefeff"/><stop offset="0.1617" stop-color="#fafaff"/><stop offset="0.3722" stop-color="#ffffff"/><stop offset="0.6053" stop-color="#fdfdff"/><stop offset="0.8158" stop-color="#f6f6ff"/><stop offset="1.0000" stop-color="#fefeff"/></linearGradient><linearGradient id="h199" gradientUnits="userSpaceOnUse" x1="699.76" x2="1232.19" y1="0" y2="0"><stop offset="0.0000" stop-color="#fefeff"/><stop offset="0.1654" stop-color="#fbfbff"/><stop offset="0.3835" stop-color="#ffffff"/><stop offset="0.5940" stop-color="#fcfcff"/><stop offset="0.8120" stop-color="#f4f4ff"/><stop offset="0.9135" stop-color="#f9f9ff"/><stop offset="1.0000" stop-color="#fefeff"/></linearGradient><linearGradient id="h200" gradientUnits="userSpaceOnUse" x1="699.76" x2="1232.19" y1="0" y2="0"><stop offset="0.0000" stop-color="#fefeff"/><stop offset="0.1729" stop-color="#fbfbff"/><stop offset="0.3985" stop-color="#ffffff"/><stop offset="0.5865" stop-color="#fcfcff"/><stop offset="0.8045" stop-color="#f2f2ff"/><stop offset="0.8872" stop-color="#f6f6ff"/><stop offset="1.0000" stop-color="#fefeff"/></linearGradient><linearGradient id="h201" gradientUnits="userSpaceOnUse" x1="699.76" x2="1232.19" y1="0" y2="0"><stop offset="0.0000" stop-color="#fefeff"/><stop offset="0.1842" stop-color="#fcfcff"/><stop offset="0.4173" stop-color="#ffffff"/><stop offset="0.5865" stop-color="#fcfcff"/><stop offset="0.8008" stop-color="#f0f0ff"/><stop offset="0.8722" stop-color="#f3f3ff"/><stop offset="0.9925" stop-color="#fdfdff"/><stop offset="1.0000" stop-color="#fdfdff"/></linearGradient><linearGradient id="h202" gradientUnits="userSpaceOnUse" x1="699.76" x2="1232.19" y1="0" y2="0"><stop offset="0.0000" stop-color="#fefeff"/><stop offset="0.1917" stop-color="#fdfdff"/><stop offset="0.4398" stop-color="#ffffff"/><stop offset="0.5902" stop-color="#fbfbff"/><stop offset="0.7932" stop-color="#eeeeff"/><stop offset="0.8571" stop-color="#f0f0ff"/><stop offset="0.9887" stop-color="#fdfdff"/><stop offset="1.0000" stop-color="#fdfdff"/></linearGradient><linearGradient id="h203" gradientUnits="userSpaceOnUse" x1="699.76" x2="1232.19" y1="0" y2="0"><stop offset="0.0000" stop-color="#ffffff"/><stop offset="0.2068" stop-color="#fdfdff"/><stop offset="0.4624" stop-color="#fefeff"/><stop offset="0.6015" stop-color="#f9f9ff"/><stop offset="0.7895" stop-color="#ececff"/><stop offset="0.8496" stop-color="#eeeeff"/><stop offset="0.9850" stop-color="#fcfcff"/><stop offset="1.0000" stop-color="#fdfdff"/></linearGradient><linearGradient id="h204" gradientUnits="userSpaceOnUse" x1="699.76" x2="1232.19" y1="0" y2="0"><stop offset="0.0000" stop-color="#ffffff"/><stop offset="0.2293" stop-color="#fefeff"/><stop offset="0.4812" stop-color="#fefeff"/><stop offset="0.6128" stop-color="#f8f8ff"/><stop offset="0.7857" stop-color="#eaeaff"/><stop offset="0.8421" stop-color="#ebebff"/><stop offset="0.9812" stop-color="#fbfbff"/><stop offset="1.0000" stop-color="#fdfdff"/></linearGradient><linearGradient id="h205" gradientUnits="userSpaceOnUse" x1="699.76" x2="1232.19" y1="0" y2="0"><stop offset="0.0000" stop-color="#ffffff"/><stop offset="0.2669" stop-color="#ffffff"/><stop offset="0.4925" stop-color="#fefeff"/><stop offset="0.6203" stop-color="#f6f6ff"/><stop offset="0.7820" stop-color="#e8e8ff"/><stop offset="0.8383" stop-color="#e9e9ff"/><stop offset="0.9812" stop-color="#fbfbff"/><stop offset="1.0000" stop-color="#fcfcff"/></linearGradient><linearGradient id="h206" gradientUnits="userSpaceOnUse" x1="699.76" x2="1232.19" y1="0" y2="0"><stop offset="0.0000" stop-color="#ffffff"/><stop offset="0.4812" stop-color="#fefeff"/><stop offset="0.5977" stop-color="#f7f7ff"/><stop offset="0.7782" stop-color="#e6e6ff"/><stop offset="0.8308" stop-color="#e7e7ff"/><stop offset="0.9060" stop-color="#f1f1ff"/><stop offset="0.9850" stop-color="#fbfbff"/><stop offset="1.0000" stop-color="#fcfcff"/></linearGradient><linearGradient id="h207" gradientUnits="userSpaceOnUse" x1="699.76" x2="1232.19" y1="0" y2="0"><stop offset="0.0000" stop-color="#ffffff"/><stop offset="0.4774" stop-color="#fefeff"/><stop offset="0.5865" stop-color="#f7f7ff"/><stop offset="0.7744" stop-color="#e5e5ff"/><stop offset="0.8271" stop-color="#e5e5ff"/><stop offset="0.8947" stop-color="#efefff"/><stop offset="0.9774" stop-color="#fafaff"/><stop offset="1.0000" stop-color="#fcfcff"/></linearGradient><linearGradient id="h208" gradientUnits="userSpaceOnUse" x1="699.76" x2="1232.19" y1="0" y2="0"><stop offset="0.0000" stop-color="#ffffff"/><stop offset="0.4774" stop-color="#fefeff"/><stop offset="0.5827" stop-color="#f7f7ff"/><stop offset="0.7707" stop-color="#e4e4ff"/><stop offset="0.8233" stop-color="#e4e4ff"/><stop offset="0.8872" stop-color="#ededff"/><stop offset="0.9737" stop-color="#fafaff"/><stop offset="1.0000" stop-color="#fcfcff"/></linearGradient><linearGradient id="h209" gradientUnits="userSpaceOnUse" x1="699.76" x2="1232.19" y1="0" y2="0"><stop offset="0.0000" stop-color="#ffffff"/><stop offset="0.4774" stop-color="#fefeff"/><stop offset="0.5789" stop-color="#f7f7ff"/><stop offset="0.7669" stop-color="#e3e3ff"/><stop offset="0.8195" stop-color="#e3e3ff"/><stop offset="0.8797" stop-color="#ebebff"/><stop offset="0.9699" stop-color="#f9f9ff"/><stop offset="1.0000" stop-color="#fcfcff"/></linearGradient><linearGradient id="h210" gradientUnits="userSpaceOnUse" x1="699.76" x2="1232.19" y1="0" y2="0"><stop offset="0.0000" stop-color="#ffffff"/><stop offset="0.4774" stop-color="#fefeff"/><stop offset="0.5789" stop-color="#f7f7ff"/><stop offset="0.7632" stop-color="#e3e3ff"/><stop offset="0.8158" stop-color="#e3e3ff"/><stop offset="0.8759" stop-color="#ebebff"/><stop offset="0.9699" stop-color="#fafaff"/><stop offset="1.0000" stop-color="#fcfcff"/></linearGradient><linearGradient id="h211" gradientUnits="userSpaceOnUse" x1="699.76" x2="1232.19" y1="0" y2="0"><stop offset="0.0000" stop-color="#ffffff"/><stop offset="0.4774" stop-color="#fefeff"/><stop offset="0.5752" stop-color="#f7f7ff"/><stop offset="0.7594" stop-color="#e4e4ff"/><stop offset="0.8158" stop-color="#e4e4ff"/><stop offset="0.8797" stop-color="#ececff"/><stop offset="0.9699" stop-color="#fafaff"/><stop offset="1.0000" stop-color="#fcfcff"/></linearGradient><linearGradient id="h212" gradientUnits="userSpaceOnUse" x1="699.76" x2="1232.19" y1="0" y2="0"><stop offset="0.0000" stop-color="#ffffff"/><stop offset="0.4812" stop-color="#fdfdff"/><stop offset="0.5789" stop-color="#f7f7ff"/><stop offset="0.7556" stop-color="#e4e4ff"/><stop offset="0.8120" stop-color="#e4e4ff"/><stop offset="0.8759" stop-color="#ececff"/><stop offset="0.9699" stop-color="#fafaff"/><stop offset="1.0000" stop-color="#fcfcff"/></linearGradient><linearGradient id="h213" gradientUnits="userSpaceOnUse" x1="699.76" x2="1232.19" y1="0" y2="0"><stop offset="0.0000" stop-color="#ffffff"/><stop offset="0.4850" stop-color="#fdfdff"/><stop offset="0.5865" stop-color="#f6f6ff"/><stop offset="0.7519" stop-color="#e5e5ff"/><stop offset="0.8120" stop-color="#e5e5ff"/><stop offset="0.8797" stop-color="#ededff"/><stop offset="0.9699" stop-color="#fafaff"/><stop offset="1.0000" stop-color="#fcfcff"/></linearGradient><linearGradient id="h214" gradientUnits="userSpaceOnUse" x1="699.76" x2="1232.19" y1="0" y2="0"><stop offset="0.0000" stop-color="#ffffff"/><stop offset="0.4887" stop-color="#fdfdff"/><stop offset="0.5902" stop-color="#f6f6ff"/><stop offset="0.7481" stop-color="#e7e7ff"/><stop offset="0.8083" stop-color="#e7e7ff"/><stop offset="0.8797" stop-color="#efefff"/><stop offset="0.9737" stop-color="#fbfbff"/><stop offset="1.0000" stop-color="#fdfdff"/></linearGradient><linearGradient id="h215" gradientUnits="userSpaceOnUse" x1="699.76" x2="1232.19" y1="0" y2="0"><stop offset="0.0000" stop-color="#ffffff"/><stop offset="0.4962" stop-color="#fdfdff"/><stop offset="0.6053" stop-color="#f5f5ff"/><stop offset="0.7481" stop-color="#e8e8ff"/><stop offset="0.8120" stop-color="#e9e9ff"/><stop offset="0.8947" stop-color="#f2f2ff"/><stop offset="0.9812" stop-color="#fcfcff"/><stop offset="1.0000" stop-color="#fdfdff"/></linearGradient><linearGradient id="h216" gradientUnits="userSpaceOnUse" x1="699.76" x2="1232.19" y1="0" y2="0"><stop offset="0.0000" stop-color="#ffffff"/><stop offset="0.3985" stop-color="#fefeff"/><stop offset="0.5188" stop-color="#fcfcff"/><stop offset="0.6579" stop-color="#f1f1ff"/><stop offset="0.7594" stop-color="#eaeaff"/><stop offset="0.8233" stop-color="#ebebff"/><stop offset="0.9774" stop-color="#fcfcff"/><stop offset="1.0000" stop-color="#fdfdff"/></linearGradient><linearGradient id="h217" gradientUnits="userSpaceOnUse" x1="699.76" x2="1232.19" y1="0" y2="0"><stop offset="0.0000" stop-color="#ffffff"/><stop offset="0.3759" stop-color="#fdfdff"/><stop offset="0.5075" stop-color="#fdfdff"/><stop offset="0.6316" stop-color="#f4f4ff"/><stop offset="0.7481" stop-color="#ececff"/><stop offset="0.8158" stop-color="#ededff"/><stop offset="0.9774" stop-color="#fcfcff"/><stop offset="1.0000" stop-color="#fdfdff"/></linearGradient><linearGradient id="h218" gradientUnits="userSpaceOnUse" x1="699.76" x2="1232.19" y1="0" y2="0"><stop offset="0.0000" stop-color="#ffffff"/><stop offset="0.3647" stop-color="#fdfdff"/><stop offset="0.5038" stop-color="#fdfdff"/><stop offset="0.6316" stop-color="#f5f5ff"/><stop offset="0.7519" stop-color="#eeeeff"/><stop offset="0.8233" stop-color="#efefff"/><stop offset="0.9774" stop-color="#fcfcff"/><stop offset="1.0000" stop-color="#fdfdff"/></linearGradient><linearGradient id="h219" gradientUnits="userSpaceOnUse" x1="699.76" x2="1232.19" y1="0" y2="0"><stop offset="0.0000" stop-color="#ffffff"/><stop offset="0.2368" stop-color="#fdfdff"/><stop offset="0.3722" stop-color="#fdfdff"/><stop offset="0.5075" stop-color="#fdfdff"/><stop offset="0.6429" stop-color="#f6f6ff"/><stop offset="0.7556" stop-color="#efefff"/><stop offset="0.8346" stop-color="#f2f2ff"/><stop offset="0.9774" stop-color="#fcfcff"/><stop offset="1.0000" stop-color="#fdfdff"/></linearGradient><linearGradient id="h220" gradientUnits="userSpaceOnUse" x1="699.76" x2="1232.19" y1="0" y2="0"><stop offset="0.0000" stop-color="#ffffff"/><stop offset="0.2180" stop-color="#fdfdff"/><stop offset="0.3459" stop-color="#fcfcff"/><stop offset="0.5000" stop-color="#fefeff"/><stop offset="0.6316" stop-color="#f7f7ff"/><stop offset="0.7519" stop-color="#f1f1ff"/><stop offset="0.8346" stop-color="#f3f3ff"/><stop offset="0.9812" stop-color="#fdfdff"/><stop offset="1.0000" stop-color="#fdfdff"/></linearGradient><linearGradient id="h221" gradientUnits="userSpaceOnUse" x1="699.76" x2="1232.19" y1="0" y2="0"><stop offset="0.0000" stop-color="#ffffff"/><stop offset="0.2068" stop-color="#fdfdff"/><stop offset="0.3346" stop-color="#fbfbff"/><stop offset="0.5000" stop-color="#fefeff"/><stop offset="0.6353" stop-color="#f8f8ff"/><stop offset="0.7556" stop-color="#f3f3ff"/><stop offset="0.8496" stop-color="#f6f6ff"/><stop offset="0.9925" stop-color="#fdfdff"/><stop offset="1.0000" stop-color="#fdfdff"/></linearGradient><linearGradient id="h222" gradientUnits="userSpaceOnUse" x1="699.76" x2="1232.19" y1="0" y2="0"><stop offset="0.0000" stop-color="#ffffff"/><stop offset="0.1955" stop-color="#fdfdff"/><stop offset="0.3271" stop-color="#fafaff"/><stop offset="0.5000" stop-color="#fefeff"/><stop offset="0.6353" stop-color="#f9f9ff"/><stop offset="0.7594" stop-color="#f4f4ff"/><stop offset="0.8647" stop-color="#f8f8ff"/><stop offset="1.0000" stop-color="#fdfdff"/></linearGradient><linearGradient id="h223" gradientUnits="userSpaceOnUse" x1="699.76" x2="1232.19" y1="0" y2="0"><stop offset="0.0000" stop-color="#ffffff"/><stop offset="0.1880" stop-color="#fdfdff"/><stop offset="0.3195" stop-color="#f9f9ff"/><stop offset="0.5038" stop-color="#fefeff"/><stop offset="0.6429" stop-color="#f9f9ff"/><stop offset="0.7594" stop-color="#f4f4ff"/><stop offset="0.8835" stop-color="#f9f9ff"/><stop offset="1.0000" stop-color="#fdfdff"/></linearGradient><linearGradient id="h224" gradientUnits="userSpaceOnUse" x1="699.76" x2="1232.19" y1="0" y2="0"><stop offset="0.0000" stop-color="#ffffff"/><stop offset="0.1842" stop-color="#fdfdff"/><stop offset="0.3158" stop-color="#f9f9ff"/><stop offset="0.5038" stop-color="#fefeff"/><stop offset="0.6391" stop-color="#fafaff"/><stop offset="0.7594" stop-color="#f5f5ff"/><stop offset="1.0000" stop-color="#fcfcff"/></linearGradient><linearGradient id="h225" gradientUnits="userSpaceOnUse" x1="699.76" x2="1232.19" y1="0" y2="0"><stop offset="0.0000" stop-color="#ffffff"/><stop offset="0.1805" stop-color="#fdfdff"/><stop offset="0.3120" stop-color="#f8f8ff"/><stop offset="0.5038" stop-color="#fefeff"/><stop offset="0.6353" stop-color="#fafaff"/><stop offset="0.7594" stop-color="#f5f5ff"/><stop offset="1.0000" stop-color="#fcfcff"/></linearGradient><linearGradient id="h226" gradientUnits="userSpaceOnUse" x1="699.76" x2="1232.19" y1="0" y2="0"><stop offset="0.0000" stop-color="#ffffff"/><stop offset="0.1767" stop-color="#fdfdff"/><stop offset="0.3083" stop-color="#f8f8ff"/><stop offset="0.5038" stop-color="#fefeff"/><stop offset="0.6316" stop-color="#fbfbff"/><stop offset="0.7594" stop-color="#f5f5ff"/><stop offset="0.9925" stop-color="#fbfbff"/><stop offset="1.0000" stop-color="#fbfbff"/></linearGradient><linearGradient id="h227" gradientUnits="userSpaceOnUse" x1="699.76" x2="1232.19" y1="0" y2="0"><stop offset="0.0000" stop-color="#ffffff"/><stop offset="0.1729" stop-color="#fdfdff"/><stop offset="0.3083" stop-color="#f7f7ff"/><stop offset="0.5038" stop-color="#fefeff"/><stop offset="0.6278" stop-color="#fbfbff"/><stop offset="0.7556" stop-color="#f5f5ff"/><stop offset="0.9812" stop-color="#fafaff"/><stop offset="1.0000" stop-color="#fbfbff"/></linearGradient><linearGradient id="h228" gradientUnits="userSpaceOnUse" x1="699.76" x2="1232.19" y1="0" y2="0"><stop offset="0.0000" stop-color="#ffffff"/><stop offset="0.1729" stop-color="#fdfdff"/><stop offset="0.3083" stop-color="#f7f7ff"/><stop offset="0.5038" stop-color="#fefeff"/><stop offset="0.6203" stop-color="#fbfbff"/><stop offset="0.7556" stop-color="#f4f4ff"/><stop offset="0.9624" stop-color="#fafaff"/><stop offset="1.0000" stop-color="#fafaff"/></linearGradient><linearGradient id="h229" gradientUnits="userSpaceOnUse" x1="699.76" x2="1232.19" y1="0" y2="0"><stop offset="0.0000" stop-color="#ffffff"/><stop offset="0.1692" stop-color="#fdfdff"/><stop offset="0.3083" stop-color="#f7f7ff"/><stop offset="0.5038" stop-color="#fefeff"/><stop offset="0.6203" stop-color="#fbfbff"/><stop offset="0.7519" stop-color="#f3f3ff"/><stop offset="0.8459" stop-color="#f6f6ff"/><stop offset="1.0000" stop-color="#fafaff"/></linearGradient><linearGradient id="h230" gradientUnits="userSpaceOnUse" x1="699.76" x2="1232.19" y1="0" y2="0"><stop offset="0.0000" stop-color="#ffffff"/><stop offset="0.1729" stop-color="#fdfdff"/><stop offset="0.3083" stop-color="#f7f7ff"/><stop offset="0.5000" stop-color="#fefeff"/><stop offset="0.6128" stop-color="#fbfbff"/><stop offset="0.7519" stop-color="#f2f2ff"/><stop offset="0.8421" stop-color="#f5f5ff"/><stop offset="0.9586" stop-color="#f8f8ff"/><stop offset="1.0000" stop-color="#f9f9ff"/></linearGradient><linearGradient id="h231" gradientUnits="userSpaceOnUse" x1="699.76" x2="1232.19" y1="0" y2="0"><stop offset="0.0000" stop-color="#ffffff"/><stop offset="0.1729" stop-color="#fdfdff"/><stop offset="0.3083" stop-color="#f7f7ff"/><stop offset="0.5000" stop-color="#fefeff"/><stop offset="0.6090" stop-color="#fbfbff"/><stop offset="0.7481" stop-color="#f1f1ff"/><stop offset="0.8271" stop-color="#f3f3ff"/><stop offset="0.9323" stop-color="#f7f7ff"/><stop offset="1.0000" stop-color="#f8f8ff"/></linearGradient><linearGradient id="h232" gradientUnits="userSpaceOnUse" x1="699.76" x2="1232.19" y1="0" y2="0"><stop offset="0.0000" stop-color="#ffffff"/><stop offset="0.1767" stop-color="#fdfdff"/><stop offset="0.3083" stop-color="#f8f8ff"/><stop offset="0.5000" stop-color="#fefeff"/><stop offset="0.6053" stop-color="#fbfbff"/><stop offset="0.7444" stop-color="#f0f0ff"/><stop offset="0.8195" stop-color="#f2f2ff"/><stop offset="0.9248" stop-color="#f7f7ff"/><stop offset="1.0000" stop-color="#f8f8ff"/></linearGradient><linearGradient id="h233" gradientUnits="userSpaceOnUse" x1="699.76" x2="1232.19" y1="0" y2="0"><stop offset="0.0000" stop-color="#ffffff"/><stop offset="0.1767" stop-color="#fdfdff"/><stop offset="0.3120" stop-color="#f8f8ff"/><stop offset="0.5000" stop-color="#fefeff"/><stop offset="0.6053" stop-color="#fafaff"/><stop offset="0.7444" stop-color="#efefff"/><stop offset="0.8158" stop-color="#f1f1ff"/><stop offset="0.9211" stop-color="#f6f6ff"/><stop offset="1.0000" stop-color="#f7f7ff"/></linearGradient><linearGradient id="h234" gradientUnits="userSpaceOnUse" x1="699.76" x2="1232.19" y1="0" y2="0"><stop offset="0.0000" stop-color="#ffffff"/><stop offset="0.1842" stop-color="#fdfdff"/><stop offset="0.3158" stop-color="#f9f9ff"/><stop offset="0.4962" stop-color="#fefeff"/><stop offset="0.6015" stop-color="#fafaff"/><stop offset="0.7406" stop-color="#efefff"/><stop offset="0.8083" stop-color="#f0f0ff"/><stop offset="0.9135" stop-color="#f6f6ff"/><stop offset="1.0000" stop-color="#f7f7ff"/></linearGradient><linearGradient id="h235" gradientUnits="userSpaceOnUse" x1="699.76" x2="1232.19" y1="0" y2="0"><stop offset="0.0000" stop-color="#ffffff"/><stop offset="0.1880" stop-color="#fdfdff"/><stop offset="0.3195" stop-color="#f9f9ff"/><stop offset="0.4962" stop-color="#fefeff"/><stop offset="0.6015" stop-color="#f9f9ff"/><stop offset="0.7368" stop-color="#eeeeff"/><stop offset="0.8045" stop-color="#f0f0ff"/><stop offset="0.9135" stop-color="#f6f6ff"/><stop offset="1.0000" stop-color="#f7f7ff"/></linearGradient><linearGradient id="h236" gradientUnits="userSpaceOnUse" x1="699.76" x2="1232.19" y1="0" y2="0"><stop offset="0.0000" stop-color="#ffffff"/><stop offset="0.1955" stop-color="#fdfdff"/><stop offset="0.3233" stop-color="#fafaff"/><stop offset="0.4962" stop-color="#fefeff"/><stop offset="0.6015" stop-color="#f9f9ff"/><stop offset="0.7368" stop-color="#eeeeff"/><stop offset="0.8045" stop-color="#efefff"/><stop offset="0.9135" stop-color="#f6f6ff"/><stop offset="1.0000" stop-color="#f7f7ff"/></linearGradient><linearGradient id="h237" gradientUnits="userSpaceOnUse" x1="699.76" x2="1232.19" y1="0" y2="0"><stop offset="0.0000" stop-color="#ffffff"/><stop offset="0.2030" stop-color="#fdfdff"/><stop offset="0.3308" stop-color="#fbfbff"/><stop offset="0.4962" stop-color="#fefeff"/><stop offset="0.6015" stop-color="#f8f8ff"/><stop offset="0.7331" stop-color="#eeeeff"/><stop offset="0.8008" stop-color="#efefff"/><stop offset="0.9098" stop-color="#f6f6ff"/><stop offset="1.0000" stop-color="#f7f7ff"/></linearGradient><linearGradient id="h238" gradientUnits="userSpaceOnUse" x1="699.76" x2="1232.19" y1="0" y2="0"><stop offset="0.0000" stop-color="#ffffff"/><stop offset="0.2180" stop-color="#fdfdff"/><stop offset="0.3459" stop-color="#fbfbff"/><stop offset="0.4962" stop-color="#fdfdff"/><stop offset="0.6053" stop-color="#f7f7ff"/><stop offset="0.7293" stop-color="#eeeeff"/><stop offset="0.8008" stop-color="#f0f0ff"/><stop offset="0.9098" stop-color="#f6f6ff"/><stop offset="1.0000" stop-color="#f7f7ff"/></linearGradient><linearGradient id="h239" gradientUnits="userSpaceOnUse" x1="699.76" x2="1232.19" y1="0" y2="0"><stop offset="0.0000" stop-color="#ffffff"/><stop offset="0.2331" stop-color="#fdfdff"/><stop offset="0.3684" stop-color="#fcfcff"/><stop offset="0.5000" stop-color="#fdfdff"/><stop offset="0.6128" stop-color="#f6f6ff"/><stop offset="0.7256" stop-color="#efefff"/><stop offset="0.8008" stop-color="#f0f0ff"/><stop offset="0.9098" stop-color="#f6f6ff"/><stop offset="1.0000" stop-color="#f7f7ff"/></linearGradient><linearGradient id="h240" gradientUnits="userSpaceOnUse" x1="699.76" x2="1232.19" y1="0" y2="0"><stop offset="0.0000" stop-color="#ffffff"/><stop offset="0.2669" stop-color="#fdfdff"/><stop offset="0.5000" stop-color="#fdfdff"/><stop offset="0.6241" stop-color="#f5f5ff"/><stop offset="0.7256" stop-color="#efefff"/><stop offset="0.8045" stop-color="#f1f1ff"/><stop offset="0.9135" stop-color="#f7f7ff"/><stop offset="1.0000" stop-color="#f8f8ff"/></linearGradient><linearGradient id="h241" gradientUnits="userSpaceOnUse" x1="699.76" x2="1232.19" y1="0" y2="0"><stop offset="0.0000" stop-color="#ffffff"/><stop offset="0.3759" stop-color="#fdfdff"/><stop offset="0.5038" stop-color="#fdfdff"/><stop offset="0.7105" stop-color="#f0f0ff"/><stop offset="0.7932" stop-color="#f2f2ff"/><stop offset="0.9098" stop-color="#f8f8ff"/><stop offset="1.0000" stop-color="#f9f9ff"/></linearGradient><linearGradient id="h242" gradientUnits="userSpaceOnUse" x1="699.76" x2="1232.19" y1="0" y2="0"><stop offset="0.0000" stop-color="#ffffff"/><stop offset="0.3947" stop-color="#fefeff"/><stop offset="0.5150" stop-color="#fcfcff"/><stop offset="0.6955" stop-color="#f1f1ff"/><stop offset="0.7820" stop-color="#f2f2ff"/><stop offset="0.9098" stop-color="#f8f8ff"/><stop offset="1.0000" stop-color="#f9f9ff"/></linearGradient><linearGradient id="h243" gradientUnits="userSpaceOnUse" x1="699.76" x2="1232.19" y1="0" y2="0"><stop offset="0.0000" stop-color="#ffffff"/><stop offset="0.4962" stop-color="#fdfdff"/><stop offset="0.6880" stop-color="#f2f2ff"/><stop offset="0.7782" stop-color="#f3f3ff"/><stop offset="0.9098" stop-color="#f9f9ff"/><stop offset="1.0000" stop-color="#fafaff"/></linearGradient><linearGradient id="h244" gradientUnits="userSpaceOnUse" x1="699.76" x2="1232.19" y1="0" y2="0"><stop offset="0.0000" stop-color="#ffffff"/><stop offset="0.4925" stop-color="#fdfdff"/><stop offset="0.6805" stop-color="#f3f3ff"/><stop offset="0.7782" stop-color="#f4f4ff"/><stop offset="0.9135" stop-color="#fafaff"/><stop offset="1.0000" stop-color="#fbfbff"/></linearGradient><linearGradient id="h245" gradientUnits="userSpaceOnUse" x1="699.76" x2="1232.19" y1="0" y2="0"><stop offset="0.0000" stop-color="#ffffff"/><stop offset="0.4887" stop-color="#fdfdff"/><stop offset="0.6729" stop-color="#f3f3ff"/><stop offset="0.7782" stop-color="#f6f6ff"/><stop offset="0.9135" stop-color="#fbfbff"/><stop offset="1.0000" stop-color="#fbfbff"/></linearGradient><linearGradient id="h246" gradientUnits="userSpaceOnUse" x1="699.76" x2="1232.19" y1="0" y2="0"><stop offset="0.0000" stop-color="#ffffff"/><stop offset="0.4887" stop-color="#fdfdff"/><stop offset="0.6692" stop-color="#f4f4ff"/><stop offset="0.7820" stop-color="#f7f7ff"/><stop offset="0.9211" stop-color="#fbfbff"/><stop offset="1.0000" stop-color="#fcfcff"/></linearGradient><linearGradient id="h247" gradientUnits="userSpaceOnUse" x1="699.76" x2="1232.19" y1="0" y2="0"><stop offset="0.0000" stop-color="#ffffff"/><stop offset="0.4850" stop-color="#fefeff"/><stop offset="0.6654" stop-color="#f5f5ff"/><stop offset="0.7932" stop-color="#f9f9ff"/><stop offset="0.9323" stop-color="#fcfcff"/><stop offset="1.0000" stop-color="#fcfcff"/></linearGradient><linearGradient id="h248" gradientUnits="userSpaceOnUse" x1="699.76" x2="1232.19" y1="0" y2="0"><stop offset="0.0000" stop-color="#ffffff"/><stop offset="0.4850" stop-color="#fefeff"/><stop offset="0.6654" stop-color="#f6f6ff"/><stop offset="0.9211" stop-color="#fdfdff"/><stop offset="1.0000" stop-color="#fdfdff"/></linearGradient><linearGradient id="h249" gradientUnits="userSpaceOnUse" x1="699.76" x2="1232.19" y1="0" y2="0"><stop offset="0.0000" stop-color="#ffffff"/><stop offset="0.4850" stop-color="#fefeff"/><stop offset="0.6617" stop-color="#f7f7ff"/><stop offset="0.9211" stop-color="#fdfdff"/><stop offset="1.0000" stop-color="#fdfdff"/></linearGradient><linearGradient id="h250" gradientUnits="userSpaceOnUse" x1="699.76" x2="1232.19" y1="0" y2="0"><stop offset="0.0000" stop-color="#ffffff"/><stop offset="0.4887" stop-color="#fefeff"/><stop offset="0.6617" stop-color="#f8f8ff"/><stop offset="0.9173" stop-color="#fdfdff"/><stop offset="1.0000" stop-color="#fefeff"/></linearGradient><linearGradient id="h251" gradientUnits="userSpaceOnUse" x1="699.76" x2="1232.19" y1="0" y2="0"><stop offset="0.0000" stop-color="#fefeff"/><stop offset="0.4887" stop-color="#fefeff"/><stop offset="0.6654" stop-color="#f9f9ff"/><stop offset="0.9173" stop-color="#fefeff"/><stop offset="1.0000" stop-color="#fefeff"/></linearGradient><linearGradient id="h252" gradientUnits="userSpaceOnUse" x1="699.76" x2="1232.19" y1="0" y2="0"><stop offset="0.0000" stop-color="#fefeff"/><stop offset="0.4887" stop-color="#fefeff"/><stop offset="0.6654" stop-color="#f9f9ff"/><stop offset="0.9173" stop-color="#fefeff"/><stop offset="1.0000" stop-color="#fefeff"/></linearGradient><linearGradient id="h253" gradientUnits="userSpaceOnUse" x1="699.76" x2="1232.19" y1="0" y2="0"><stop offset="0.0000" stop-color="#fefeff"/><stop offset="0.4887" stop-color="#fefeff"/><stop offset="0.6692" stop-color="#fafaff"/><stop offset="0.9211" stop-color="#fefeff"/><stop offset="1.0000" stop-color="#fefeff"/></linearGradient><linearGradient id="h254" gradientUnits="userSpaceOnUse" x1="699.76" x2="1232.19" y1="0" y2="0"><stop offset="0.0000" stop-color="#fefeff"/><stop offset="0.4812" stop-color="#fefeff"/><stop offset="0.6767" stop-color="#fbfbff"/><stop offset="0.9323" stop-color="#ffffff"/><stop offset="1.0000" stop-color="#ffffff"/></linearGradient><linearGradient id="h255" gradientUnits="userSpaceOnUse" x1="699.76" x2="1232.19" y1="0" y2="0"><stop offset="0.0000" stop-color="#fdfdff"/><stop offset="0.4662" stop-color="#ffffff"/><stop offset="0.6842" stop-color="#fcfcff"/><stop offset="0.9549" stop-color="#ffffff"/><stop offset="1.0000" stop-color="#ffffff"/></linearGradient><linearGradient id="h256" gradientUnits="userSpaceOnUse" x1="699.76" x2="1232.19" y1="0" y2="0"><stop offset="0.0000" stop-color="#fdfdff"/><stop offset="0.4361" stop-color="#ffffff"/><stop offset="0.6955" stop-color="#fdfdff"/><stop offset="1.0000" stop-color="#ffffff"/></linearGradient><linearGradient id="h257" gradientUnits="userSpaceOnUse" x1="699.76" x2="1232.19" y1="0" y2="0"><stop offset="0.0000" stop-color="#fcfcff"/><stop offset="0.1617" stop-color="#fefeff"/><stop offset="0.5113" stop-color="#fefeff"/><stop offset="0.7105" stop-color="#fdfdff"/><stop offset="1.0000" stop-color="#ffffff"/></linearGradient><linearGradient id="h258" gradientUnits="userSpaceOnUse" x1="699.76" x2="1232.19" y1="0" y2="0"><stop offset="0.0000" stop-color="#fcfcff"/><stop offset="0.1316" stop-color="#fdfdff"/><stop offset="0.3609" stop-color="#ffffff"/><stop offset="0.7293" stop-color="#fefeff"/><stop offset="1.0000" stop-color="#ffffff"/></linearGradient><linearGradient id="h259" gradientUnits="userSpaceOnUse" x1="699.76" x2="1232.19" y1="0" y2="0"><stop offset="0.0000" stop-color="#fbfbff"/><stop offset="0.1165" stop-color="#fcfcff"/><stop offset="0.3045" stop-color="#ffffff"/><stop offset="0.7594" stop-color="#fefeff"/><stop offset="1.0000" stop-color="#ffffff"/></linearGradient><linearGradient id="h260" gradientUnits="userSpaceOnUse" x1="699.76" x2="1232.19" y1="0" y2="0"><stop offset="0.0000" stop-color="#fbfbff"/><stop offset="0.1053" stop-color="#fbfbff"/><stop offset="0.2782" stop-color="#ffffff"/><stop offset="0.8346" stop-color="#ffffff"/><stop offset="1.0000" stop-color="#ffffff"/></linearGradient><linearGradient id="h261" gradientUnits="userSpaceOnUse" x1="699.76" x2="1232.19" y1="0" y2="0"><stop offset="0.0000" stop-color="#fafaff"/><stop offset="0.0977" stop-color="#fafaff"/><stop offset="0.2632" stop-color="#ffffff"/><stop offset="1.0000" stop-color="#ffffff"/></linearGradient><linearGradient id="h262" gradientUnits="userSpaceOnUse" x1="699.76" x2="1232.19" y1="0" y2="0"><stop offset="0.0000" stop-color="#fafaff"/><stop offset="0.0940" stop-color="#fafaff"/><stop offset="0.2519" stop-color="#ffffff"/><stop offset="1.0000" stop-color="#ffffff"/></linearGradient><linearGradient id="h263" gradientUnits="userSpaceOnUse" x1="699.76" x2="1232.19" y1="0" y2="0"><stop offset="0.0000" stop-color="#f9f9ff"/><stop offset="0.0865" stop-color="#f9f9ff"/><stop offset="0.2444" stop-color="#ffffff"/><stop offset="1.0000" stop-color="#ffffff"/></linearGradient><linearGradient id="h264" gradientUnits="userSpaceOnUse" x1="699.76" x2="1232.19" y1="0" y2="0"><stop offset="0.0000" stop-color="#f9f9ff"/><stop offset="0.0827" stop-color="#f9f9ff"/><stop offset="0.2406" stop-color="#ffffff"/><stop offset="1.0000" stop-color="#ffffff"/></linearGradient><linearGradient id="h265" gradientUnits="userSpaceOnUse" x1="699.76" x2="1232.19" y1="0" y2="0"><stop offset="0.0000" stop-color="#f8f8ff"/><stop offset="0.0827" stop-color="#f8f8ff"/><stop offset="0.2406" stop-color="#ffffff"/><stop offset="1.0000" stop-color="#ffffff"/></linearGradient><linearGradient id="h266" gradientUnits="userSpaceOnUse" x1="699.76" x2="1232.19" y1="0" y2="0"><stop offset="0.0000" stop-color="#f8f8ff"/><stop offset="0.0789" stop-color="#f8f8ff"/><stop offset="0.2368" stop-color="#fefeff"/><stop offset="1.0000" stop-color="#ffffff"/></linearGradient><linearGradient id="h267" gradientUnits="userSpaceOnUse" x1="699.76" x2="1232.19" y1="0" y2="0"><stop offset="0.0000" stop-color="#f8f8ff"/><stop offset="0.0789" stop-color="#f8f8ff"/><stop offset="0.2368" stop-color="#fefeff"/><stop offset="1.0000" stop-color="#ffffff"/></linearGradient><linearGradient id="h268" gradientUnits="userSpaceOnUse" x1="699.76" x2="1232.19" y1="0" y2="0"><stop offset="0.0000" stop-color="#f8f8ff"/><stop offset="0.0789" stop-color="#f8f8ff"/><stop offset="0.2368" stop-color="#fefeff"/><stop offset="1.0000" stop-color="#ffffff"/></linearGradient><linearGradient id="h269" gradientUnits="userSpaceOnUse" x1="699.76" x2="1232.19" y1="0" y2="0"><stop offset="0.0000" stop-color="#f8f8ff"/><stop offset="0.0827" stop-color="#f8f8ff"/><stop offset="0.2368" stop-color="#fefeff"/><stop offset="1.0000" stop-color="#ffffff"/></linearGradient><linearGradient id="h270" gradientUnits="userSpaceOnUse" x1="699.76" x2="1232.19" y1="0" y2="0"><stop offset="0.0000" stop-color="#f8f8ff"/><stop offset="0.0827" stop-color="#f8f8ff"/><stop offset="0.2406" stop-color="#ffffff"/><stop offset="1.0000" stop-color="#ffffff"/></linearGradient><clipPath id="hc"><rect x="699.76" y="47.81" width="532.4300000000001" height="532.4300000000001"/></clipPath><filter id="hb" filterUnits="userSpaceOnUse" x="679.76" y="27.810000000000002" width="572.4300000000001" height="572.4300000000001" color-interpolation-filters="sRGB"><feGaussianBlur stdDeviation="0 1"/></filter></defs><g clip-path="url(#hc)"><g filter="url(#hb)" shape-rendering="crispEdges"><rect x="693.76" y="43.81" width="544.4300000000001" height="2.5" fill="url(#h0)"/><rect x="693.76" y="45.81" width="544.4300000000001" height="2.5" fill="url(#h1)"/><rect x="693.76" y="47.81" width="544.4300000000001" height="2.5" fill="url(#h2)"/><rect x="693.76" y="49.81" width="544.4300000000001" height="2.5" fill="url(#h3)"/><rect x="693.76" y="51.81" width="544.4300000000001" height="2.5" fill="url(#h4)"/><rect x="693.76" y="53.81" width="544.4300000000001" height="2.5" fill="url(#h5)"/><rect x="693.76" y="55.81" width="544.4300000000001" height="2.5" fill="url(#h6)"/><rect x="693.76" y="57.81" width="544.4300000000001" height="2.5" fill="url(#h7)"/><rect x="693.76" y="59.81" width="544.4300000000001" height="2.5" fill="url(#h8)"/><rect x="693.76" y="61.81" width="544.4300000000001" height="2.5" fill="url(#h9)"/><rect x="693.76" y="63.81" width="544.4300000000001" height="2.5" fill="url(#h10)"/><rect x="693.76" y="65.81" width="544.4300000000001" height="2.5" fill="url(#h11)"/><rect x="693.76" y="67.81" width="544.4300000000001" height="2.5" fill="url(#h12)"/><rect x="693.76" y="69.81" width="544.4300000000001" height="2.5" fill="url(#h13)"/><rect x="693.76" y="71.81" width="544.4300000000001" height="2.5" fill="url(#h14)"/><rect x="693.76" y="73.81" width="544.4300000000001" height="2.5" fill="url(#h15)"/><rect x="693.76" y="75.81" width="544.4300000000001" height="2.5" fill="url(#h16)"/><rect x="693.76" y="77.81" width="544.4300000000001" height="2.5" fill="url(#h17)"/><rect x="693.76" y="79.81" width="544.4300000000001" height="2.5" fill="url(#h18)"/><rect x="693.76" y="81.81" width="544.4300000000001" height="2.5" fill="url(#h19)"/><rect x="693.76" y="83.81" width="544.4300000000001" height="2.5" fill="url(#h20)"/><rect x="693.76" y="85.81" width="544.4300000000001" height="2.5" fill="url(#h21)"/><rect x="693.76" y="87.81" width="544.4300000000001" height="2.5" fill="url(#h22)"/><rect x="693.76" y="89.81" width="544.4300000000001" height="2.5" fill="url(#h23)"/><rect x="693.76" y="91.81" width="544.4300000000001" height="2.5" fill="url(#h24)"/><rect x="693.76" y="93.81" width="544.4300000000001" height="2.5" fill="url(#h25)"/><rect x="693.76" y="95.81" width="544.4300000000001" height="2.5" fill="url(#h26)"/><rect x="693.76" y="97.81" width="544.4300000000001" height="2.5" fill="url(#h27)"/><rect x="693.76" y="99.81" width="544.4300000000001" height="2.5" fill="url(#h28)"/><rect x="693.76" y="101.81" width="544.4300000000001" height="2.5" fill="url(#h29)"/><rect x="693.76" y="103.81" width="544.4300000000001" height="2.5" fill="url(#h30)"/><rect x="693.76" y="105.81" width="544.4300000000001" height="2.5" fill="url(#h31)"/><rect x="693.76" y="107.81" width="544.4300000000001" height="2.5" fill="url(#h32)"/><rect x="693.76" y="109.81" width="544.4300000000001" height="2.5" fill="url(#h33)"/><rect x="693.76" y="111.81" width="544.4300000000001" height="2.5" fill="url(#h34)"/><rect x="693.76" y="113.81" width="544.4300000000001" height="2.5" fill="url(#h35)"/><rect x="693.76" y="115.81" width="544.4300000000001" height="2.5" fill="url(#h36)"/><rect x="693.76" y="117.81" width="544.4300000000001" height="2.5" fill="url(#h37)"/><rect x="693.76" y="119.81" width="544.4300000000001" height="2.5" fill="url(#h38)"/><rect x="693.76" y="121.81" width="544.4300000000001" height="2.5" fill="url(#h39)"/><rect x="693.76" y="123.81" width="544.4300000000001" height="2.5" fill="url(#h40)"/><rect x="693.76" y="125.81" width="544.4300000000001" height="2.5" fill="url(#h41)"/><rect x="693.76" y="127.81" width="544.4300000000001" height="2.5" fill="url(#h42)"/><rect x="693.76" y="129.81" width="544.4300000000001" height="2.5" fill="url(#h43)"/><rect x="693.76" y="131.81" width="544.4300000000001" height="2.5" fill="url(#h44)"/><rect x="693.76" y="133.81" width="544.4300000000001" height="2.5" fill="url(#h45)"/><rect x="693.76" y="135.81" width="544.4300000000001" height="2.5" fill="url(#h46)"/><rect x="693.76" y="137.81" width="544.4300000000001" height="2.5" fill="url(#h47)"/><rect x="693.76" y="139.81" width="544.4300000000001" height="2.5" fill="url(#h48)"/><rect x="693.76" y="141.81" width="544.4300000000001" height="2.5" fill="url(#h49)"/><rect x="693.76" y="143.81" width="544.4300000000001" height="2.5" fill="url(#h50)"/><rect x="693.76" y="145.81" width="544.4300000000001" height="2.5" fill="url(#h51)"/><rect x="693.76" y="147.81" width="544.4300000000001" height="2.5" fill="url(#h52)"/><rect x="693.76" y="149.81" width="544.4300000000001" height="2.5" fill="url(#h53)"/><rect x="693.76" y="151.81" width="544.4300000000001" height="2.5" fill="url(#h54)"/><rect x="693.76" y="153.81" width="544.4300000000001" height="2.5" fill="url(#h55)"/><rect x="693.76" y="155.81" width="544.4300000000001" height="2.5" fill="url(#h56)"/><rect x="693.76" y="157.81" width="544.4300000000001" height="2.5" fill="url(#h57)"/><rect x="693.76" y="159.81" width="544.4300000000001" height="2.5" fill="url(#h58)"/><rect x="693.76" y="161.81" width="544.4300000000001" height="2.5" fill="url(#h59)"/><rect x="693.76" y="163.81" width="544.4300000000001" height="2.5" fill="url(#h60)"/><rect x="693.76" y="165.81" width="544.4300000000001" height="2.5" fill="url(#h61)"/><rect x="693.76" y="167.81" width="544.4300000000001" height="2.5" fill="url(#h62)"/><rect x="693.76" y="169.81" width="544.4300000000001" height="2.5" fill="url(#h63)"/><rect x="693.76" y="171.81" width="544.4300000000001" height="2.5" fill="url(#h64)"/><rect x="693.76" y="173.81" width="544.4300000000001" height="2.5" fill="url(#h65)"/><rect x="693.76" y="175.81" width="544.4300000000001" height="2.5" fill="url(#h66)"/><rect x="693.76" y="177.81" width="544.4300000000001" height="2.5" fill="url(#h67)"/><rect x="693.76" y="179.81" width="544.4300000000001" height="2.5" fill="url(#h68)"/><rect x="693.76" y="181.81" width="544.4300000000001" height="2.5" fill="url(#h69)"/><rect x="693.76" y="183.81" width="544.4300000000001" height="2.5" fill="url(#h70)"/><rect x="693.76" y="185.81" width="544.4300000000001" height="2.5" fill="url(#h71)"/><rect x="693.76" y="187.81" width="544.4300000000001" height="2.5" fill="url(#h72)"/><rect x="693.76" y="189.81" width="544.4300000000001" height="2.5" fill="url(#h73)"/><rect x="693.76" y="191.81" width="544.4300000000001" height="2.5" fill="url(#h74)"/><rect x="693.76" y="193.81" width="544.4300000000001" height="2.5" fill="url(#h75)"/><rect x="693.76" y="195.81" width="544.4300000000001" height="2.5" fill="url(#h76)"/><rect x="693.76" y="197.81" width="544.4300000000001" height="2.5" fill="url(#h77)"/><rect x="693.76" y="199.81" width="544.4300000000001" height="2.5" fill="url(#h78)"/><rect x="693.76" y="201.81" width="544.4300000000001" height="2.5" fill="url(#h79)"/><rect x="693.76" y="203.81" width="544.4300000000001" height="2.5" fill="url(#h80)"/><rect x="693.76" y="205.81" width="544.4300000000001" height="2.5" fill="url(#h81)"/><rect x="693.76" y="207.81" width="544.4300000000001" height="2.5" fill="url(#h82)"/><rect x="693.76" y="209.81" width="544.4300000000001" height="2.5" fill="url(#h83)"/><rect x="693.76" y="211.81" width="544.4300000000001" height="2.5" fill="url(#h84)"/><rect x="693.76" y="213.81" width="544.4300000000001" height="2.5" fill="url(#h85)"/><rect x="693.76" y="215.81" width="544.4300000000001" height="2.5" fill="url(#h86)"/><rect x="693.76" y="217.81" width="544.4300000000001" height="2.5" fill="url(#h87)"/><rect x="693.76" y="219.81" width="544.4300000000001" height="2.5" fill="url(#h88)"/><rect x="693.76" y="221.81" width="544.4300000000001" height="2.5" fill="url(#h89)"/><rect x="693.76" y="223.81" width="544.4300000000001" height="2.5" fill="url(#h90)"/><rect x="693.76" y="225.81" width="544.4300000000001" height="2.5" fill="url(#h91)"/><rect x="693.76" y="227.81" width="544.4300000000001" height="2.5" fill="url(#h92)"/><rect x="693.76" y="229.81" width="544.4300000000001" height="2.5" fill="url(#h93)"/><rect x="693.76" y="231.81" width="544.4300000000001" height="2.5" fill="url(#h94)"/><rect x="693.76" y="233.81" width="544.4300000000001" height="2.5" fill="url(#h95)"/><rect x="693.76" y="235.81" width="544.4300000000001" height="2.5" fill="url(#h96)"/><rect x="693.76" y="237.81" width="544.4300000000001" height="2.5" fill="url(#h97)"/><rect x="693.76" y="239.81" width="544.4300000000001" height="2.5" fill="url(#h98)"/><rect x="693.76" y="241.81" width="544.4300000000001" height="2.5" fill="url(#h99)"/><rect x="693.76" y="243.81" width="544.4300000000001" height="2.5" fill="url(#h100)"/><rect x="693.76" y="245.81" width="544.4300000000001" height="2.5" fill="url(#h101)"/><rect x="693.76" y="247.81" width="544.4300000000001" height="2.5" fill="url(#h102)"/><rect x="693.76" y="249.81" width="544.4300000000001" height="2.5" fill="url(#h103)"/><rect x="693.76" y="251.81" width="544.4300000000001" height="2.5" fill="url(#h104)"/><rect x="693.76" y="253.81" width="544.4300000000001" height="2.5" fill="url(#h105)"/><rect x="693.76" y="255.81" width="544.4300000000001" height="2.5" fill="url(#h106)"/><rect x="693.76" y="257.81" width="544.4300000000001" height="2.5" fill="url(#h107)"/><rect x="693.76" y="259.81" width="544.4300000000001" height="2.5" fill="url(#h108)"/><rect x="693.76" y="261.81" width="544.4300000000001" height="2.5" fill="url(#h109)"/><rect x="693.76" y="263.81" width="544.4300000000001" height="2.5" fill="url(#h110)"/><rect x="693.76" y="265.81" width="544.4300000000001" height="2.5" fill="url(#h111)"/><rect x="693.76" y="267.81" width="544.4300000000001" height="2.5" fill="url(#h112)"/><rect x="693.76" y="269.81" width="544.4300000000001" height="2.5" fill="url(#h113)"/><rect x="693.76" y="271.81" width="544.4300000000001" height="2.5" fill="url(#h114)"/><rect x="693.76" y="273.81" width="544.4300000000001" height="2.5" fill="url(#h115)"/><rect x="693.76" y="275.81" width="544.4300000000001" height="2.5" fill="url(#h116)"/><rect x="693.76" y="277.81" width="544.4300000000001" height="2.5" fill="url(#h117)"/><rect x="693.76" y="279.81" width="544.4300000000001" height="2.5" fill="url(#h118)"/><rect x="693.76" y="281.81" width="544.4300000000001" height="2.5" fill="url(#h119)"/><rect x="693.76" y="283.81" width="544.4300000000001" height="2.5" fill="url(#h120)"/><rect x="693.76" y="285.81" width="544.4300000000001" height="2.5" fill="url(#h121)"/><rect x="693.76" y="287.81" width="544.4300000000001" height="2.5" fill="url(#h122)"/><rect x="693.76" y="289.81" width="544.4300000000001" height="2.5" fill="url(#h123)"/><rect x="693.76" y="291.81" width="544.4300000000001" height="2.5" fill="url(#h124)"/><rect x="693.76" y="293.81" width="544.4300000000001" height="2.5" fill="url(#h125)"/><rect x="693.76" y="295.81" width="544.4300000000001" height="2.5" fill="url(#h126)"/><rect x="693.76" y="297.81" width="544.4300000000001" height="2.5" fill="url(#h127)"/><rect x="693.76" y="299.81" width="544.4300000000001" height="2.5" fill="url(#h128)"/><rect x="693.76" y="301.81" width="544.4300000000001" height="2.5" fill="url(#h129)"/><rect x="693.76" y="303.81" width="544.4300000000001" height="2.5" fill="url(#h130)"/><rect x="693.76" y="305.81" width="544.4300000000001" height="2.5" fill="url(#h131)"/><rect x="693.76" y="307.81" width="544.4300000000001" height="2.5" fill="url(#h132)"/><rect x="693.76" y="309.81" width="544.4300000000001" height="2.5" fill="url(#h133)"/><rect x="693.76" y="311.81" width="544.4300000000001" height="2.5" fill="url(#h134)"/><rect x="693.76" y="313.81" width="544.4300000000001" height="2.5" fill="url(#h135)"/><rect x="693.76" y="315.81" width="544.4300000000001" height="2.5" fill="url(#h136)"/><rect x="693.76" y="317.81" width="544.4300000000001" height="2.5" fill="url(#h137)"/><rect x="693.76" y="319.81" width="544.4300000000001" height="2.5" fill="url(#h138)"/><rect x="693.76" y="321.81" width="544.4300000000001" height="2.5" fill="url(#h139)"/><rect x="693.76" y="323.81" width="544.4300000000001" height="2.5" fill="url(#h140)"/><rect x="693.76" y="325.81" width="544.4300000000001" height="2.5" fill="url(#h141)"/><rect x="693.76" y="327.81" width="544.4300000000001" height="2.5" fill="url(#h142)"/><rect x="693.76" y="329.81" width="544.4300000000001" height="2.5" fill="url(#h143)"/><rect x="693.76" y="331.81" width="544.4300000000001" height="2.5" fill="url(#h144)"/><rect x="693.76" y="333.81" width="544.4300000000001" height="2.5" fill="url(#h145)"/><rect x="693.76" y="335.81" width="544.4300000000001" height="2.5" fill="url(#h146)"/><rect x="693.76" y="337.81" width="544.4300000000001" height="2.5" fill="url(#h147)"/><rect x="693.76" y="339.81" width="544.4300000000001" height="2.5" fill="url(#h148)"/><rect x="693.76" y="341.81" width="544.4300000000001" height="2.5" fill="url(#h149)"/><rect x="693.76" y="343.81" width="544.4300000000001" height="2.5" fill="url(#h150)"/><rect x="693.76" y="345.81" width="544.4300000000001" height="2.5" fill="url(#h151)"/><rect x="693.76" y="347.81" width="544.4300000000001" height="2.5" fill="url(#h152)"/><rect x="693.76" y="349.81" width="544.4300000000001" height="2.5" fill="url(#h153)"/><rect x="693.76" y="351.81" width="544.4300000000001" height="2.5" fill="url(#h154)"/><rect x="693.76" y="353.81" width="544.4300000000001" height="2.5" fill="url(#h155)"/><rect x="693.76" y="355.81" width="544.4300000000001" height="2.5" fill="url(#h156)"/><rect x="693.76" y="357.81" width="544.4300000000001" height="2.5" fill="url(#h157)"/><rect x="693.76" y="359.81" width="544.4300000000001" height="2.5" fill="url(#h158)"/><rect x="693.76" y="361.81" width="544.4300000000001" height="2.5" fill="url(#h159)"/><rect x="693.76" y="363.81" width="544.4300000000001" height="2.5" fill="url(#h160)"/><rect x="693.76" y="365.81" width="544.4300000000001" height="2.5" fill="url(#h161)"/><rect x="693.76" y="367.81" width="544.4300000000001" height="2.5" fill="url(#h162)"/><rect x="693.76" y="369.81" width="544.4300000000001" height="2.5" fill="url(#h163)"/><rect x="693.76" y="371.81" width="544.4300000000001" height="2.5" fill="url(#h164)"/><rect x="693.76" y="373.81" width="544.4300000000001" height="2.5" fill="url(#h165)"/><rect x="693.76" y="375.81" width="544.4300000000001" height="2.5" fill="url(#h166)"/><rect x="693.76" y="377.81" width="544.4300000000001" height="2.5" fill="url(#h167)"/><rect x="693.76" y="379.81" width="544.4300000000001" height="2.5" fill="url(#h168)"/><rect x="693.76" y="381.81" width="544.4300000000001" height="2.5" fill="url(#h169)"/><rect x="693.76" y="383.81" width="544.4300000000001" height="2.5" fill="url(#h170)"/><rect x="693.76" y="385.81" width="544.4300000000001" height="2.5" fill="url(#h171)"/><rect x="693.76" y="387.81" width="544.4300000000001" height="2.5" fill="url(#h172)"/><rect x="693.76" y="389.81" width="544.4300000000001" height="2.5" fill="url(#h173)"/><rect x="693.76" y="391.81" width="544.4300000000001" height="2.5" fill="url(#h174)"/><rect x="693.76" y="393.81" width="544.4300000000001" height="2.5" fill="url(#h175)"/><rect x="693.76" y="395.81" width="544.4300000000001" height="2.5" fill="url(#h176)"/><rect x="693.76" y="397.81" width="544.4300000000001" height="2.5" fill="url(#h177)"/><rect x="693.76" y="399.81" width="544.4300000000001" height="2.5" fill="url(#h178)"/><rect x="693.76" y="401.81" width="544.4300000000001" height="2.5" fill="url(#h179)"/><rect x="693.76" y="403.81" width="544.4300000000001" height="2.5" fill="url(#h180)"/><rect x="693.76" y="405.81" width="544.4300000000001" height="2.5" fill="url(#h181)"/><rect x="693.76" y="407.81" width="544.4300000000001" height="2.5" fill="url(#h182)"/><rect x="693.76" y="409.81" width="544.4300000000001" height="2.5" fill="url(#h183)"/><rect x="693.76" y="411.81" width="544.4300000000001" height="2.5" fill="url(#h184)"/><rect x="693.76" y="413.81" width="544.4300000000001" height="2.5" fill="url(#h185)"/><rect x="693.76" y="415.81" width="544.4300000000001" height="2.5" fill="url(#h186)"/><rect x="693.76" y="417.81" width="544.4300000000001" height="2.5" fill="url(#h187)"/><rect x="693.76" y="419.81" width="544.4300000000001" height="2.5" fill="url(#h188)"/><rect x="693.76" y="421.81" width="544.4300000000001" height="2.5" fill="url(#h189)"/><rect x="693.76" y="423.81" width="544.4300000000001" height="2.5" fill="url(#h190)"/><rect x="693.76" y="425.81" width="544.4300000000001" height="2.5" fill="url(#h191)"/><rect x="693.76" y="427.81" width="544.4300000000001" height="2.5" fill="url(#h192)"/><rect x="693.76" y="429.81" width="544.4300000000001" height="2.5" fill="url(#h193)"/><rect x="693.76" y="431.81" width="544.4300000000001" height="2.5" fill="url(#h194)"/><rect x="693.76" y="433.81" width="544.4300000000001" height="2.5" fill="url(#h195)"/><rect x="693.76" y="435.81" width="544.4300000000001" height="2.5" fill="url(#h196)"/><rect x="693.76" y="437.81" width="544.4300000000001" height="2.5" fill="url(#h197)"/><rect x="693.76" y="439.81" width="544.4300000000001" height="2.5" fill="url(#h198)"/><rect x="693.76" y="441.81" width="544.4300000000001" height="2.5" fill="url(#h199)"/><rect x="693.76" y="443.81" width="544.4300000000001" height="2.5" fill="url(#h200)"/><rect x="693.76" y="445.81" width="544.4300000000001" height="2.5" fill="url(#h201)"/><rect x="693.76" y="447.81" width="544.4300000000001" height="2.5" fill="url(#h202)"/><rect x="693.76" y="449.81" width="544.4300000000001" height="2.5" fill="url(#h203)"/><rect x="693.76" y="451.81" width="544.4300000000001" height="2.5" fill="url(#h204)"/><rect x="693.76" y="453.81" width="544.4300000000001" height="2.5" fill="url(#h205)"/><rect x="693.76" y="455.81" width="544.4300000000001" height="2.5" fill="url(#h206)"/><rect x="693.76" y="457.81" width="544.4300000000001" height="2.5" fill="url(#h207)"/><rect x="693.76" y="459.81" width="544.4300000000001" height="2.5" fill="url(#h208)"/><rect x="693.76" y="461.81" width="544.4300000000001" height="2.5" fill="url(#h209)"/><rect x="693.76" y="463.81" width="544.4300000000001" height="2.5" fill="url(#h210)"/><rect x="693.76" y="465.81" width="544.4300000000001" height="2.5" fill="url(#h211)"/><rect x="693.76" y="467.81" width="544.4300000000001" height="2.5" fill="url(#h212)"/><rect x="693.76" y="469.81" width="544.4300000000001" height="2.5" fill="url(#h213)"/><rect x="693.76" y="471.81" width="544.4300000000001" height="2.5" fill="url(#h214)"/><rect x="693.76" y="473.81" width="544.4300000000001" height="2.5" fill="url(#h215)"/><rect x="693.76" y="475.81" width="544.4300000000001" height="2.5" fill="url(#h216)"/><rect x="693.76" y="477.81" width="544.4300000000001" height="2.5" fill="url(#h217)"/><rect x="693.76" y="479.81" width="544.4300000000001" height="2.5" fill="url(#h218)"/><rect x="693.76" y="481.81" width="544.4300000000001" height="2.5" fill="url(#h219)"/><rect x="693.76" y="483.81" width="544.4300000000001" height="2.5" fill="url(#h220)"/><rect x="693.76" y="485.81" width="544.4300000000001" height="2.5" fill="url(#h221)"/><rect x="693.76" y="487.81" width="544.4300000000001" height="2.5" fill="url(#h222)"/><rect x="693.76" y="489.81" width="544.4300000000001" height="2.5" fill="url(#h223)"/><rect x="693.76" y="491.81" width="544.4300000000001" height="2.5" fill="url(#h224)"/><rect x="693.76" y="493.81" width="544.4300000000001" height="2.5" fill="url(#h225)"/><rect x="693.76" y="495.81" width="544.4300000000001" height="2.5" fill="url(#h226)"/><rect x="693.76" y="497.81" width="544.4300000000001" height="2.5" fill="url(#h227)"/><rect x="693.76" y="499.81" width="544.4300000000001" height="2.5" fill="url(#h228)"/><rect x="693.76" y="501.81" width="544.4300000000001" height="2.5" fill="url(#h229)"/><rect x="693.76" y="503.81" width="544.4300000000001" height="2.5" fill="url(#h230)"/><rect x="693.76" y="505.81" width="544.4300000000001" height="2.5" fill="url(#h231)"/><rect x="693.76" y="507.81" width="544.4300000000001" height="2.5" fill="url(#h232)"/><rect x="693.76" y="509.81" width="544.4300000000001" height="2.5" fill="url(#h233)"/><rect x="693.76" y="511.81" width="544.4300000000001" height="2.5" fill="url(#h234)"/><rect x="693.76" y="513.81" width="544.4300000000001" height="2.5" fill="url(#h235)"/><rect x="693.76" y="515.81" width="544.4300000000001" height="2.5" fill="url(#h236)"/><rect x="693.76" y="517.81" width="544.4300000000001" height="2.5" fill="url(#h237)"/><rect x="693.76" y="519.81" width="544.4300000000001" height="2.5" fill="url(#h238)"/><rect x="693.76" y="521.81" width="544.4300000000001" height="2.5" fill="url(#h239)"/><rect x="693.76" y="523.81" width="544.4300000000001" height="2.5" fill="url(#h240)"/><rect x="693.76" y="525.81" width="544.4300000000001" height="2.5" fill="url(#h241)"/><rect x="693.76" y="527.81" width="544.4300000000001" height="2.5" fill="url(#h242)"/><rect x="693.76" y="529.81" width="544.4300000000001" height="2.5" fill="url(#h243)"/><rect x="693.76" y="531.81" width="544.4300000000001" height="2.5" fill="url(#h244)"/><rect x="693.76" y="533.81" width="544.4300000000001" height="2.5" fill="url(#h245)"/><rect x="693.76" y="535.81" width="544.4300000000001" height="2.5" fill="url(#h246)"/><rect x="693.76" y="537.81" width="544.4300000000001" height="2.5" fill="url(#h247)"/><rect x="693.76" y="539.81" width="544.4300000000001" height="2.5" fill="url(#h248)"/><rect x="693.76" y="541.81" width="544.4300000000001" height="2.5" fill="url(#h249)"/><rect x="693.76" y="543.81" width="544.4300000000001" height="2.5" fill="url(#h250)"/><rect x="693.76" y="545.81" width="544.4300000000001" height="2.5" fill="url(#h251)"/><rect x="693.76" y="547.81" width="544.4300000000001" height="2.5" fill="url(#h252)"/><rect x="693.76" y="549.81" width="544.4300000000001" height="2.5" fill="url(#h253)"/><rect x="693.76" y="551.81" width="544.4300000000001" height="2.5" fill="url(#h254)"/><rect x="693.76" y="553.81" width="544.4300000000001" height="2.5" fill="url(#h255)"/><rect x="693.76" y="555.81" width="544.4300000000001" height="2.5" fill="url(#h256)"/><rect x="693.76" y="557.81" width="544.4300000000001" height="2.5" fill="url(#h257)"/><rect x="693.76" y="559.81" width="544.4300000000001" height="2.5" fill="url(#h258)"/><rect x="693.76" y="561.81" width="544.4300000000001" height="2.5" fill="url(#h259)"/><rect x="693.76" y="563.81" width="544.4300000000001" height="2.5" fill="url(#h260)"/><rect x="693.76" y="565.81" width="544.4300000000001" height="2.5" fill="url(#h261)"/><rect x="693.76" y="567.81" width="544.4300000000001" height="2.5" fill="url(#h262)"/><rect x="693.76" y="569.81" width="544.4300000000001" height="2.5" fill="url(#h263)"/><rect x="693.76" y="571.81" width="544.4300000000001" height="2.5" fill="url(#h264)"/><rect x="693.76" y="573.81" width="544.4300000000001" height="2.5" fill="url(#h265)"/><rect x="693.76" y="575.81" width="544.4300000000001" height="2.5" fill="url(#h266)"/><rect x="693.76" y="577.81" width="544.4300000000001" height="2.5" fill="url(#h267)"/><rect x="693.76" y="579.81" width="544.4300000000001" height="2.5" fill="url(#h268)"/><rect x="693.76" y="581.81" width="544.4300000000001" height="2.5" fill="url(#h269)"/><rect x="693.76" y="583.81" width="544.4300000000001" height="2.5" fill="url(#h270)"/></g><rect x="851" y="47.81" width="1" height="532.4300000000001" fill="#fff"/><rect x="1048" y="47.81" width="1" height="532.4300000000001" fill="#fff"/></g><line x1="699.76" y1="228.33" x2="1232.19" y2="228.33" stroke="#cd2626" stroke-width="1.5" stroke-dasharray="6 6" stroke-linecap="round"/><line x1="963.70" y1="580.24" x2="963.70" y2="47.81" stroke="#006400" stroke-width="1.5" stroke-dasharray="6 6" stroke-linecap="round"/><line x1="966.90" y1="580.24" x2="966.90" y2="47.81" stroke="#006400" stroke-width="1.5" stroke-dasharray="6 6" stroke-linecap="round"/><path d="M699.76 47.81V580.24H1232.19V47.81" fill="none" stroke="#000" stroke-width="0.75" stroke-linejoin="round"/><line x1="751.82" y1="580.24" x2="1178.78" y2="580.24" stroke="#000" stroke-width="0.75"/><line x1="751.82" y1="580.24" x2="751.82" y2="586.64" stroke="#000" stroke-width="0.75"/><text transform="translate(751.82,601.9) scale(1.02,1.14)" font-size="10" text-anchor="middle">-400</text><line x1="858.56" y1="580.24" x2="858.56" y2="586.64" stroke="#000" stroke-width="0.75"/><text transform="translate(858.56,601.9) scale(1.02,1.14)" font-size="10" text-anchor="middle">-200</text><line x1="965.30" y1="580.24" x2="965.30" y2="586.64" stroke="#000" stroke-width="0.75"/><text transform="translate(965.30,601.9) scale(1.02,1.14)" font-size="10" text-anchor="middle">0</text><line x1="1072.04" y1="580.24" x2="1072.04" y2="586.64" stroke="#000" stroke-width="0.75"/><text transform="translate(1072.04,601.9) scale(1.02,1.14)" font-size="10" text-anchor="middle">200</text><line x1="1178.78" y1="580.24" x2="1178.78" y2="586.64" stroke="#000" stroke-width="0.75"/><text transform="translate(1178.78,601.9) scale(1.02,1.14)" font-size="10" text-anchor="middle">400</text><line x1="699.76" y1="498.45" x2="699.76" y2="48.25" stroke="#000" stroke-width="0.75"/><line x1="693.36" y1="498.45" x2="699.76" y2="498.45" stroke="#000" stroke-width="0.75"/><text transform="translate(685.26,498.45) rotate(-90) scale(1.06,1.1)" font-size="10" text-anchor="middle">90</text><line x1="693.36" y1="408.41" x2="699.76" y2="408.41" stroke="#000" stroke-width="0.75"/><text transform="translate(685.26,408.41) rotate(-90) scale(1.06,1.1)" font-size="10" text-anchor="middle">92</text><line x1="693.36" y1="318.37" x2="699.76" y2="318.37" stroke="#000" stroke-width="0.75"/><text transform="translate(685.26,318.37) rotate(-90) scale(1.06,1.1)" font-size="10" text-anchor="middle">94</text><line x1="693.36" y1="228.33" x2="699.76" y2="228.33" stroke="#000" stroke-width="0.75"/><text transform="translate(685.26,228.33) rotate(-90) scale(1.06,1.1)" font-size="10" text-anchor="middle">96</text><line x1="693.36" y1="138.29" x2="699.76" y2="138.29" stroke="#000" stroke-width="0.75"/><text transform="translate(685.26,138.29) rotate(-90) scale(1.06,1.1)" font-size="10" text-anchor="middle">98</text><line x1="693.36" y1="48.25" x2="699.76" y2="48.25" stroke="#000" stroke-width="0.75"/><text transform="translate(685.26,48.25) rotate(-90) scale(1.06,1.1)" font-size="10" text-anchor="middle">100</text><text transform="translate(966.0,32.0) scale(1,1.06)" font-size="21.6" font-weight="bold" text-anchor="middle">Density heat map for the top hits</text><text transform="translate(966.5,626.1) scale(1,1.06)" font-size="16" text-anchor="middle">Distance to peak summit</text><text transform="translate(662.10,314.0) rotate(-90)" font-size="16" text-anchor="middle">Motif score</text></g>
<!-- panel 3 -->
<g id="p3"><polygon points="79.38,1200.76 79.38,1200.72 80.35,1200.71 81.31,1200.70 82.28,1200.68 83.24,1200.65 84.21,1200.62 85.17,1200.59 86.14,1200.54 87.10,1200.49 88.07,1200.43 89.03,1200.36 90.00,1200.27 90.96,1200.17 91.93,1200.06 92.89,1199.94 93.86,1199.80 94.82,1199.65 95.79,1199.49 96.75,1199.32 97.72,1199.14 98.69,1198.96 99.65,1198.77 100.62,1198.58 101.58,1198.39 102.55,1198.22 103.51,1198.05 104.48,1197.90 105.44,1197.77 106.41,1197.66 107.37,1197.57 108.34,1197.51 109.30,1197.49 110.27,1197.49 111.23,1197.51 112.20,1197.57 113.16,1197.65 114.13,1197.76 115.09,1197.89 116.06,1198.03 117.02,1198.19 117.99,1198.35 118.95,1198.52 119.92,1198.68 120.88,1198.84 121.85,1198.98 122.82,1199.12 123.78,1199.23 124.75,1199.32 125.71,1199.39 126.68,1199.43 127.64,1199.45 128.61,1199.43 129.57,1199.38 130.54,1199.30 131.50,1199.19 132.47,1199.04 133.43,1198.87 134.40,1198.66 135.36,1198.42 136.33,1198.16 137.29,1197.86 138.26,1197.54 139.22,1197.19 140.19,1196.82 141.15,1196.42 142.12,1196.00 143.08,1195.56 144.05,1195.10 145.01,1194.62 145.98,1194.13 146.95,1193.62 147.91,1193.10 148.88,1192.58 149.84,1192.06 150.81,1191.54 151.77,1191.03 152.74,1190.53 153.70,1190.06 154.67,1189.62 155.63,1189.22 156.60,1188.86 157.56,1188.55 158.53,1188.30 159.49,1188.12 160.46,1188.01 161.42,1187.97 162.39,1188.00 163.35,1188.11 164.32,1188.29 165.28,1188.55 166.25,1188.86 167.21,1189.24 168.18,1189.66 169.14,1190.13 170.11,1190.63 171.08,1191.15 172.04,1191.69 173.01,1192.22 173.97,1192.74 174.94,1193.24 175.90,1193.71 176.87,1194.14 177.83,1194.52 178.80,1194.83 179.76,1195.08 180.73,1195.25 181.69,1195.34 182.66,1195.34 183.62,1195.25 184.59,1195.07 185.55,1194.80 186.52,1194.44 187.48,1193.99 188.45,1193.46 189.41,1192.87 190.38,1192.20 191.34,1191.50 192.31,1190.75 193.27,1189.99 194.24,1189.22 195.21,1188.47 196.17,1187.75 197.14,1187.08 198.10,1186.48 199.07,1185.97 200.03,1185.55 201.00,1185.24 201.96,1185.06 202.93,1184.99 203.89,1185.06 204.86,1185.24 205.82,1185.55 206.79,1185.98 207.75,1186.50 208.72,1187.11 209.68,1187.80 210.65,1188.54 211.61,1189.32 212.58,1190.12 213.54,1190.93 214.51,1191.72 215.47,1192.48 216.44,1193.21 217.40,1193.88 218.37,1194.50 219.34,1195.05 220.30,1195.53 221.27,1195.94 222.23,1196.28 223.20,1196.56 224.16,1196.77 225.13,1196.93 226.09,1197.04 227.06,1197.11 228.02,1197.15 228.99,1197.17 229.95,1197.16 230.92,1197.15 231.88,1197.13 232.85,1197.11 233.81,1197.09 234.78,1197.08 235.74,1197.07 236.71,1197.06 237.67,1197.05 238.64,1197.04 239.60,1197.01 240.57,1196.97 241.53,1196.91 242.50,1196.81 243.46,1196.68 244.43,1196.50 245.40,1196.27 246.36,1195.98 247.33,1195.63 248.29,1195.21 249.26,1194.73 250.22,1194.17 251.19,1193.54 252.15,1192.85 253.12,1192.09 254.08,1191.28 255.05,1190.41 256.01,1189.50 256.98,1188.56 257.94,1187.59 258.91,1186.62 259.87,1185.64 260.84,1184.67 261.80,1183.73 262.77,1182.83 263.73,1181.98 264.70,1181.20 265.66,1180.49 266.63,1179.88 267.59,1179.37 268.56,1178.97 269.53,1178.70 270.49,1178.55 271.46,1178.54 272.42,1178.67 273.39,1178.93 274.35,1179.33 275.32,1179.85 276.28,1180.49 277.25,1181.24 278.21,1182.08 279.18,1183.00 280.14,1183.98 281.11,1184.99 282.07,1186.03 283.04,1187.07 284.00,1188.10 284.97,1189.09 285.93,1190.04 286.90,1190.93 287.86,1191.75 288.83,1192.50 289.79,1193.17 290.76,1193.76 291.72,1194.27 292.69,1194.70 293.66,1195.06 294.62,1195.36 295.59,1195.60 296.55,1195.78 297.52,1195.93 298.48,1196.04 299.45,1196.12 300.41,1196.17 301.38,1196.21 302.34,1196.24 303.31,1196.25 304.27,1196.25 305.24,1196.25 306.20,1196.24 307.17,1196.22 308.13,1196.20 309.10,1196.18 310.06,1196.14 311.03,1196.10 311.99,1196.06 312.96,1196.00 313.92,1195.95 314.89,1195.88 315.85,1195.82 316.82,1195.75 317.79,1195.67 318.75,1195.60 319.72,1195.52 320.68,1195.44 321.65,1195.35 322.61,1195.27 323.58,1195.18 324.54,1195.08 325.51,1194.98 326.47,1194.87 327.44,1194.75 328.40,1194.62 329.37,1194.48 330.33,1194.32 331.30,1194.15 332.26,1193.95 333.23,1193.75 334.19,1193.52 335.16,1193.28 336.12,1193.03 337.09,1192.77 338.05,1192.49 339.02,1192.22 339.98,1191.94 340.95,1191.67 341.92,1191.41 342.88,1191.17 343.85,1190.96 344.81,1190.78 345.78,1190.64 346.74,1190.54 347.71,1190.50 348.67,1190.50 349.64,1190.57 350.60,1190.69 351.57,1190.87 352.53,1191.10 353.50,1191.38 354.46,1191.72 355.43,1192.09 356.39,1192.49 357.36,1192.92 358.32,1193.35 359.29,1193.80 360.25,1194.23 361.22,1194.64 362.18,1195.02 363.15,1195.36 364.11,1195.64 365.08,1195.87 366.05,1196.02 367.01,1196.09 367.98,1196.08 368.94,1195.97 369.91,1195.77 370.87,1195.46 371.84,1195.06 372.80,1194.55 373.77,1193.93 374.73,1193.21 375.70,1192.38 376.66,1191.46 377.63,1190.44 378.59,1189.32 379.56,1188.11 380.52,1186.81 381.49,1185.43 382.45,1183.96 383.42,1182.41 384.38,1180.78 385.35,1179.07 386.31,1177.29 387.28,1175.44 388.24,1173.52 389.21,1171.55 390.18,1169.53 391.14,1167.48 392.11,1165.41 393.07,1163.35 394.04,1161.31 395.00,1159.33 395.97,1157.43 396.93,1155.65 397.90,1154.02 398.86,1152.57 399.83,1151.33 400.79,1150.32 401.76,1149.58 402.72,1149.12 403.69,1148.94 404.65,1149.06 405.62,1149.48 406.58,1150.17 407.55,1151.13 408.51,1152.33 409.48,1153.75 410.44,1155.33 411.41,1157.06 412.37,1158.88 413.34,1160.75 414.31,1162.64 415.27,1164.50 416.24,1166.29 417.20,1167.98 418.17,1169.55 419.13,1170.96 420.10,1172.20 421.06,1173.26 422.03,1174.13 422.99,1174.82 423.96,1175.32 424.92,1175.66 425.89,1175.85 426.85,1175.90 427.82,1175.86 428.78,1175.74 429.75,1175.57 430.71,1175.39 431.68,1175.21 432.64,1175.07 433.61,1174.99 434.57,1174.99 435.54,1175.09 436.50,1175.28 437.47,1175.57 438.43,1175.97 439.40,1176.44 440.37,1176.99 441.33,1177.58 442.30,1178.19 443.26,1178.78 444.23,1179.32 445.19,1179.76 446.16,1180.08 447.12,1180.22 448.09,1180.16 449.05,1179.86 450.02,1179.29 450.98,1178.42 451.95,1177.23 452.91,1175.72 453.88,1173.88 454.84,1171.73 455.81,1169.26 456.77,1166.51 457.74,1163.50 458.70,1160.29 459.67,1156.90 460.63,1153.40 461.60,1149.84 462.56,1146.27 463.53,1142.74 464.50,1139.32 465.46,1136.04 466.43,1132.96 467.39,1130.08 468.36,1127.45 469.32,1125.07 470.29,1122.93 471.25,1121.01 472.22,1119.30 473.18,1117.74 474.15,1116.28 475.11,1114.88 476.08,1113.46 477.04,1111.95 478.01,1110.28 478.97,1108.40 479.94,1106.24 480.90,1103.75 481.87,1100.88 482.83,1097.63 483.80,1093.97 484.76,1089.91 485.73,1085.49 486.69,1080.74 487.66,1075.73 488.63,1070.52 489.59,1065.22 490.56,1059.92 491.52,1054.72 492.49,1049.73 493.45,1045.06 494.42,1040.78 495.38,1037.00 496.35,1033.77 497.31,1031.14 498.28,1029.13 499.24,1027.74 500.21,1026.93 501.17,1026.65 502.14,1026.79 503.10,1027.26 504.07,1027.91 505.03,1028.57 506.00,1029.07 506.96,1029.22 507.93,1028.82 508.89,1027.66 509.86,1025.55 510.82,1022.31 511.79,1017.76 512.76,1011.76 513.72,1004.19 514.69,994.97 515.65,984.07 516.62,971.49 517.58,957.29 518.55,941.57 519.51,924.51 520.48,906.29 521.44,887.18 522.41,867.47 523.37,847.49 524.34,827.59 525.30,808.12 526.27,789.47 527.23,772.00 528.20,756.04 529.16,741.92 530.13,729.92 531.09,720.29 532.06,713.21 533.02,708.82 533.99,707.22 534.95,708.43 535.92,712.45 536.89,719.21 537.85,728.60 538.82,740.46 539.78,754.61 540.75,770.83 541.71,788.88 542.68,808.51 543.64,829.44 544.61,851.37 545.57,874.04 546.54,897.14 547.50,920.41 548.47,943.58 549.43,966.39 550.40,988.62 551.36,1010.06 552.33,1030.54 553.29,1049.90 554.26,1068.03 555.22,1084.85 556.19,1100.30 557.15,1114.35 558.12,1127.02 559.08,1138.32 560.05,1148.31 561.02,1157.05 561.98,1164.64 562.95,1171.15 563.91,1176.69 564.88,1181.36 565.84,1185.25 566.81,1188.47 567.77,1191.10 568.74,1193.24 569.70,1194.95 570.67,1196.31 571.63,1197.38 572.60,1198.22 572.60,1200.76" fill="#f5deb3" stroke="#000" stroke-width="1.25" stroke-linejoin="round"/><line x1="395.63" y1="1220.24" x2="395.63" y2="687.81" stroke="#cd2626" stroke-width="1.5" stroke-dasharray="6 6" stroke-linecap="round"/><rect x="59.76" y="687.81" width="532.4300000000001" height="532.4300000000001" fill="none" stroke="#000" stroke-width="0.75" stroke-linejoin="round"/><line x1="102.40" y1="1220.24" x2="542.25" y2="1220.24" stroke="#000" stroke-width="0.75"/><line x1="102.40" y1="1220.24" x2="102.40" y2="1226.64" stroke="#000" stroke-width="0.75"/><text transform="translate(102.40,1241.9) scale(1.02,1.14)" font-size="10" text-anchor="middle">88</text><line x1="175.71" y1="1220.24" x2="175.71" y2="1226.64" stroke="#000" stroke-width="0.75"/><text transform="translate(175.71,1241.9) scale(1.02,1.14)" font-size="10" text-anchor="middle">90</text><line x1="249.02" y1="1220.24" x2="249.02" y2="1226.64" stroke="#000" stroke-width="0.75"/><text transform="translate(249.02,1241.9) scale(1.02,1.14)" font-size="10" text-anchor="middle">92</text><line x1="322.32" y1="1220.24" x2="322.32" y2="1226.64" stroke="#000" stroke-width="0.75"/><text transform="translate(322.32,1241.9) scale(1.02,1.14)" font-size="10" text-anchor="middle">94</text><line x1="395.63" y1="1220.24" x2="395.63" y2="1226.64" stroke="#000" stroke-width="0.75"/><text transform="translate(395.63,1241.9) scale(1.02,1.14)" font-size="10" text-anchor="middle">96</text><line x1="468.94" y1="1220.24" x2="468.94" y2="1226.64" stroke="#000" stroke-width="0.75"/><text transform="translate(468.94,1241.9) scale(1.02,1.14)" font-size="10" text-anchor="middle">98</text><line x1="542.25" y1="1220.24" x2="542.25" y2="1226.64" stroke="#000" stroke-width="0.75"/><text transform="translate(542.25,1241.9) scale(1.02,1.14)" font-size="10" text-anchor="middle">100</text><line x1="59.76" y1="1200.76" x2="59.76" y2="696.41" stroke="#000" stroke-width="0.75"/><line x1="53.36" y1="1200.76" x2="59.76" y2="1200.76" stroke="#000" stroke-width="0.75"/><text transform="translate(45.26,1200.76) rotate(-90) scale(1.06,1.1)" font-size="10" text-anchor="middle">0.0</text><line x1="53.36" y1="1128.71" x2="59.76" y2="1128.71" stroke="#000" stroke-width="0.75"/><text transform="translate(45.26,1128.71) rotate(-90) scale(1.06,1.1)" font-size="10" text-anchor="middle">0.1</text><line x1="53.36" y1="1056.66" x2="59.76" y2="1056.66" stroke="#000" stroke-width="0.75"/><text transform="translate(45.26,1056.66) rotate(-90) scale(1.06,1.1)" font-size="10" text-anchor="middle">0.2</text><line x1="53.36" y1="984.61" x2="59.76" y2="984.61" stroke="#000" stroke-width="0.75"/><text transform="translate(45.26,984.61) rotate(-90) scale(1.06,1.1)" font-size="10" text-anchor="middle">0.3</text><line x1="53.36" y1="912.56" x2="59.76" y2="912.56" stroke="#000" stroke-width="0.75"/><text transform="translate(45.26,912.56) rotate(-90) scale(1.06,1.1)" font-size="10" text-anchor="middle">0.4</text><line x1="53.36" y1="840.51" x2="59.76" y2="840.51" stroke="#000" stroke-width="0.75"/><text transform="translate(45.26,840.51) rotate(-90) scale(1.06,1.1)" font-size="10" text-anchor="middle">0.5</text><line x1="53.36" y1="768.46" x2="59.76" y2="768.46" stroke="#000" stroke-width="0.75"/><text transform="translate(45.26,768.46) rotate(-90) scale(1.06,1.1)" font-size="10" text-anchor="middle">0.6</text><line x1="53.36" y1="696.41" x2="59.76" y2="696.41" stroke="#000" stroke-width="0.75"/><text transform="translate(45.26,696.41) rotate(-90) scale(1.06,1.1)" font-size="10" text-anchor="middle">0.7</text><text transform="translate(326.0,672.0) scale(1,1.06)" font-size="21.6" font-weight="bold" text-anchor="middle">Motif score threshold: 96.000</text><text transform="translate(326.5,1266.1) scale(1,1.06)" font-size="16" text-anchor="middle">Motif score</text><text transform="translate(22.10,954.0) rotate(-90)" font-size="16" text-anchor="middle">Density</text></g>
<!-- panel 4 -->
<g id="p4"><polygon points="718.95,1200.76 718.95,1200.22 719.92,1200.15 720.89,1200.07 721.85,1199.98 722.82,1199.88 723.79,1199.77 724.75,1199.65 725.72,1199.51 726.68,1199.35 727.65,1199.18 728.62,1198.99 729.58,1198.79 730.55,1198.56 731.52,1198.30 732.48,1198.03 733.45,1197.72 734.42,1197.39 735.38,1197.02 736.35,1196.62 737.32,1196.19 738.28,1195.71 739.25,1195.20 740.22,1194.64 741.18,1194.03 742.15,1193.38 743.11,1192.67 744.08,1191.91 745.05,1191.09 746.01,1190.20 746.98,1189.26 747.95,1188.24 748.91,1187.16 749.88,1186.00 750.85,1184.76 751.81,1183.45 752.78,1182.05 753.75,1180.56 754.71,1178.99 755.68,1177.33 756.65,1175.58 757.61,1173.73 758.58,1171.78 759.54,1169.74 760.51,1167.59 761.48,1165.35 762.44,1163.00 763.41,1160.56 764.38,1158.01 765.34,1155.36 766.31,1152.61 767.28,1149.75 768.24,1146.80 769.21,1143.76 770.18,1140.62 771.14,1137.38 772.11,1134.06 773.08,1130.65 774.04,1127.17 775.01,1123.60 775.97,1119.97 776.94,1116.27 777.91,1112.51 778.87,1108.69 779.84,1104.83 780.81,1100.92 781.77,1096.98 782.74,1093.02 783.71,1089.03 784.67,1085.03 785.64,1081.03 786.61,1077.03 787.57,1073.05 788.54,1069.08 789.51,1065.14 790.47,1061.24 791.44,1057.38 792.40,1053.57 793.37,1049.83 794.34,1046.15 795.30,1042.54 796.27,1039.01 797.24,1035.57 798.20,1032.22 799.17,1028.97 800.14,1025.82 801.10,1022.78 802.07,1019.85 803.04,1017.03 804.00,1014.34 804.97,1011.76 805.94,1009.31 806.90,1006.98 807.87,1004.78 808.83,1002.70 809.80,1000.75 810.77,998.92 811.73,997.21 812.70,995.63 813.67,994.16 814.63,992.81 815.60,991.57 816.57,990.45 817.53,989.42 818.50,988.50 819.47,987.68 820.43,986.94 821.40,986.30 822.37,985.73 823.33,985.24 824.30,984.82 825.26,984.47 826.23,984.17 827.20,983.93 828.16,983.73 829.13,983.58 830.10,983.46 831.06,983.37 832.03,983.31 833.00,983.27 833.96,983.25 834.93,983.23 835.90,983.22 836.86,983.22 837.83,983.21 838.80,983.19 839.76,983.16 840.73,983.12 841.69,983.05 842.66,982.97 843.63,982.87 844.59,982.73 845.56,982.57 846.53,982.37 847.49,982.14 848.46,981.88 849.43,981.58 850.39,981.23 851.36,980.85 852.33,980.43 853.29,979.96 854.26,979.44 855.22,978.88 856.19,978.27 857.16,977.62 858.12,976.91 859.09,976.16 860.06,975.35 861.02,974.50 861.99,973.59 862.96,972.63 863.92,971.63 864.89,970.56 865.86,969.45 866.82,968.29 867.79,967.07 868.76,965.80 869.72,964.48 870.69,963.11 871.65,961.69 872.62,960.22 873.59,958.70 874.55,957.13 875.52,955.51 876.49,953.85 877.45,952.14 878.42,950.39 879.39,948.60 880.35,946.77 881.32,944.90 882.29,942.99 883.25,941.05 884.22,939.08 885.19,937.08 886.15,935.05 887.12,933.00 888.08,930.93 889.05,928.83 890.02,926.72 890.98,924.60 891.95,922.47 892.92,920.32 893.88,918.17 894.85,916.02 895.82,913.87 896.78,911.71 897.75,909.56 898.72,907.42 899.68,905.28 900.65,903.15 901.62,901.02 902.58,898.91 903.55,896.81 904.51,894.72 905.48,892.64 906.45,890.57 907.41,888.51 908.38,886.47 909.35,884.43 910.31,882.40 911.28,880.37 912.25,878.35 913.21,876.33 914.18,874.31 915.15,872.28 916.11,870.25 917.08,868.21 918.05,866.15 919.01,864.07 919.98,861.98 920.94,859.85 921.91,857.70 922.88,855.52 923.84,853.29 924.81,851.03 925.78,848.72 926.74,846.36 927.71,843.95 928.68,841.49 929.64,838.96 930.61,836.38 931.58,833.73 932.54,831.01 933.51,828.23 934.48,825.38 935.44,822.46 936.41,819.47 937.37,816.42 938.34,813.30 939.31,810.11 940.27,806.86 941.24,803.54 942.21,800.18 943.17,796.76 944.14,793.29 945.11,789.78 946.07,786.23 947.04,782.65 948.01,779.05 948.97,775.44 949.94,771.82 950.91,768.20 951.87,764.59 952.84,761.01 953.80,757.45 954.77,753.94 955.74,750.47 956.70,747.07 957.67,743.74 958.64,740.49 959.60,737.34 960.57,734.29 961.54,731.35 962.50,728.54 963.47,725.87 964.44,723.34 965.40,720.97 966.37,718.76 967.34,716.72 968.30,714.86 969.27,713.19 970.23,711.72 971.20,710.45 972.17,709.38 973.13,708.53 974.10,707.89 975.07,707.47 976.03,707.28 977.00,707.31 977.97,707.56 978.93,708.04 979.90,708.75 980.87,709.69 981.83,710.85 982.80,712.23 983.77,713.83 984.73,715.65 985.70,717.68 986.66,719.91 987.63,722.35 988.60,724.98 989.56,727.81 990.53,730.81 991.50,734.00 992.46,737.35 993.43,740.86 994.40,744.52 995.36,748.33 996.33,752.28 997.30,756.36 998.26,760.55 999.23,764.86 1000.20,769.26 1001.16,773.76 1002.13,778.34 1003.09,783.00 1004.06,787.73 1005.03,792.51 1005.99,797.34 1006.96,802.22 1007.93,807.12 1008.89,812.05 1009.86,817.00 1010.83,821.96 1011.79,826.91 1012.76,831.86 1013.73,836.80 1014.69,841.72 1015.66,846.61 1016.63,851.47 1017.59,856.29 1018.56,861.07 1019.52,865.79 1020.49,870.46 1021.46,875.07 1022.42,879.62 1023.39,884.09 1024.36,888.49 1025.32,892.81 1026.29,897.05 1027.26,901.20 1028.22,905.27 1029.19,909.25 1030.16,913.13 1031.12,916.91 1032.09,920.60 1033.05,924.19 1034.02,927.68 1034.99,931.07 1035.95,934.35 1036.92,937.53 1037.89,940.61 1038.85,943.58 1039.82,946.45 1040.79,949.21 1041.75,951.87 1042.72,954.42 1043.69,956.88 1044.65,959.23 1045.62,961.48 1046.59,963.63 1047.55,965.69 1048.52,967.64 1049.48,969.51 1050.45,971.28 1051.42,972.96 1052.38,974.55 1053.35,976.05 1054.32,977.47 1055.28,978.81 1056.25,980.07 1057.22,981.25 1058.18,982.35 1059.15,983.38 1060.12,984.34 1061.08,985.23 1062.05,986.06 1063.02,986.82 1063.98,987.52 1064.95,988.16 1065.91,988.75 1066.88,989.29 1067.85,989.77 1068.81,990.21 1069.78,990.60 1070.75,990.95 1071.71,991.27 1072.68,991.54 1073.65,991.79 1074.61,992.00 1075.58,992.19 1076.55,992.35 1077.51,992.49 1078.48,992.61 1079.45,992.72 1080.41,992.82 1081.38,992.92 1082.34,993.01 1083.31,993.10 1084.28,993.19 1085.24,993.29 1086.21,993.40 1087.18,993.53 1088.14,993.68 1089.11,993.86 1090.08,994.06 1091.04,994.29 1092.01,994.56 1092.98,994.87 1093.94,995.23 1094.91,995.63 1095.88,996.09 1096.84,996.60 1097.81,997.18 1098.77,997.82 1099.74,998.54 1100.71,999.32 1101.67,1000.18 1102.64,1001.13 1103.61,1002.15 1104.57,1003.26 1105.54,1004.46 1106.51,1005.76 1107.47,1007.14 1108.44,1008.63 1109.41,1010.20 1110.37,1011.88 1111.34,1013.66 1112.31,1015.54 1113.27,1017.52 1114.24,1019.59 1115.20,1021.77 1116.17,1024.05 1117.14,1026.42 1118.10,1028.89 1119.07,1031.45 1120.04,1034.11 1121.00,1036.85 1121.97,1039.68 1122.94,1042.59 1123.90,1045.57 1124.87,1048.63 1125.84,1051.76 1126.80,1054.96 1127.77,1058.21 1128.74,1061.51 1129.70,1064.87 1130.67,1068.26 1131.63,1071.70 1132.60,1075.16 1133.57,1078.65 1134.53,1082.16 1135.50,1085.68 1136.47,1089.21 1137.43,1092.74 1138.40,1096.27 1139.37,1099.78 1140.33,1103.27 1141.30,1106.75 1142.27,1110.19 1143.23,1113.60 1144.20,1116.97 1145.17,1120.30 1146.13,1123.58 1147.10,1126.80 1148.06,1129.97 1149.03,1133.08 1150.00,1136.12 1150.96,1139.10 1151.93,1142.00 1152.90,1144.83 1153.86,1147.59 1154.83,1150.27 1155.80,1152.86 1156.76,1155.38 1157.73,1157.81 1158.70,1160.16 1159.66,1162.43 1160.63,1164.61 1161.60,1166.71 1162.56,1168.72 1163.53,1170.65 1164.49,1172.50 1165.46,1174.27 1166.43,1175.95 1167.39,1177.56 1168.36,1179.09 1169.33,1180.54 1170.29,1181.92 1171.26,1183.23 1172.23,1184.46 1173.19,1185.63 1174.16,1186.73 1175.13,1187.77 1176.09,1188.74 1177.06,1189.66 1178.03,1190.52 1178.99,1191.32 1179.96,1192.07 1180.92,1192.78 1181.89,1193.43 1182.86,1194.04 1183.82,1194.61 1184.79,1195.13 1185.76,1195.62 1186.72,1196.07 1187.69,1196.49 1188.66,1196.88 1189.62,1197.23 1190.59,1197.56 1191.56,1197.86 1192.52,1198.13 1193.49,1198.39 1194.46,1198.62 1195.42,1198.83 1196.39,1199.02 1197.35,1199.20 1198.32,1199.36 1199.29,1199.50 1200.25,1199.63 1201.22,1199.75 1202.19,1199.86 1203.15,1199.96 1204.12,1200.04 1205.09,1200.12 1206.05,1200.19 1207.02,1200.26 1207.99,1200.32 1208.95,1200.37 1209.92,1200.41 1210.89,1200.45 1211.85,1200.49 1212.82,1200.52 1212.82,1200.76" fill="#f5deb3" stroke="#000" stroke-width="1.25" stroke-linejoin="round"/><line x1="964.46" y1="1220.24" x2="964.46" y2="687.81" stroke="#006400" stroke-width="1.5" stroke-dasharray="6 6" stroke-linecap="round"/><line x1="966.54" y1="1220.24" x2="966.54" y2="687.81" stroke="#006400" stroke-width="1.5" stroke-dasharray="6 6" stroke-linecap="round"/><rect x="699.76" y="687.81" width="532.4300000000001" height="532.4300000000001" fill="none" stroke="#000" stroke-width="0.75" stroke-linejoin="round"/><line x1="756.70" y1="1220.24" x2="1174.30" y2="1220.24" stroke="#000" stroke-width="0.75"/><line x1="756.70" y1="1220.24" x2="756.70" y2="1226.64" stroke="#000" stroke-width="0.75"/><text transform="translate(756.70,1241.9) scale(1.02,1.14)" font-size="10" text-anchor="middle">-600</text><line x1="826.30" y1="1220.24" x2="826.30" y2="1226.64" stroke="#000" stroke-width="0.75"/><text transform="translate(826.30,1241.9) scale(1.02,1.14)" font-size="10" text-anchor="middle">-400</text><line x1="895.90" y1="1220.24" x2="895.90" y2="1226.64" stroke="#000" stroke-width="0.75"/><text transform="translate(895.90,1241.9) scale(1.02,1.14)" font-size="10" text-anchor="middle">-200</text><line x1="965.50" y1="1220.24" x2="965.50" y2="1226.64" stroke="#000" stroke-width="0.75"/><text transform="translate(965.50,1241.9) scale(1.02,1.14)" font-size="10" text-anchor="middle">0</text><line x1="1035.10" y1="1220.24" x2="1035.10" y2="1226.64" stroke="#000" stroke-width="0.75"/><text transform="translate(1035.10,1241.9) scale(1.02,1.14)" font-size="10" text-anchor="middle">200</text><line x1="1104.70" y1="1220.24" x2="1104.70" y2="1226.64" stroke="#000" stroke-width="0.75"/><text transform="translate(1104.70,1241.9) scale(1.02,1.14)" font-size="10" text-anchor="middle">400</text><line x1="1174.30" y1="1220.24" x2="1174.30" y2="1226.64" stroke="#000" stroke-width="0.75"/><text transform="translate(1174.30,1241.9) scale(1.02,1.14)" font-size="10" text-anchor="middle">600</text><line x1="699.76" y1="1200.76" x2="699.76" y2="750.61" stroke="#000" stroke-width="0.75"/><line x1="693.36" y1="1200.76" x2="699.76" y2="1200.76" stroke="#000" stroke-width="0.75"/><text transform="translate(685.26,1200.76) rotate(-90) scale(1.06,1.1)" font-size="10" text-anchor="middle">0.0000</text><line x1="693.36" y1="1050.71" x2="699.76" y2="1050.71" stroke="#000" stroke-width="0.75"/><text transform="translate(685.26,1050.71) rotate(-90) scale(1.06,1.1)" font-size="10" text-anchor="middle">0.0005</text><line x1="693.36" y1="900.66" x2="699.76" y2="900.66" stroke="#000" stroke-width="0.75"/><text transform="translate(685.26,900.66) rotate(-90) scale(1.06,1.1)" font-size="10" text-anchor="middle">0.0010</text><line x1="693.36" y1="750.61" x2="699.76" y2="750.61" stroke="#000" stroke-width="0.75"/><text transform="translate(685.26,750.61) rotate(-90) scale(1.06,1.1)" font-size="10" text-anchor="middle">0.0015</text><text transform="translate(966.0,672.0) scale(1,1.06)" font-size="21.6" font-weight="bold" text-anchor="middle">Enrichment zone: 3.00</text><text transform="translate(966.5,1266.1) scale(1,1.06)" font-size="16" text-anchor="middle">Distance to peak summit</text><text transform="translate(662.10,954.0) rotate(-90)" font-size="16" text-anchor="middle">Density</text><line x1="1017.4" y1="703.3" x2="1041.5" y2="703.3" stroke="#006400" stroke-width="1.125" stroke-dasharray="1.125 3.375" stroke-linecap="round"/><line x1="1017.4" y1="718.9" x2="1041.5" y2="718.9" stroke="#cd2626" stroke-width="1.125" stroke-dasharray="1.125 3.375" stroke-linecap="round" opacity="0.85"/><circle cx="1029.0" cy="734.5" r="2.9" fill="#00f"/><text x="1052.2" y="707.6" font-size="12.9">enrichment zone = 3</text><text x="1052.2" y="723.5" font-size="12.9">motif score threshold = 96.000</text><text x="1052.2" y="738.9" font-size="12.9">centrality p-val = 0.0000</text></g>
</svg>
</body></html>
